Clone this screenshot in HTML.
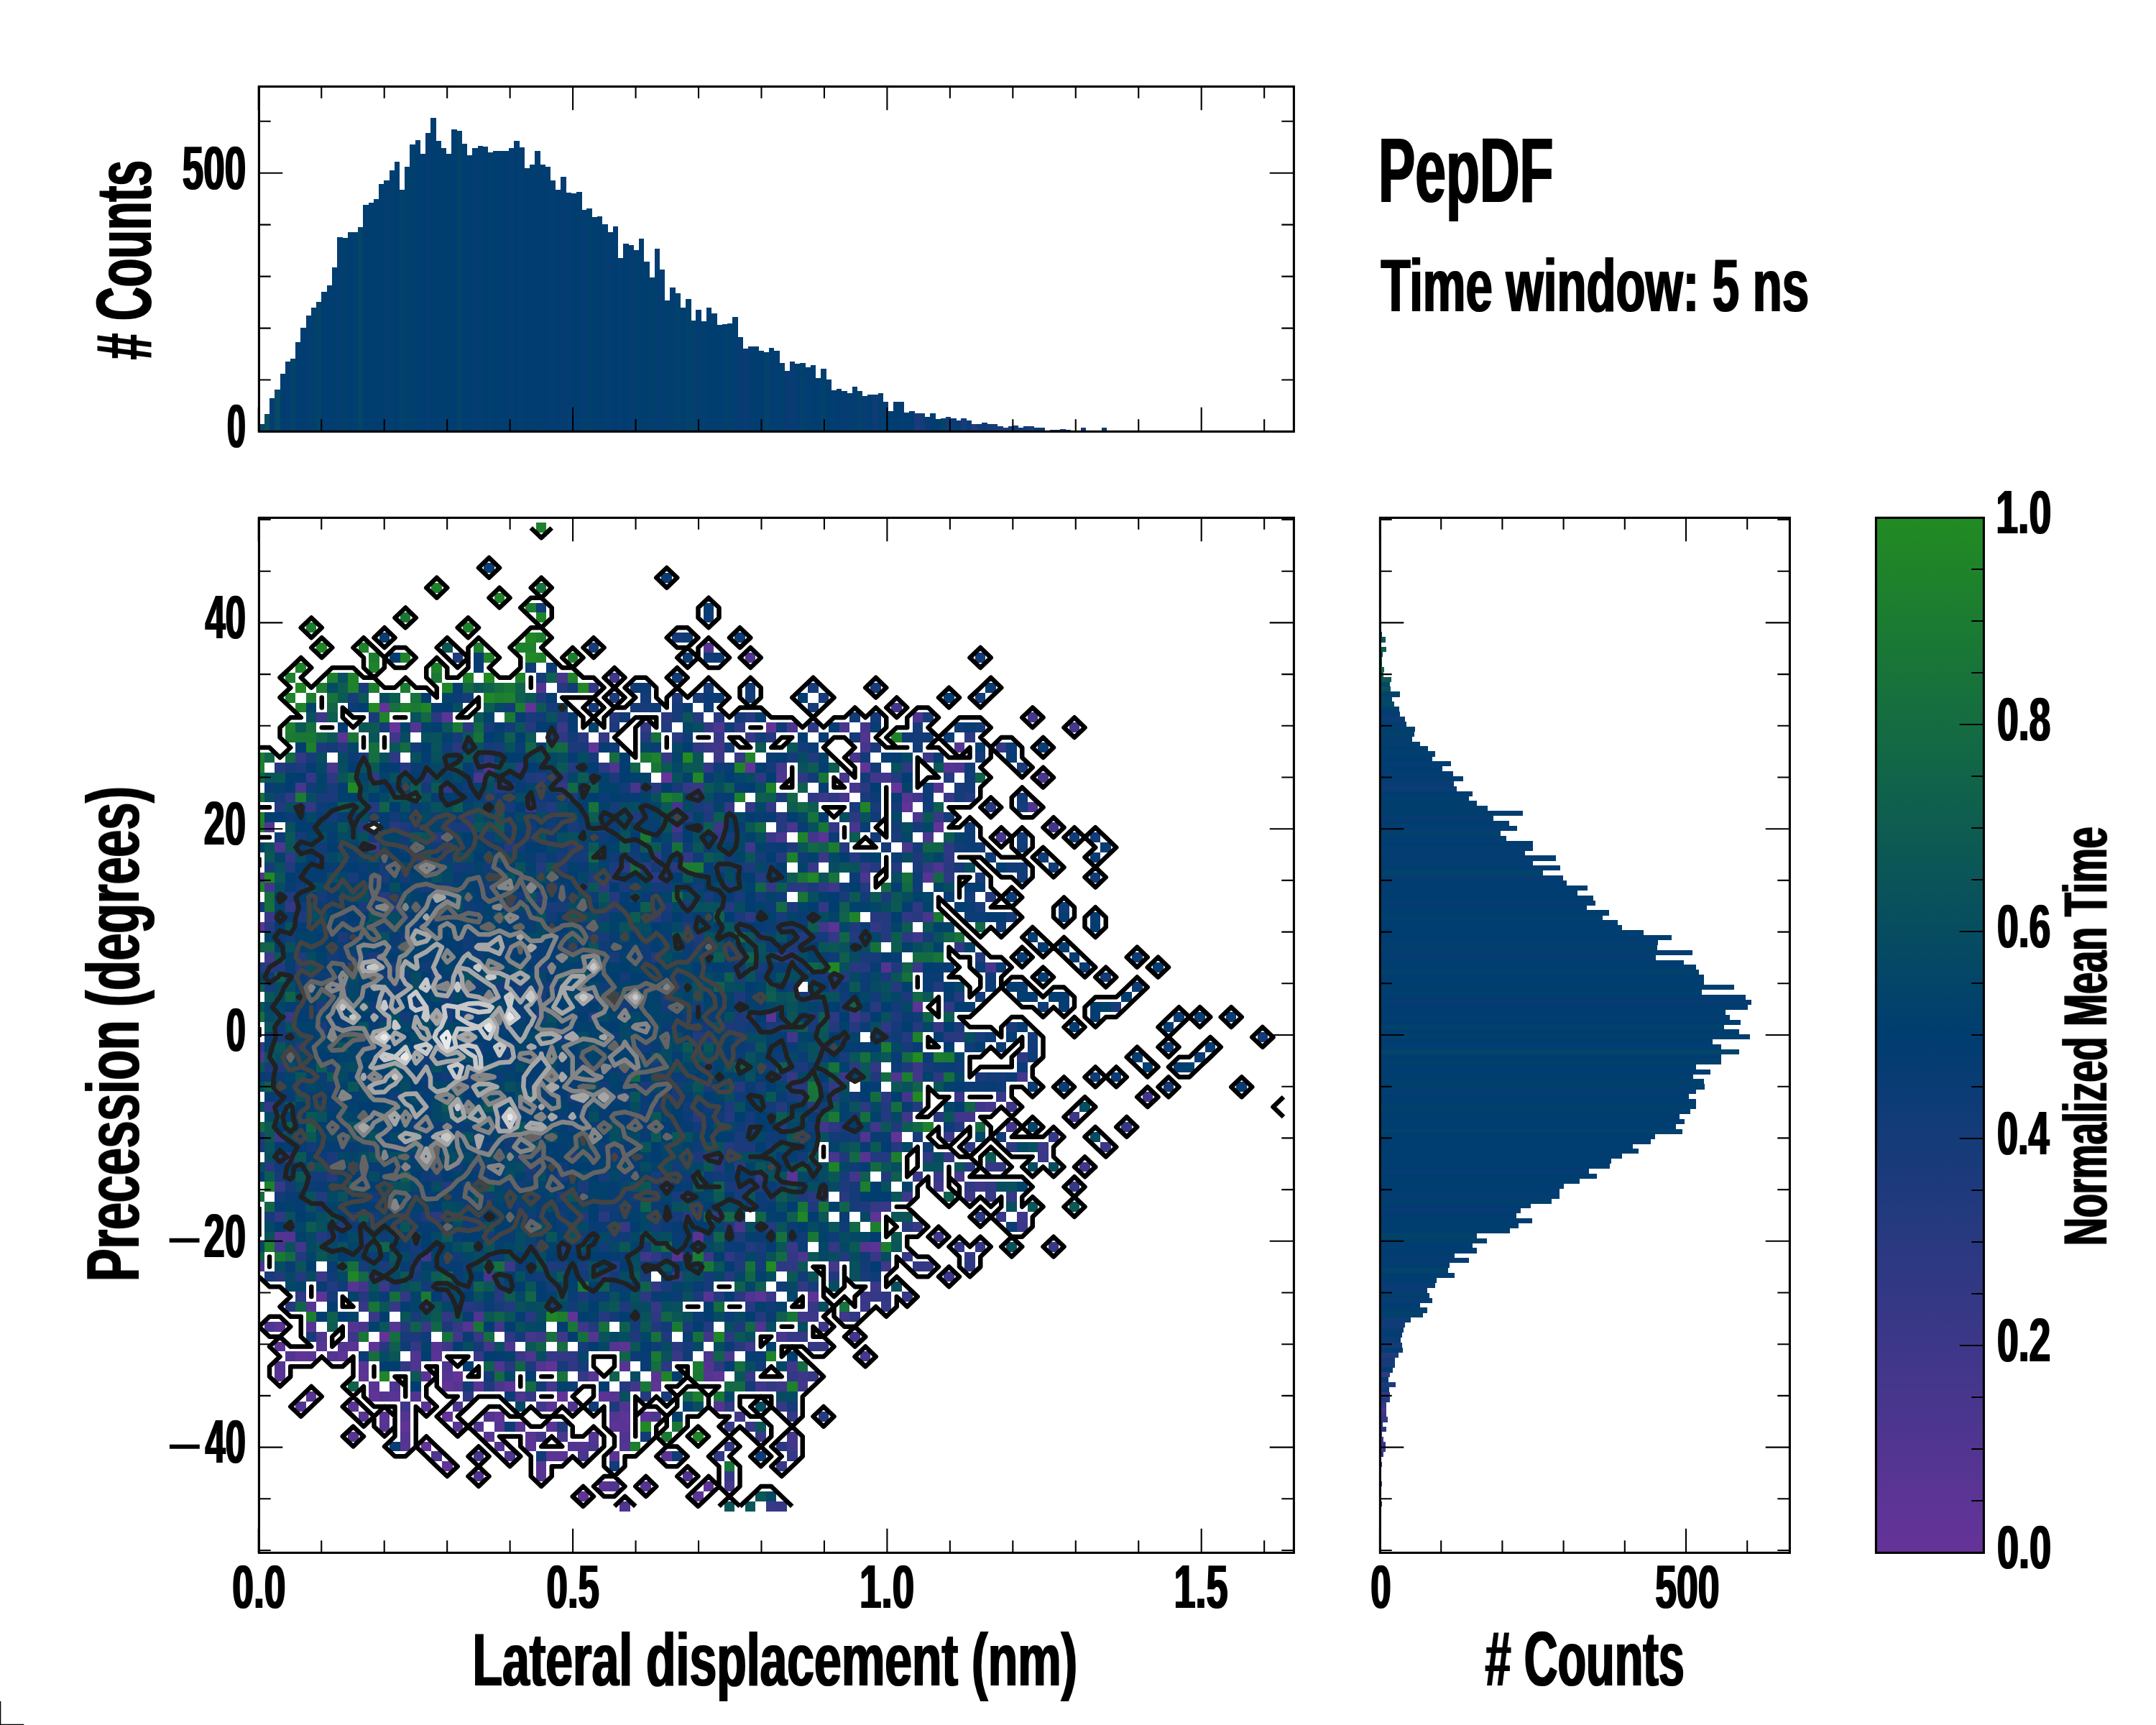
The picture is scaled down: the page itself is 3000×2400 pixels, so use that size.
<!DOCTYPE html>
<html lang="en"><head><meta charset="utf-8"><title>PepDF</title><style>html,body{margin:0;padding:0;background:#fff;overflow:hidden}svg{display:block}</style></head><body>
<svg width="3000" height="2400" viewBox="0 0 3000 2400">
<defs><clipPath id="cm"><rect x="360" y="720" width="1440" height="1440"/></clipPath><linearGradient id="cg" x1="0" y1="1" x2="0" y2="0"><stop offset="0" stop-color="#663399"/><stop offset="0.5" stop-color="#003d70"/><stop offset="1" stop-color="#228b22"/></linearGradient><filter id="fh" x="-5%" y="-5%" width="110%" height="110%"><feMorphology operator="dilate" radius="1 0"/></filter><filter id="fv" x="-5%" y="-5%" width="110%" height="110%"><feMorphology operator="dilate" radius="0 1"/></filter></defs>
<rect width="3000" height="2400" fill="#fff"/>
<g clip-path="url(#cm)"><g shape-rendering="crispEdges" transform="translate(353.227,727.446) scale(14.54545,13.89192)">
<path fill="#663399" d="M61 26h1v1h-1zM39 25h1v1h-1zM13 20h1v1h-1z"/>
<path fill="#633398" d="M18 94h1v1h-1zM16 92h1v1h-1zM18 89h1v1h-1zM29 87h1v1h-1zM19 85h1v1h-1zM12 81h1v1h-1zM12 18h1v1h-1zM26 18h1v1h-1z"/>
<path fill="#603496" d="M31 97h1v1h-1zM14 90h1v1h-1zM23 89h1v1h-1zM11 87h1v1h-1zM18 86h1v1h-1zM38 86h1v1h-1zM28 84h1v1h-1zM4 83h1v1h-1zM61 61h1v1h-1zM65 30h1v1h-1zM62 28h1v1h-1zM47 24h1v1h-1zM58 24h1v1h-1zM32 22h1v1h-1zM49 20h1v1h-1z"/>
<path fill="#5c3495" d="M42 97h1v1h-1zM43 96h1v1h-1zM26 92h1v1h-1zM34 90h1v1h-1zM35 89h1v1h-1zM37 89h1v1h-1zM24 86h1v1h-1zM10 85h1v1h-1zM44 85h1v1h-1zM5 83h1v1h-1zM8 83h1v1h-1zM2 82h1v1h-1zM11 82h1v1h-1zM35 82h1v1h-1zM2 80h1v1h-1zM30 79h1v1h-1zM6 77h1v1h-1zM48 77h1v1h-1zM53 77h1v1h-1zM59 69h1v1h-1zM63 48h1v1h-1zM18 19h1v1h-1z"/>
<path fill="#593494" d="M33 96h1v1h-1zM28 93h2v1h-2zM34 93h1v1h-1zM39 93h1v1h-1zM22 91h1v1h-1zM26 91h1v1h-1zM28 90h1v1h-1zM35 90h1v1h-1zM12 89h1v1h-1zM9 88h1v1h-1zM16 88h1v1h-1zM28 88h1v1h-1zM13 87h1v1h-1zM33 87h1v1h-1zM11 86h1v1h-1zM21 86h1v1h-1zM2 85h1v1h-1zM16 85h1v1h-1zM38 85h1v1h-1zM10 84h1v1h-1zM17 83h1v1h-1zM9 82h1v1h-1zM59 72h1v1h-1zM51 65h1v1h-1zM49 49h1v1h-1zM0 40h1v1h-1zM55 40h1v1h-1zM54 31h1v1h-1zM8 21h1v1h-1z"/>
<path fill="#563592" d="M27 95h1v1h-1zM27 94h1v1h-1zM14 92h1v1h-1zM9 91h1v1h-1zM12 90h1v1h-1zM19 90h1v1h-1zM23 90h1v1h-1zM25 90h1v1h-1zM10 89h1v1h-1zM5 87h1v1h-1zM34 87h1v1h-1zM19 86h1v1h-1zM18 85h1v1h-1zM32 85h1v1h-1zM43 85h1v1h-1zM2 84h1v1h-1zM35 84h1v1h-1zM6 82h1v1h-1zM17 82h1v1h-1zM5 80h1v1h-1zM13 80h1v1h-1zM43 77h1v1h-1zM9 76h1v1h-1zM42 71h1v1h-1zM58 63h1v1h-1zM64 35h1v1h-1zM62 27h1v1h-1zM66 24h1v1h-1zM43 12h1v1h-1z"/>
<path fill="#533591" d="M37 96h1v1h-1zM23 92h1v1h-1zM31 92h1v1h-1zM35 92h1v1h-1zM14 91h1v1h-1zM32 91h1v1h-1zM21 90h1v1h-1zM14 89h1v1h-1zM34 89h1v1h-1zM4 88h1v1h-1zM44 88h1v1h-1zM12 87h1v1h-1zM27 84h1v1h-1zM43 84h1v1h-1zM7 83h1v1h-1zM8 82h1v1h-1zM34 82h1v1h-1zM32 81h1v1h-1zM9 80h1v1h-1zM20 80h1v1h-1zM5 78h1v1h-1zM40 73h1v1h-1zM58 72h1v1h-1zM2 71h2v1h-2zM60 44h1v1h-1zM0 35h1v1h-1zM65 26h1v1h-1zM67 22h1v1h-1zM15 20h1v1h-1zM27 16h1v1h-1z"/>
<path fill="#4f3590" d="M35 98h1v1h-1zM34 96h1v1h-1zM21 95h1v1h-1zM41 95h1v1h-1zM24 93h1v1h-1zM30 92h1v1h-1zM35 91h1v1h-1zM22 89h1v1h-1zM30 88h1v1h-1zM35 88h1v1h-1zM15 87h1v1h-1zM18 84h1v1h-1zM23 84h1v1h-1zM3 83h1v1h-1zM15 83h1v1h-1zM24 82h1v1h-1zM48 80h1v1h-1zM21 79h1v1h-1zM47 77h1v1h-1zM0 74h1v1h-1zM58 61h1v1h-1zM0 53h1v1h-1zM1 30h1v1h-1zM22 24h1v1h-1zM67 24h1v1h-1zM58 21h1v1h-1zM63 19h1v1h-1zM47 13h1v1h-1z"/>
<path fill="#4c368f" d="M17 93h1v1h-1zM38 89h1v1h-1zM19 88h1v1h-1zM25 87h1v1h-1zM13 86h1v1h-1zM15 84h1v1h-1zM26 83h1v1h-1zM6 81h1v1h-1zM1 80h1v1h-1zM52 73h1v1h-1zM61 55h1v1h-1zM65 34h1v1h-1zM2 32h1v1h-1zM50 31h1v1h-1zM74 28h1v1h-1zM50 25h1v1h-1zM34 24h1v1h-1zM44 20h1v1h-1z"/>
<path fill="#49368d" d="M21 93h1v1h-1zM32 92h1v1h-1zM29 91h1v1h-1zM23 86h1v1h-1zM43 83h1v1h-1zM45 83h1v1h-1zM67 65h1v1h-1zM58 35h1v1h-1zM62 32h1v1h-1zM64 31h1v1h-1zM51 30h1v1h-1zM63 29h1v1h-1zM56 27h1v1h-1zM21 25h1v1h-1zM75 25h1v1h-1zM7 24h1v1h-1zM51 20h1v1h-1zM56 20h1v1h-1z"/>
<path fill="#46368c" d="M45 96h1v1h-1zM31 93h1v1h-1zM51 91h1v1h-1zM28 86h1v1h-1zM58 83h1v1h-1zM26 81h1v1h-1zM50 81h1v1h-1zM10 80h1v1h-1zM22 75h1v1h-1zM55 74h1v1h-1zM46 70h1v1h-1zM55 63h1v1h-1zM70 58h1v1h-1zM70 44h1v1h-1zM64 39h1v1h-1zM71 31h1v1h-1zM57 30h1v1h-1zM4 26h1v1h-1zM36 26h1v1h-1zM57 26h1v1h-1zM56 25h1v1h-1zM50 24h1v1h-1zM57 23h1v1h-1zM58 22h1v1h-1zM58 20h1v1h-1zM78 20h1v1h-1zM74 19h1v1h-1zM29 15h1v1h-1z"/>
<path fill="#42368b" d="M51 92h1v1h-1zM27 91h1v1h-1zM46 89h1v1h-1zM36 86h1v1h-1zM52 86h1v1h-1zM22 82h1v1h-1zM43 81h1v1h-1zM57 81h1v1h-1zM23 80h1v1h-1zM10 76h1v1h-1zM16 73h1v1h-1zM57 65h1v1h-1zM79 64h1v1h-1zM54 60h1v1h-1zM72 60h1v1h-1zM62 59h1v1h-1zM68 59h1v1h-1zM62 57h1v1h-1zM85 57h1v1h-1zM63 55h1v1h-1zM73 55h1v1h-1zM51 51h1v1h-1zM1 36h1v1h-1zM53 31h1v1h-1zM76 30h1v1h-1zM40 28h1v1h-1zM63 27h1v1h-1zM59 25h2v1h-2zM44 22h1v1h-1zM61 18h1v1h-1z"/>
<path fill="#3f3789" d="M14 88h1v1h-1zM27 88h1v1h-1zM48 86h1v1h-1zM51 84h1v1h-1zM47 82h1v1h-1zM19 81h1v1h-1zM29 81h1v1h-1zM52 79h1v1h-1zM56 79h1v1h-1zM60 74h1v1h-1zM37 73h1v1h-1zM2 72h1v1h-1zM4 72h1v1h-1zM65 71h1v1h-1zM73 69h1v1h-1zM65 66h1v1h-1zM59 60h1v1h-1zM67 59h1v1h-1zM1 43h1v1h-1zM63 41h1v1h-1zM54 40h1v1h-1zM55 36h1v1h-1zM11 32h1v1h-1zM47 32h1v1h-1zM40 30h1v1h-1zM13 21h1v1h-1zM6 19h1v1h-1zM34 15h1v1h-1z"/>
<path fill="#3c3788" d="M50 86h1v1h-1zM52 85h1v1h-1zM18 82h1v1h-1zM9 81h1v1h-1zM27 81h1v1h-1zM31 80h1v1h-1zM54 80h1v1h-1zM53 79h1v1h-1zM58 77h1v1h-1zM12 76h1v1h-1zM59 76h1v1h-1zM6 75h1v1h-1zM66 75h1v1h-1zM24 74h1v1h-1zM73 70h1v1h-1zM62 67h1v1h-1zM68 67h1v1h-1zM69 66h1v1h-1zM75 62h1v1h-1zM2 61h1v1h-1zM66 61h1v1h-1zM78 59h1v1h-1zM69 58h1v1h-1zM56 55h1v1h-1zM63 54h1v1h-1zM57 49h1v1h-1zM63 44h1v1h-1zM54 33h1v1h-1zM44 30h1v1h-1zM54 27h1v1h-1zM44 23h1v1h-1z"/>
<path fill="#393787" d="M49 98h1v1h-1zM50 94h1v1h-1zM48 91h1v1h-1zM47 90h1v1h-1zM21 83h1v1h-1zM25 83h1v1h-1zM40 83h1v1h-1zM16 80h1v1h-1zM11 79h1v1h-1zM13 78h1v1h-1zM58 78h1v1h-1zM49 77h1v1h-1zM40 75h1v1h-1zM43 73h1v1h-1zM51 72h1v1h-1zM71 69h1v1h-1zM60 68h1v1h-1zM2 66h1v1h-1zM63 65h1v1h-1zM65 65h1v1h-1zM75 63h1v1h-1zM81 62h1v1h-1zM72 58h1v1h-1zM67 57h1v1h-1zM71 57h1v1h-1zM3 49h1v1h-1zM9 44h1v1h-1zM1 39h1v1h-1zM49 31h1v1h-1zM65 29h1v1h-1zM26 28h1v1h-1zM42 26h1v1h-1zM64 23h1v1h-1zM43 22h1v1h-1zM44 21h1v1h-1zM29 20h1v1h-1z"/>
<path fill="#353885" d="M50 98h1v1h-1zM45 95h1v1h-1zM45 90h1v1h-1zM50 88h1v1h-1zM31 85h1v1h-1zM47 85h1v1h-1zM53 85h1v1h-1zM28 83h1v1h-1zM54 82h1v1h-1zM21 81h1v1h-1zM51 81h2v1h-2zM19 80h1v1h-1zM10 78h1v1h-1zM38 78h1v1h-1zM53 78h1v1h-1zM60 78h1v1h-1zM59 77h1v1h-1zM62 77h1v1h-1zM64 74h1v1h-1zM59 73h1v1h-1zM62 73h1v1h-1zM67 72h1v1h-1zM76 72h1v1h-1zM35 70h1v1h-1zM63 70h1v1h-1zM59 68h1v1h-1zM70 67h1v1h-1zM72 67h1v1h-1zM78 66h1v1h-1zM48 65h1v1h-1zM70 64h2v1h-2zM66 63h1v1h-1zM76 61h1v1h-1zM83 60h1v1h-1zM51 55h1v1h-1zM0 52h1v1h-1zM65 50h1v1h-1zM53 34h1v1h-1zM58 34h1v1h-1zM64 34h1v1h-1zM38 33h1v1h-1zM55 30h1v1h-1zM45 28h1v1h-1zM66 27h1v1h-1zM41 26h1v1h-1zM39 23h1v1h-1zM71 22h1v1h-1zM33 21h1v1h-1zM37 20h1v1h-1zM43 20h1v1h-1z"/>
<path fill="#323884" d="M44 93h1v1h-1zM51 93h1v1h-1zM51 89h1v1h-1zM26 87h1v1h-1zM49 86h1v1h-1zM51 85h1v1h-1zM14 84h1v1h-1zM29 83h1v1h-1zM15 82h1v1h-1zM53 82h1v1h-1zM18 79h1v1h-1zM14 77h1v1h-1zM38 76h1v1h-1zM52 76h1v1h-1zM63 74h1v1h-1zM51 73h1v1h-1zM68 73h1v1h-1zM55 72h1v1h-1zM69 72h1v1h-1zM44 69h1v1h-1zM41 67h1v1h-1zM39 66h1v1h-1zM70 66h1v1h-1zM1 58h1v1h-1zM55 56h1v1h-1zM59 54h1v1h-1zM66 48h1v1h-1zM67 42h1v1h-1zM55 41h1v1h-1zM59 40h1v1h-1zM3 38h1v1h-1zM54 38h1v1h-1zM49 36h1v1h-1zM3 33h1v1h-1zM41 33h1v1h-1zM44 31h1v1h-1zM5 28h1v1h-1zM47 28h1v1h-1zM49 28h1v1h-1zM29 26h1v1h-1zM5 25h1v1h-1zM11 25h1v1h-1zM43 24h1v1h-1zM4 23h1v1h-1zM46 23h1v1h-1zM47 21h1v1h-1zM32 16h1v1h-1z"/>
<path fill="#2f3883" d="M45 92h1v1h-1zM45 88h1v1h-1zM30 84h1v1h-1zM30 83h1v1h-1zM38 79h1v1h-1zM57 79h1v1h-1zM4 77h1v1h-1zM60 77h1v1h-1zM50 74h2v1h-2zM38 73h1v1h-1zM45 73h1v1h-1zM2 69h1v1h-1zM68 66h1v1h-1zM46 64h1v1h-1zM43 63h1v1h-1zM64 63h1v1h-1zM60 50h1v1h-1zM50 43h1v1h-1zM62 39h1v1h-1zM63 38h1v1h-1zM33 36h1v1h-1zM54 36h1v1h-1zM18 32h1v1h-1zM3 27h1v1h-1zM53 27h1v1h-1zM18 26h1v1h-1zM62 24h1v1h-1zM13 23h1v1h-1zM46 20h1v1h-1z"/>
<path fill="#2c3982" d="M20 87h1v1h-1zM39 84h1v1h-1zM44 84h1v1h-1zM24 81h1v1h-1zM45 81h1v1h-1zM37 77h1v1h-1zM68 74h1v1h-1zM17 69h1v1h-1zM3 63h1v1h-1zM68 62h1v1h-1zM72 62h1v1h-1zM55 60h1v1h-1zM58 58h1v1h-1zM60 57h1v1h-1zM65 55h1v1h-1zM57 54h1v1h-1zM73 53h1v1h-1zM55 49h1v1h-1zM1 44h1v1h-1zM62 41h1v1h-1zM47 39h1v1h-1zM52 36h1v1h-1zM38 35h1v1h-1zM66 35h1v1h-1zM35 34h1v1h-1zM37 34h1v1h-1zM66 33h1v1h-1zM66 32h1v1h-1zM57 29h1v1h-1zM55 27h1v1h-1zM7 25h1v1h-1zM48 25h1v1h-1zM52 25h1v1h-1zM25 24h1v1h-1zM33 24h1v1h-1zM42 22h1v1h-1zM29 21h1v1h-1zM68 21h1v1h-1zM53 20h1v1h-1z"/>
<path fill="#283980" d="M50 92h1v1h-1zM54 89h1v1h-1zM40 82h1v1h-1zM46 82h1v1h-1zM26 79h1v1h-1zM16 78h1v1h-1zM47 78h1v1h-1zM23 77h1v1h-1zM46 77h1v1h-1zM34 74h1v1h-1zM33 69h1v1h-1zM41 69h1v1h-1zM69 69h1v1h-1zM53 67h1v1h-1zM56 67h1v1h-1zM1 64h1v1h-1zM68 64h1v1h-1zM44 63h1v1h-1zM42 59h1v1h-1zM65 59h1v1h-1zM53 58h1v1h-1zM55 57h1v1h-1zM51 56h1v1h-1zM66 51h2v1h-2zM58 49h1v1h-1zM59 48h1v1h-1zM57 44h1v1h-1zM51 43h1v1h-1zM1 40h1v1h-1zM38 39h1v1h-1zM63 39h1v1h-1zM12 37h1v1h-1zM51 36h1v1h-1zM40 34h1v1h-1zM66 34h1v1h-1zM15 33h1v1h-1zM40 31h1v1h-1zM13 30h1v1h-1zM23 26h1v1h-1zM38 26h1v1h-1zM58 26h1v1h-1zM29 25h1v1h-1zM14 24h1v1h-1zM22 23h1v1h-1zM19 22h1v1h-1zM31 21h1v1h-1zM40 21h1v1h-1zM20 20h1v1h-1zM17 19h1v1h-1zM39 19h1v1h-1z"/>
<path fill="#25397f" d="M37 87h1v1h-1zM35 86h1v1h-1zM24 84h1v1h-1zM12 82h1v1h-1zM14 80h1v1h-1zM32 80h1v1h-1zM33 79h1v1h-1zM3 78h1v1h-1zM20 78h1v1h-1zM10 77h1v1h-1zM2 75h1v1h-1zM4 75h1v1h-1zM33 75h1v1h-1zM45 75h1v1h-1zM62 70h1v1h-1zM7 65h1v1h-1zM44 64h1v1h-1zM50 60h1v1h-1zM45 59h1v1h-1zM50 58h1v1h-1zM46 56h1v1h-1zM52 56h1v1h-1zM4 52h1v1h-1zM57 50h1v1h-1zM67 47h1v1h-1zM61 46h1v1h-1zM56 45h1v1h-1zM58 44h1v1h-1zM38 43h1v1h-1zM60 41h1v1h-1zM59 39h2v1h-2zM24 38h1v1h-1zM34 37h1v1h-1zM70 37h1v1h-1zM59 34h1v1h-1zM50 33h1v1h-1zM24 32h1v1h-1zM56 32h1v1h-1zM17 31h1v1h-1zM10 30h1v1h-1zM41 29h1v1h-1zM50 29h1v1h-1zM70 28h1v1h-1zM27 25h1v1h-1zM2 24h1v1h-1zM49 21h1v1h-1zM26 20h1v1h-1zM34 19h1v1h-1zM42 19h1v1h-1zM44 19h1v1h-1zM47 19h1v1h-1zM29 16h1v1h-1z"/>
<path fill="#223a7e" d="M43 80h1v1h-1zM48 79h1v1h-1zM24 78h1v1h-1zM18 77h1v1h-1zM44 77h1v1h-1zM7 76h1v1h-1zM15 74h1v1h-1zM4 73h1v1h-1zM56 73h1v1h-1zM29 72h1v1h-1zM47 72h1v1h-1zM6 71h1v1h-1zM8 70h1v1h-1zM49 70h1v1h-1zM6 67h1v1h-1zM18 66h1v1h-1zM48 66h1v1h-1zM10 64h1v1h-1zM30 63h1v1h-1zM59 63h2v1h-2zM45 62h1v1h-1zM61 62h1v1h-1zM67 60h1v1h-1zM60 59h1v1h-1zM60 58h1v1h-1zM63 58h1v1h-1zM54 52h1v1h-1zM42 51h1v1h-1zM62 51h1v1h-1zM55 50h1v1h-1zM63 50h1v1h-1zM47 49h1v1h-1zM65 46h1v1h-1zM0 44h1v1h-1zM2 44h1v1h-1zM4 44h1v1h-1zM4 43h1v1h-1zM69 43h1v1h-1zM52 41h1v1h-1zM57 41h1v1h-1zM60 40h1v1h-1zM45 38h1v1h-1zM3 37h1v1h-1zM28 36h1v1h-1zM58 36h1v1h-1zM34 35h1v1h-1zM48 35h1v1h-1zM3 34h1v1h-1zM27 34h1v1h-1zM39 34h1v1h-1zM61 34h1v1h-1zM57 33h1v1h-1zM50 30h1v1h-1zM20 29h1v1h-1zM2 28h1v1h-1zM4 28h1v1h-1zM11 28h1v1h-1zM28 28h1v1h-1zM43 28h1v1h-1zM68 27h1v1h-1zM16 25h1v1h-1zM61 25h1v1h-1zM66 25h1v1h-1zM30 24h1v1h-1zM8 22h1v1h-1zM37 21h1v1h-1zM39 20h1v1h-1z"/>
<path fill="#1f3a7c" d="M29 90h1v1h-1zM34 88h1v1h-1zM22 86h1v1h-1zM36 81h1v1h-1zM39 81h1v1h-1zM38 80h1v1h-1zM21 78h1v1h-1zM35 78h1v1h-1zM23 76h1v1h-1zM11 75h1v1h-1zM55 75h1v1h-1zM28 74h1v1h-1zM46 74h1v1h-1zM41 73h1v1h-1zM46 71h1v1h-1zM45 70h1v1h-1zM14 69h1v1h-1zM16 69h1v1h-1zM31 69h1v1h-1zM53 68h1v1h-1zM58 68h1v1h-1zM29 67h1v1h-1zM56 66h1v1h-1zM60 65h1v1h-1zM7 64h1v1h-1zM56 63h1v1h-1zM0 61h1v1h-1zM61 60h1v1h-1zM45 58h1v1h-1zM52 57h1v1h-1zM59 55h1v1h-1zM2 54h1v1h-1zM62 54h1v1h-1zM43 51h1v1h-1zM46 51h1v1h-1zM32 49h1v1h-1zM61 49h1v1h-1zM8 46h1v1h-1zM55 46h1v1h-1zM46 45h1v1h-1zM55 45h1v1h-1zM61 44h1v1h-1zM51 42h1v1h-1zM42 41h1v1h-1zM41 40h1v1h-1zM57 40h1v1h-1zM4 39h1v1h-1zM13 38h1v1h-1zM27 37h1v1h-1zM32 35h1v1h-1zM34 34h1v1h-1zM47 34h1v1h-1zM30 32h1v1h-1zM51 32h1v1h-1zM36 29h1v1h-1zM43 29h1v1h-1zM30 27h1v1h-1zM24 26h1v1h-1zM26 25h1v1h-1zM4 24h1v1h-1zM21 24h1v1h-1zM53 23h1v1h-1zM29 19h1v1h-1zM27 17h1v1h-1zM34 17h1v1h-1zM40 17h1v1h-1z"/>
<path fill="#1c3a7b" d="M26 84h1v1h-1zM15 81h1v1h-1zM18 80h1v1h-1zM41 80h1v1h-1zM46 80h1v1h-1zM31 77h1v1h-1zM42 77h1v1h-1zM12 74h1v1h-1zM46 73h1v1h-1zM10 72h1v1h-1zM3 70h1v1h-1zM9 69h1v1h-1zM52 67h1v1h-1zM31 66h1v1h-1zM46 66h1v1h-1zM29 65h1v1h-1zM26 64h1v1h-1zM7 63h1v1h-1zM42 63h1v1h-1zM0 62h1v1h-1zM46 62h2v1h-2zM47 60h1v1h-1zM56 60h1v1h-1zM36 59h1v1h-1zM37 56h1v1h-1zM69 55h1v1h-1zM1 54h1v1h-1zM43 54h1v1h-1zM52 54h1v1h-1zM56 51h1v1h-1zM6 50h1v1h-1zM45 50h1v1h-1zM50 50h1v1h-1zM67 50h1v1h-1zM27 49h1v1h-1zM46 49h1v1h-1zM53 49h1v1h-1zM6 48h1v1h-1zM42 48h1v1h-1zM27 47h1v1h-1zM46 47h1v1h-1zM53 47h1v1h-1zM62 47h1v1h-1zM60 45h1v1h-1zM11 43h1v1h-1zM46 43h1v1h-1zM30 42h1v1h-1zM45 42h1v1h-1zM8 41h1v1h-1zM32 41h1v1h-1zM34 38h1v1h-1zM41 38h1v1h-1zM51 38h1v1h-1zM60 37h1v1h-1zM31 36h1v1h-1zM35 36h1v1h-1zM53 36h1v1h-1zM11 35h1v1h-1zM39 35h1v1h-1zM44 34h1v1h-1zM63 33h1v1h-1zM14 30h1v1h-1zM18 30h1v1h-1zM20 30h1v1h-1zM33 30h1v1h-1zM7 27h1v1h-1zM22 27h1v1h-1zM34 25h1v1h-1zM6 22h1v1h-1zM30 22h1v1h-1zM59 22h1v1h-1zM34 20h1v1h-1zM11 19h1v1h-1zM19 13h1v1h-1z"/>
<path fill="#183b7a" d="M39 87h1v1h-1zM31 82h1v1h-1zM14 81h1v1h-1zM15 79h1v1h-1zM23 78h1v1h-1zM17 76h1v1h-1zM39 76h1v1h-1zM53 76h1v1h-1zM1 75h1v1h-1zM37 75h1v1h-1zM58 75h1v1h-1zM10 74h1v1h-1zM29 74h1v1h-1zM31 74h1v1h-1zM48 72h1v1h-1zM7 71h1v1h-1zM10 71h1v1h-1zM38 67h1v1h-1zM40 67h1v1h-1zM46 67h1v1h-1zM54 67h1v1h-1zM20 66h1v1h-1zM47 66h1v1h-1zM33 65h1v1h-1zM38 65h1v1h-1zM56 65h1v1h-1zM2 63h1v1h-1zM45 63h1v1h-1zM46 61h1v1h-1zM30 57h1v1h-1zM40 57h1v1h-1zM51 57h1v1h-1zM43 56h1v1h-1zM48 56h1v1h-1zM50 55h1v1h-1zM38 54h1v1h-1zM51 54h1v1h-1zM56 53h1v1h-1zM29 51h1v1h-1zM60 51h1v1h-1zM69 51h1v1h-1zM46 50h1v1h-1zM49 50h1v1h-1zM53 50h1v1h-1zM72 50h1v1h-1zM18 48h1v1h-1zM82 48h1v1h-1zM22 47h1v1h-1zM32 47h1v1h-1zM39 47h1v1h-1zM1 46h1v1h-1zM13 44h1v1h-1zM48 44h1v1h-1zM34 43h1v1h-1zM58 43h1v1h-1zM48 41h1v1h-1zM46 39h1v1h-1zM50 39h1v1h-1zM10 38h1v1h-1zM28 38h2v1h-2zM39 38h1v1h-1zM69 38h1v1h-1zM43 37h1v1h-1zM46 37h1v1h-1zM56 37h1v1h-1zM16 36h1v1h-1zM45 36h1v1h-1zM9 35h1v1h-1zM12 35h1v1h-1zM1 34h1v1h-1zM29 34h1v1h-1zM46 34h1v1h-1zM27 33h1v1h-1zM29 33h1v1h-1zM10 32h1v1h-1zM61 31h1v1h-1zM19 30h1v1h-1zM30 30h1v1h-1zM27 28h1v1h-1zM42 28h1v1h-1zM57 28h1v1h-1zM59 28h1v1h-1zM6 27h1v1h-1zM42 27h1v1h-1zM50 27h1v1h-1zM58 27h1v1h-1zM7 26h1v1h-1zM18 24h1v1h-1zM73 24h1v1h-1zM5 23h1v1h-1zM10 23h1v1h-1zM23 22h1v1h-1zM26 19h1v1h-1zM64 19h1v1h-1zM37 18h1v1h-1zM53 18h1v1h-1zM9 17h1v1h-1zM42 17h1v1h-1zM54 17h1v1h-1zM10 16h1v1h-1zM53 16h1v1h-1zM59 16h1v1h-1zM32 12h1v1h-1z"/>
<path fill="#153b78" d="M51 88h1v1h-1zM29 84h1v1h-1zM31 84h1v1h-1zM41 82h1v1h-1zM5 81h1v1h-1zM36 80h1v1h-1zM28 78h1v1h-1zM7 77h1v1h-1zM13 76h1v1h-1zM28 76h1v1h-1zM43 76h1v1h-1zM15 75h1v1h-1zM31 75h1v1h-1zM39 73h1v1h-1zM15 72h1v1h-1zM26 72h2v1h-2zM31 71h1v1h-1zM38 70h1v1h-1zM1 69h1v1h-1zM11 69h1v1h-1zM40 69h1v1h-1zM57 68h1v1h-1zM49 67h1v1h-1zM57 67h1v1h-1zM45 66h1v1h-1zM50 66h1v1h-1zM57 66h1v1h-1zM2 65h1v1h-1zM5 65h2v1h-2zM17 65h1v1h-1zM19 64h1v1h-1zM11 62h1v1h-1zM49 62h1v1h-1zM26 61h1v1h-1zM63 61h1v1h-1zM23 60h1v1h-1zM35 57h1v1h-1zM40 56h1v1h-1zM54 56h1v1h-1zM87 56h1v1h-1zM20 55h1v1h-1zM39 55h1v1h-1zM16 54h1v1h-1zM64 54h1v1h-1zM24 52h1v1h-1zM62 52h1v1h-1zM2 51h1v1h-1zM74 51h1v1h-1zM18 49h1v1h-1zM46 48h1v1h-1zM56 48h1v1h-1zM23 46h1v1h-1zM28 46h1v1h-1zM17 45h1v1h-1zM27 44h1v1h-1zM7 43h1v1h-1zM59 43h1v1h-1zM42 42h1v1h-1zM3 41h1v1h-1zM33 41h1v1h-1zM53 41h2v1h-2zM64 41h1v1h-1zM50 40h2v1h-2zM17 39h1v1h-1zM33 39h1v1h-1zM53 39h1v1h-1zM72 39h1v1h-1zM0 38h1v1h-1zM27 38h1v1h-1zM6 37h1v1h-1zM11 37h1v1h-1zM13 37h1v1h-1zM48 37h1v1h-1zM18 36h1v1h-1zM38 36h1v1h-1zM14 35h1v1h-1zM69 35h1v1h-1zM12 34h1v1h-1zM49 34h1v1h-1zM63 34h1v1h-1zM67 34h1v1h-1zM6 33h1v1h-1zM31 33h1v1h-1zM48 33h1v1h-1zM4 31h1v1h-1zM45 31h1v1h-1zM42 30h1v1h-1zM61 30h1v1h-1zM63 30h1v1h-1zM7 29h1v1h-1zM66 29h1v1h-1zM24 28h1v1h-1zM34 28h1v1h-1zM73 28h1v1h-1zM2 27h1v1h-1zM67 27h1v1h-1zM40 26h1v1h-1zM67 26h1v1h-1zM3 24h1v1h-1zM32 23h1v1h-1zM51 23h1v1h-1zM22 22h1v1h-1zM31 22h1v1h-1zM19 21h1v1h-1zM57 21h1v1h-1zM12 20h1v1h-1zM22 20h1v1h-1zM24 20h1v1h-1zM63 20h1v1h-1zM40 19h1v1h-1zM46 19h1v1h-1zM28 18h1v1h-1zM36 18h1v1h-1zM40 18h1v1h-1zM20 17h1v1h-1zM69 17h1v1h-1zM43 16h1v1h-1zM27 15h1v1h-1zM40 11h1v1h-1z"/>
<path fill="#123b77" d="M34 94h1v1h-1zM37 91h1v1h-1zM20 86h1v1h-1zM27 86h1v1h-1zM47 86h1v1h-1zM22 85h1v1h-1zM21 82h1v1h-1zM25 81h1v1h-1zM39 80h1v1h-1zM34 79h1v1h-1zM36 79h1v1h-1zM30 78h1v1h-1zM8 76h1v1h-1zM16 76h1v1h-1zM50 76h1v1h-1zM27 75h1v1h-1zM34 75h1v1h-1zM43 75h1v1h-1zM52 75h1v1h-1zM20 74h1v1h-1zM48 74h1v1h-1zM58 74h1v1h-1zM15 73h1v1h-1zM22 73h1v1h-1zM48 73h1v1h-1zM33 72h1v1h-1zM37 72h1v1h-1zM22 71h1v1h-1zM21 70h1v1h-1zM26 69h1v1h-1zM39 69h1v1h-1zM6 68h1v1h-1zM25 68h1v1h-1zM33 68h1v1h-1zM42 68h1v1h-1zM2 67h1v1h-1zM11 67h1v1h-1zM22 67h1v1h-1zM36 67h1v1h-1zM3 66h1v1h-1zM25 66h1v1h-1zM38 66h1v1h-1zM26 65h1v1h-1zM44 65h1v1h-1zM21 64h2v1h-2zM40 64h1v1h-1zM32 63h1v1h-1zM34 63h1v1h-1zM52 63h1v1h-1zM5 62h1v1h-1zM14 62h1v1h-1zM24 61h1v1h-1zM52 61h1v1h-1zM55 61h1v1h-1zM57 61h1v1h-1zM71 61h1v1h-1zM24 60h1v1h-1zM42 60h1v1h-1zM53 60h1v1h-1zM47 59h1v1h-1zM57 59h1v1h-1zM25 58h1v1h-1zM38 58h1v1h-1zM41 58h1v1h-1zM49 58h1v1h-1zM54 58h1v1h-1zM33 56h1v1h-1zM10 55h1v1h-1zM70 55h2v1h-2zM31 54h1v1h-1zM49 54h1v1h-1zM54 53h1v1h-1zM18 52h1v1h-1zM37 52h1v1h-1zM74 52h1v1h-1zM3 51h1v1h-1zM96 51h1v1h-1zM37 50h1v1h-1zM61 50h1v1h-1zM12 49h1v1h-1zM14 49h1v1h-1zM20 49h1v1h-1zM41 49h1v1h-1zM15 48h1v1h-1zM27 48h1v1h-1zM35 48h1v1h-1zM39 48h1v1h-1zM54 48h1v1h-1zM61 48h1v1h-1zM18 47h1v1h-1zM52 47h1v1h-1zM59 47h1v1h-1zM69 47h1v1h-1zM25 46h1v1h-1zM37 46h1v1h-1zM40 46h1v1h-1zM51 46h1v1h-1zM7 45h1v1h-1zM12 45h1v1h-1zM14 45h1v1h-1zM35 45h1v1h-1zM54 45h1v1h-1zM81 45h1v1h-1zM46 44h1v1h-1zM9 43h1v1h-1zM22 42h1v1h-1zM14 41h1v1h-1zM32 40h1v1h-1zM46 40h1v1h-1zM28 39h1v1h-1zM39 39h1v1h-1zM4 38h1v1h-1zM25 37h1v1h-1zM58 37h1v1h-1zM68 37h1v1h-1zM4 36h1v1h-1zM22 36h1v1h-1zM39 36h1v1h-1zM42 36h1v1h-1zM73 35h1v1h-1zM80 35h1v1h-1zM19 34h1v1h-1zM38 34h1v1h-1zM73 34h1v1h-1zM30 33h1v1h-1zM36 33h1v1h-1zM6 32h1v1h-1zM14 32h1v1h-1zM25 32h1v1h-1zM60 32h1v1h-1zM63 32h1v1h-1zM67 32h1v1h-1zM11 31h1v1h-1zM22 31h1v1h-1zM59 31h1v1h-1zM73 31h1v1h-1zM80 31h1v1h-1zM26 30h1v1h-1zM28 30h1v1h-1zM13 29h1v1h-1zM61 28h1v1h-1zM27 27h1v1h-1zM73 27h1v1h-1zM16 26h1v1h-1zM35 26h1v1h-1zM68 26h1v1h-1zM28 25h1v1h-1zM32 25h1v1h-1zM53 25h1v1h-1zM58 25h1v1h-1zM68 25h1v1h-1zM49 24h1v1h-1zM58 23h1v1h-1zM69 23h1v1h-1zM7 22h1v1h-1zM15 22h1v1h-1zM45 22h1v1h-1zM52 22h1v1h-1zM63 22h1v1h-1zM30 21h1v1h-1zM48 21h1v1h-1zM63 21h1v1h-1zM69 20h1v1h-1zM27 19h1v1h-1zM57 19h1v1h-1zM59 19h1v1h-1zM24 18h1v1h-1zM32 18h1v1h-1zM37 17h1v1h-1zM47 17h1v1h-1zM30 16h1v1h-1zM69 13h1v1h-1zM27 8h1v1h-1z"/>
<path fill="#0f3c76" d="M27 93h1v1h-1zM40 93h1v1h-1zM48 93h1v1h-1zM32 88h1v1h-1zM30 86h1v1h-1zM48 84h1v1h-1zM41 83h1v1h-1zM14 82h1v1h-1zM38 82h1v1h-1zM16 81h1v1h-1zM19 78h1v1h-1zM49 78h1v1h-1zM20 76h1v1h-1zM7 75h1v1h-1zM59 75h1v1h-1zM37 74h1v1h-1zM11 73h1v1h-1zM19 73h1v1h-1zM31 73h1v1h-1zM58 73h1v1h-1zM12 71h1v1h-1zM34 71h2v1h-2zM43 71h1v1h-1zM52 71h1v1h-1zM55 71h1v1h-1zM10 70h1v1h-1zM20 70h1v1h-1zM56 70h1v1h-1zM29 69h1v1h-1zM8 68h1v1h-1zM20 68h1v1h-1zM34 68h1v1h-1zM31 67h1v1h-1zM35 67h1v1h-1zM24 66h1v1h-1zM10 65h1v1h-1zM16 65h1v1h-1zM35 65h1v1h-1zM41 65h1v1h-1zM2 64h1v1h-1zM29 64h1v1h-1zM57 64h1v1h-1zM25 63h1v1h-1zM27 63h1v1h-1zM21 62h2v1h-2zM24 62h1v1h-1zM34 62h1v1h-1zM42 62h1v1h-1zM21 61h1v1h-1zM25 61h1v1h-1zM32 61h1v1h-1zM49 61h1v1h-1zM56 61h1v1h-1zM15 60h1v1h-1zM30 60h1v1h-1zM46 60h1v1h-1zM66 60h1v1h-1zM37 59h1v1h-1zM44 59h1v1h-1zM43 58h1v1h-1zM13 57h1v1h-1zM27 57h1v1h-1zM34 57h1v1h-1zM46 57h1v1h-1zM57 57h1v1h-1zM7 56h1v1h-1zM18 55h1v1h-1zM80 55h1v1h-1zM7 54h1v1h-1zM32 54h1v1h-1zM36 54h1v1h-1zM65 54h1v1h-1zM67 54h1v1h-1zM16 53h1v1h-1zM24 53h1v1h-1zM50 53h1v1h-1zM74 53h1v1h-1zM21 52h1v1h-1zM47 52h1v1h-1zM68 52h1v1h-1zM87 52h1v1h-1zM61 51h1v1h-1zM2 50h1v1h-1zM42 50h2v1h-2zM47 50h1v1h-1zM25 49h1v1h-1zM63 49h1v1h-1zM11 48h1v1h-1zM75 48h1v1h-1zM56 47h1v1h-1zM13 46h1v1h-1zM27 46h1v1h-1zM33 46h1v1h-1zM5 45h1v1h-1zM48 45h1v1h-1zM53 45h1v1h-1zM70 45h1v1h-1zM10 44h1v1h-1zM16 44h1v1h-1zM28 44h1v1h-1zM52 44h1v1h-1zM10 43h1v1h-1zM21 43h1v1h-1zM29 43h1v1h-1zM37 43h1v1h-1zM55 43h1v1h-1zM20 42h1v1h-1zM24 42h1v1h-1zM33 42h1v1h-1zM37 42h1v1h-1zM20 41h1v1h-1zM12 40h1v1h-1zM71 40h1v1h-1zM41 39h1v1h-1zM11 38h1v1h-1zM20 38h1v1h-1zM77 38h1v1h-1zM29 37h1v1h-1zM32 37h1v1h-1zM50 37h1v1h-1zM15 36h1v1h-1zM56 36h1v1h-1zM63 36h1v1h-1zM20 34h1v1h-1zM22 34h1v1h-1zM72 34h1v1h-1zM76 34h1v1h-1zM18 33h1v1h-1zM34 33h2v1h-2zM42 33h1v1h-1zM45 33h1v1h-1zM52 33h1v1h-1zM70 33h1v1h-1zM75 33h1v1h-1zM17 32h1v1h-1zM29 32h1v1h-1zM31 32h1v1h-1zM41 32h1v1h-1zM69 32h1v1h-1zM73 32h1v1h-1zM2 31h1v1h-1zM14 31h1v1h-1zM26 31h1v1h-1zM33 31h1v1h-1zM78 31h1v1h-1zM15 30h1v1h-1zM24 30h1v1h-1zM31 30h1v1h-1zM68 30h1v1h-1zM17 29h1v1h-1zM28 29h1v1h-1zM59 29h1v1h-1zM6 28h1v1h-1zM64 28h1v1h-1zM21 27h1v1h-1zM23 27h1v1h-1zM26 27h1v1h-1zM5 26h1v1h-1zM13 26h1v1h-1zM20 26h1v1h-1zM37 26h1v1h-1zM64 26h1v1h-1zM44 24h1v1h-1zM59 24h1v1h-1zM68 24h1v1h-1zM21 23h1v1h-1zM18 22h1v1h-1zM34 22h1v1h-1zM28 21h1v1h-1zM41 21h1v1h-1zM62 21h1v1h-1zM64 21h1v1h-1zM45 20h1v1h-1zM50 20h1v1h-1zM67 20h1v1h-1zM35 19h1v1h-1zM38 18h1v1h-1zM36 16h1v1h-1zM47 16h1v1h-1zM40 15h1v1h-1zM26 14h1v1h-1zM43 13h1v1h-1zM41 11h1v1h-1z"/>
<path fill="#0b3c75" d="M24 90h1v1h-1zM24 87h1v1h-1zM10 83h1v1h-1zM36 83h1v1h-1zM42 79h1v1h-1zM45 79h1v1h-1zM22 78h1v1h-1zM12 77h1v1h-1zM30 77h1v1h-1zM32 77h2v1h-2zM40 77h1v1h-1zM34 76h2v1h-2zM26 75h1v1h-1zM17 74h1v1h-1zM25 74h1v1h-1zM38 74h1v1h-1zM23 73h1v1h-1zM21 72h1v1h-1zM30 72h1v1h-1zM45 72h1v1h-1zM52 72h1v1h-1zM9 70h1v1h-1zM13 70h1v1h-1zM29 70h1v1h-1zM39 70h1v1h-1zM48 70h1v1h-1zM15 69h1v1h-1zM21 69h1v1h-1zM34 69h1v1h-1zM29 68h1v1h-1zM47 68h2v1h-2zM15 67h2v1h-2zM26 67h1v1h-1zM48 67h1v1h-1zM5 66h1v1h-1zM54 66h1v1h-1zM22 65h1v1h-1zM39 65h1v1h-1zM43 65h1v1h-1zM45 65h1v1h-1zM27 64h1v1h-1zM6 63h1v1h-1zM15 63h1v1h-1zM35 63h1v1h-1zM25 62h1v1h-1zM33 62h1v1h-1zM64 62h1v1h-1zM50 61h1v1h-1zM16 60h4v1h-4zM23 59h1v1h-1zM29 59h1v1h-1zM41 59h1v1h-1zM2 58h1v1h-1zM31 58h1v1h-1zM37 58h1v1h-1zM2 57h1v1h-1zM39 57h1v1h-1zM47 57h1v1h-1zM4 56h1v1h-1zM68 56h2v1h-2zM71 56h1v1h-1zM1 55h1v1h-1zM6 55h1v1h-1zM16 55h1v1h-1zM23 55h1v1h-1zM28 55h1v1h-1zM35 55h1v1h-1zM40 55h2v1h-2zM72 55h1v1h-1zM82 55h1v1h-1zM34 54h2v1h-2zM61 54h1v1h-1zM66 54h1v1h-1zM73 54h1v1h-1zM21 53h1v1h-1zM46 53h1v1h-1zM52 53h1v1h-1zM64 53h1v1h-1zM19 52h1v1h-1zM36 52h1v1h-1zM51 52h1v1h-1zM25 51h1v1h-1zM34 51h1v1h-1zM70 51h1v1h-1zM8 50h1v1h-1zM23 50h2v1h-2zM48 50h1v1h-1zM58 50h1v1h-1zM30 49h1v1h-1zM88 49h1v1h-1zM93 49h1v1h-1zM13 48h1v1h-1zM20 48h2v1h-2zM25 48h1v1h-1zM12 47h1v1h-1zM36 47h1v1h-1zM14 46h1v1h-1zM21 46h1v1h-1zM26 46h1v1h-1zM29 46h1v1h-1zM58 46h1v1h-1zM64 46h1v1h-1zM70 46h1v1h-1zM84 46h1v1h-1zM1 45h1v1h-1zM3 45h1v1h-1zM6 45h1v1h-1zM58 45h1v1h-1zM69 44h1v1h-1zM8 43h1v1h-1zM26 43h1v1h-1zM36 43h1v1h-1zM41 43h1v1h-1zM84 43h1v1h-1zM8 42h1v1h-1zM13 42h1v1h-1zM29 42h1v1h-1zM41 42h1v1h-1zM52 42h1v1h-1zM2 41h1v1h-1zM9 40h1v1h-1zM15 40h1v1h-1zM31 40h1v1h-1zM49 40h1v1h-1zM52 40h1v1h-1zM58 40h1v1h-1zM8 39h1v1h-1zM14 39h1v1h-1zM25 39h2v1h-2zM68 39h2v1h-2zM15 38h1v1h-1zM21 38h1v1h-1zM49 38h1v1h-1zM2 37h1v1h-1zM22 37h1v1h-1zM72 37h1v1h-1zM11 36h1v1h-1zM29 36h1v1h-1zM36 36h1v1h-1zM21 35h1v1h-1zM57 35h1v1h-1zM63 35h1v1h-1zM10 34h1v1h-1zM9 33h1v1h-1zM28 33h1v1h-1zM39 33h1v1h-1zM58 33h1v1h-1zM61 33h1v1h-1zM23 32h1v1h-1zM36 32h1v1h-1zM39 32h1v1h-1zM43 32h1v1h-1zM49 32h1v1h-1zM68 32h1v1h-1zM32 31h1v1h-1zM55 31h1v1h-1zM68 31h1v1h-1zM34 30h1v1h-1zM58 30h1v1h-1zM3 29h1v1h-1zM11 29h1v1h-1zM26 29h1v1h-1zM37 29h1v1h-1zM15 28h1v1h-1zM28 27h2v1h-2zM33 27h1v1h-1zM59 27h1v1h-1zM64 27h1v1h-1zM1 26h1v1h-1zM14 26h1v1h-1zM25 25h1v1h-1zM9 23h1v1h-1zM25 22h1v1h-1zM38 22h1v1h-1zM53 22h1v1h-1zM72 22h1v1h-1zM66 21h1v1h-1zM9 18h1v1h-1zM43 18h1v1h-1zM19 17h1v1h-1zM43 17h2v1h-2zM37 16h1v1h-1zM28 14h1v1h-1zM41 13h1v1h-1zM44 13h1v1h-1zM46 11h1v1h-1zM43 9h1v1h-1zM22 4h1v1h-1z"/>
<path fill="#083c73" d="M13 92h1v1h-1zM37 84h1v1h-1zM37 83h1v1h-1zM48 83h1v1h-1zM45 82h1v1h-1zM20 81h1v1h-1zM41 81h1v1h-1zM20 79h1v1h-1zM49 79h1v1h-1zM38 77h1v1h-1zM6 76h1v1h-1zM42 76h1v1h-1zM19 75h1v1h-1zM3 74h1v1h-1zM7 74h1v1h-1zM14 74h1v1h-1zM18 74h1v1h-1zM26 74h1v1h-1zM18 73h1v1h-1zM25 73h1v1h-1zM35 73h1v1h-1zM14 72h1v1h-1zM46 72h1v1h-1zM14 71h1v1h-1zM19 71h1v1h-1zM24 71h1v1h-1zM40 71h1v1h-1zM48 71h1v1h-1zM26 70h1v1h-1zM32 70h2v1h-2zM51 70h1v1h-1zM72 70h1v1h-1zM25 69h1v1h-1zM56 69h1v1h-1zM13 68h1v1h-1zM22 68h1v1h-1zM24 68h1v1h-1zM27 68h1v1h-1zM36 68h1v1h-1zM38 68h1v1h-1zM3 67h1v1h-1zM19 67h1v1h-1zM27 67h1v1h-1zM34 67h1v1h-1zM6 66h1v1h-1zM28 66h1v1h-1zM41 66h1v1h-1zM49 66h1v1h-1zM52 66h1v1h-1zM21 65h1v1h-1zM28 65h1v1h-1zM11 64h1v1h-1zM14 64h1v1h-1zM16 63h1v1h-1zM23 63h1v1h-1zM36 63h1v1h-1zM4 62h1v1h-1zM6 62h1v1h-1zM9 62h1v1h-1zM13 62h1v1h-1zM35 62h1v1h-1zM58 62h1v1h-1zM22 61h1v1h-1zM37 61h1v1h-1zM59 61h2v1h-2zM7 60h2v1h-2zM20 60h1v1h-1zM27 60h1v1h-1zM32 60h1v1h-1zM37 60h1v1h-1zM4 59h1v1h-1zM11 59h1v1h-1zM24 59h1v1h-1zM31 59h1v1h-1zM43 59h1v1h-1zM53 59h1v1h-1zM7 58h1v1h-1zM20 58h1v1h-1zM27 58h1v1h-1zM33 58h1v1h-1zM62 58h1v1h-1zM1 57h1v1h-1zM3 57h1v1h-1zM5 57h2v1h-2zM9 57h1v1h-1zM28 57h1v1h-1zM37 57h1v1h-1zM41 57h1v1h-1zM50 57h1v1h-1zM16 56h1v1h-1zM20 56h1v1h-1zM26 56h1v1h-1zM30 56h1v1h-1zM47 56h1v1h-1zM70 56h1v1h-1zM74 56h1v1h-1zM77 56h1v1h-1zM94 56h1v1h-1zM0 55h1v1h-1zM2 55h1v1h-1zM17 55h1v1h-1zM32 55h1v1h-1zM14 54h1v1h-1zM24 54h1v1h-1zM29 54h1v1h-1zM53 54h1v1h-1zM17 53h1v1h-1zM23 53h1v1h-1zM25 53h2v1h-2zM31 53h1v1h-1zM49 53h1v1h-1zM61 53h1v1h-1zM90 53h1v1h-1zM5 52h1v1h-1zM10 52h1v1h-1zM16 52h1v1h-1zM27 52h1v1h-1zM35 52h1v1h-1zM38 52h1v1h-1zM46 52h1v1h-1zM58 52h1v1h-1zM63 52h1v1h-1zM71 52h1v1h-1zM1 51h1v1h-1zM22 51h1v1h-1zM7 50h1v1h-1zM11 50h1v1h-1zM15 50h1v1h-1zM39 50h1v1h-1zM21 49h1v1h-1zM43 49h1v1h-1zM62 49h1v1h-1zM90 49h1v1h-1zM4 48h1v1h-1zM16 48h1v1h-1zM31 48h1v1h-1zM48 48h1v1h-1zM7 47h1v1h-1zM15 47h1v1h-1zM25 47h1v1h-1zM47 47h1v1h-1zM4 46h1v1h-1zM7 46h1v1h-1zM10 46h1v1h-1zM16 46h1v1h-1zM20 46h1v1h-1zM24 46h1v1h-1zM56 46h1v1h-1zM73 46h1v1h-1zM4 45h1v1h-1zM19 45h1v1h-1zM40 45h1v1h-1zM64 45h2v1h-2zM3 44h1v1h-1zM31 44h1v1h-1zM45 44h1v1h-1zM49 44h2v1h-2zM71 44h1v1h-1zM79 44h1v1h-1zM16 43h1v1h-1zM24 43h1v1h-1zM27 43h1v1h-1zM54 43h1v1h-1zM61 43h1v1h-1zM73 43h1v1h-1zM12 42h1v1h-1zM21 42h1v1h-1zM27 42h1v1h-1zM49 42h2v1h-2zM13 41h1v1h-1zM16 41h1v1h-1zM21 41h1v1h-1zM23 41h1v1h-1zM25 41h1v1h-1zM29 41h1v1h-1zM34 41h1v1h-1zM39 41h1v1h-1zM26 40h1v1h-1zM3 39h1v1h-1zM21 39h1v1h-1zM52 39h1v1h-1zM6 38h1v1h-1zM31 38h1v1h-1zM68 38h1v1h-1zM7 37h1v1h-1zM37 37h1v1h-1zM44 37h1v1h-1zM66 37h1v1h-1zM3 36h1v1h-1zM17 36h1v1h-1zM68 36h1v1h-1zM4 35h1v1h-1zM19 35h1v1h-1zM49 35h1v1h-1zM7 34h1v1h-1zM23 34h1v1h-1zM31 34h1v1h-1zM12 33h1v1h-1zM26 33h1v1h-1zM33 33h1v1h-1zM80 33h1v1h-1zM4 32h1v1h-1zM8 32h1v1h-1zM50 32h1v1h-1zM81 32h1v1h-1zM24 31h2v1h-2zM28 31h1v1h-1zM38 30h1v1h-1zM46 30h1v1h-1zM52 30h1v1h-1zM6 29h1v1h-1zM8 29h2v1h-2zM19 29h1v1h-1zM29 29h1v1h-1zM31 29h1v1h-1zM48 29h1v1h-1zM20 27h1v1h-1zM44 27h1v1h-1zM61 27h1v1h-1zM27 26h1v1h-1zM54 26h1v1h-1zM24 25h1v1h-1zM43 25h1v1h-1zM15 24h1v1h-1zM45 24h1v1h-1zM19 23h1v1h-1zM49 23h1v1h-1zM60 23h1v1h-1zM65 23h1v1h-1zM72 23h1v1h-1zM69 22h1v1h-1zM75 22h1v1h-1zM54 21h1v1h-1zM59 20h1v1h-1zM68 20h1v1h-1zM25 19h1v1h-1zM41 18h1v1h-1zM70 16h1v1h-1zM21 14h1v1h-1zM21 13h1v1h-1zM12 11h1v1h-1zM43 8h1v1h-1zM39 5h1v1h-1z"/>
<path fill="#053d72" d="M41 88h1v1h-1zM45 84h1v1h-1zM23 83h1v1h-1zM47 83h1v1h-1zM29 80h1v1h-1zM25 79h1v1h-1zM14 78h1v1h-1zM17 77h1v1h-1zM36 76h1v1h-1zM19 74h1v1h-1zM30 73h1v1h-1zM34 73h1v1h-1zM41 72h1v1h-1zM49 72h1v1h-1zM23 71h1v1h-1zM41 71h1v1h-1zM15 70h3v1h-3zM40 70h1v1h-1zM8 69h1v1h-1zM18 69h1v1h-1zM20 69h1v1h-1zM22 69h1v1h-1zM27 69h1v1h-1zM30 69h1v1h-1zM35 69h1v1h-1zM42 69h1v1h-1zM50 69h1v1h-1zM2 68h1v1h-1zM4 68h1v1h-1zM11 68h1v1h-1zM17 68h1v1h-1zM39 68h1v1h-1zM43 68h1v1h-1zM49 68h1v1h-1zM4 67h1v1h-1zM10 66h1v1h-1zM19 66h1v1h-1zM34 66h1v1h-1zM40 66h1v1h-1zM12 65h1v1h-1zM23 65h1v1h-1zM47 65h1v1h-1zM4 64h1v1h-1zM8 64h1v1h-1zM13 64h1v1h-1zM17 64h1v1h-1zM36 64h1v1h-1zM58 64h1v1h-1zM33 63h1v1h-1zM50 63h2v1h-2zM3 62h1v1h-1zM7 62h2v1h-2zM16 62h2v1h-2zM29 62h1v1h-1zM36 62h1v1h-1zM4 61h1v1h-1zM8 61h1v1h-1zM12 61h1v1h-1zM16 61h1v1h-1zM27 61h1v1h-1zM45 61h1v1h-1zM53 61h1v1h-1zM39 60h3v1h-3zM49 60h1v1h-1zM15 59h1v1h-1zM26 59h1v1h-1zM28 59h1v1h-1zM33 59h1v1h-1zM35 59h1v1h-1zM16 58h1v1h-1zM23 58h1v1h-1zM30 58h1v1h-1zM42 58h1v1h-1zM44 58h1v1h-1zM8 57h1v1h-1zM12 57h1v1h-1zM16 57h1v1h-1zM18 57h1v1h-1zM20 57h1v1h-1zM29 57h1v1h-1zM31 57h1v1h-1zM33 57h1v1h-1zM38 57h1v1h-1zM11 56h1v1h-1zM36 56h1v1h-1zM44 56h1v1h-1zM59 56h1v1h-1zM67 56h1v1h-1zM19 55h1v1h-1zM26 55h1v1h-1zM4 54h1v1h-1zM15 54h1v1h-1zM19 54h2v1h-2zM27 54h1v1h-1zM33 54h1v1h-1zM88 54h1v1h-1zM11 53h1v1h-1zM27 53h1v1h-1zM30 53h1v1h-1zM37 53h1v1h-1zM40 53h1v1h-1zM45 53h1v1h-1zM84 53h1v1h-1zM11 52h1v1h-1zM13 52h1v1h-1zM15 52h1v1h-1zM20 52h1v1h-1zM22 52h2v1h-2zM26 52h1v1h-1zM45 52h1v1h-1zM49 52h2v1h-2zM57 52h1v1h-1zM91 52h1v1h-1zM5 51h1v1h-1zM10 51h1v1h-1zM17 51h1v1h-1zM30 51h1v1h-1zM50 51h1v1h-1zM59 51h1v1h-1zM65 51h1v1h-1zM72 51h1v1h-1zM30 50h1v1h-1zM40 50h1v1h-1zM73 50h1v1h-1zM87 50h1v1h-1zM5 49h1v1h-1zM8 49h1v1h-1zM26 49h1v1h-1zM40 49h1v1h-1zM44 49h1v1h-1zM50 49h1v1h-1zM52 49h1v1h-1zM3 48h1v1h-1zM5 48h1v1h-1zM8 48h2v1h-2zM12 48h1v1h-1zM36 48h1v1h-1zM68 48h1v1h-1zM77 48h1v1h-1zM10 47h1v1h-1zM13 47h1v1h-1zM20 47h1v1h-1zM23 47h1v1h-1zM26 47h1v1h-1zM66 47h1v1h-1zM74 47h1v1h-1zM77 47h1v1h-1zM54 46h1v1h-1zM72 46h1v1h-1zM18 45h1v1h-1zM75 45h1v1h-1zM6 44h1v1h-1zM12 44h1v1h-1zM17 44h1v1h-1zM20 44h2v1h-2zM26 44h1v1h-1zM59 44h1v1h-1zM65 44h2v1h-2zM86 44h1v1h-1zM23 43h1v1h-1zM45 43h1v1h-1zM78 43h1v1h-1zM19 42h1v1h-1zM34 42h2v1h-2zM38 42h1v1h-1zM77 42h1v1h-1zM6 41h1v1h-1zM9 41h1v1h-1zM19 41h1v1h-1zM22 41h1v1h-1zM51 41h1v1h-1zM74 41h1v1h-1zM4 40h1v1h-1zM28 40h1v1h-1zM48 40h1v1h-1zM19 39h1v1h-1zM42 39h1v1h-1zM70 39h2v1h-2zM77 39h1v1h-1zM80 39h1v1h-1zM9 38h1v1h-1zM17 38h1v1h-1zM23 38h1v1h-1zM38 38h1v1h-1zM62 38h1v1h-1zM21 37h1v1h-1zM30 37h1v1h-1zM35 37h1v1h-1zM45 37h1v1h-1zM12 36h1v1h-1zM21 36h1v1h-1zM25 36h1v1h-1zM61 36h1v1h-1zM69 36h1v1h-1zM5 35h2v1h-2zM10 35h1v1h-1zM46 35h1v1h-1zM50 35h1v1h-1zM5 34h2v1h-2zM8 34h1v1h-1zM16 34h2v1h-2zM24 34h1v1h-1zM43 34h1v1h-1zM17 33h1v1h-1zM20 32h1v1h-1zM7 31h1v1h-1zM12 30h1v1h-1zM27 30h1v1h-1zM12 29h1v1h-1zM15 29h1v1h-1zM24 29h1v1h-1zM49 29h1v1h-1zM22 28h1v1h-1zM37 28h1v1h-1zM17 27h1v1h-1zM35 27h2v1h-2zM45 27h1v1h-1zM8 26h1v1h-1zM19 26h1v1h-1zM25 26h1v1h-1zM31 26h1v1h-1zM46 26h1v1h-1zM20 25h1v1h-1zM5 24h1v1h-1zM13 24h1v1h-1zM20 24h1v1h-1zM27 24h1v1h-1zM54 24h1v1h-1zM16 23h1v1h-1zM30 23h1v1h-1zM61 23h1v1h-1zM27 22h1v1h-1zM33 22h1v1h-1zM52 21h1v1h-1zM23 20h1v1h-1zM30 20h1v1h-1zM55 20h1v1h-1zM30 19h1v1h-1zM17 18h1v1h-1zM28 17h1v1h-1zM19 16h1v1h-1zM13 13h1v1h-1z"/>
<path fill="#023d71" d="M15 86h1v1h-1zM26 85h1v1h-1zM20 84h1v1h-1zM16 83h1v1h-1zM22 83h1v1h-1zM51 83h1v1h-1zM19 82h1v1h-1zM32 82h1v1h-1zM37 82h1v1h-1zM30 81h1v1h-1zM24 80h1v1h-1zM6 79h1v1h-1zM8 79h1v1h-1zM35 79h1v1h-1zM43 79h1v1h-1zM47 79h1v1h-1zM7 78h1v1h-1zM27 77h1v1h-1zM45 77h1v1h-1zM21 75h1v1h-1zM24 75h1v1h-1zM35 74h1v1h-1zM45 74h1v1h-1zM59 74h1v1h-1zM8 73h1v1h-1zM12 73h1v1h-1zM28 73h1v1h-1zM33 73h1v1h-1zM13 72h1v1h-1zM16 72h2v1h-2zM8 71h1v1h-1zM21 71h1v1h-1zM27 71h1v1h-1zM32 71h1v1h-1zM51 71h1v1h-1zM24 70h1v1h-1zM42 70h2v1h-2zM10 68h1v1h-1zM32 68h1v1h-1zM51 68h1v1h-1zM9 67h1v1h-1zM12 67h1v1h-1zM45 67h1v1h-1zM60 67h1v1h-1zM11 66h1v1h-1zM16 66h1v1h-1zM29 66h1v1h-1zM9 65h1v1h-1zM13 65h1v1h-1zM30 65h1v1h-1zM32 65h1v1h-1zM12 64h1v1h-1zM30 64h1v1h-1zM32 64h1v1h-1zM50 64h1v1h-1zM26 63h1v1h-1zM29 63h1v1h-1zM2 62h1v1h-1zM28 62h1v1h-1zM48 62h1v1h-1zM52 62h1v1h-1zM60 62h1v1h-1zM14 61h1v1h-1zM39 61h1v1h-1zM4 60h1v1h-1zM13 60h1v1h-1zM38 60h1v1h-1zM43 60h1v1h-1zM57 60h1v1h-1zM14 59h1v1h-1zM25 59h1v1h-1zM34 59h1v1h-1zM48 59h1v1h-1zM10 58h2v1h-2zM19 58h1v1h-1zM47 58h1v1h-1zM67 58h1v1h-1zM7 57h1v1h-1zM24 57h1v1h-1zM58 57h1v1h-1zM2 56h1v1h-1zM29 56h1v1h-1zM35 56h1v1h-1zM39 56h1v1h-1zM58 56h1v1h-1zM5 55h1v1h-1zM9 55h1v1h-1zM11 55h1v1h-1zM15 55h1v1h-1zM25 55h1v1h-1zM27 55h1v1h-1zM30 55h1v1h-1zM33 55h1v1h-1zM37 55h1v1h-1zM54 55h1v1h-1zM5 53h2v1h-2zM12 53h1v1h-1zM34 53h1v1h-1zM36 53h1v1h-1zM42 52h1v1h-1zM59 52h1v1h-1zM66 52h1v1h-1zM7 51h1v1h-1zM24 51h1v1h-1zM37 51h1v1h-1zM41 51h1v1h-1zM55 51h1v1h-1zM20 50h1v1h-1zM26 50h1v1h-1zM29 50h1v1h-1zM34 50h1v1h-1zM36 50h1v1h-1zM66 50h1v1h-1zM78 50h1v1h-1zM11 49h1v1h-1zM15 49h1v1h-1zM19 49h1v1h-1zM31 49h1v1h-1zM42 49h1v1h-1zM80 49h1v1h-1zM14 48h1v1h-1zM26 48h1v1h-1zM29 48h1v1h-1zM60 48h1v1h-1zM67 48h1v1h-1zM80 48h1v1h-1zM43 47h2v1h-2zM73 47h1v1h-1zM76 47h1v1h-1zM17 46h1v1h-1zM47 46h1v1h-1zM50 46h1v1h-1zM66 46h1v1h-1zM11 45h1v1h-1zM13 45h1v1h-1zM16 45h1v1h-1zM24 45h1v1h-1zM32 45h1v1h-1zM19 44h1v1h-1zM23 44h1v1h-1zM33 44h1v1h-1zM42 44h1v1h-1zM44 44h1v1h-1zM64 44h1v1h-1zM13 43h1v1h-1zM15 43h1v1h-1zM18 43h1v1h-1zM25 43h1v1h-1zM18 42h1v1h-1zM25 42h1v1h-1zM28 42h1v1h-1zM31 42h1v1h-1zM75 42h1v1h-1zM7 41h1v1h-1zM28 41h1v1h-1zM36 41h1v1h-1zM45 41h1v1h-1zM2 40h1v1h-1zM5 40h1v1h-1zM16 40h1v1h-1zM21 40h1v1h-1zM23 40h1v1h-1zM29 40h1v1h-1zM38 40h1v1h-1zM47 40h1v1h-1zM80 40h1v1h-1zM2 39h1v1h-1zM9 39h2v1h-2zM16 39h1v1h-1zM29 39h1v1h-1zM45 39h1v1h-1zM36 38h1v1h-1zM67 38h1v1h-1zM5 37h1v1h-1zM16 37h1v1h-1zM18 37h1v1h-1zM23 37h1v1h-1zM47 37h1v1h-1zM55 37h1v1h-1zM26 36h2v1h-2zM30 36h1v1h-1zM41 36h1v1h-1zM3 35h1v1h-1zM30 35h1v1h-1zM33 35h1v1h-1zM40 35h1v1h-1zM9 34h1v1h-1zM13 34h1v1h-1zM71 34h1v1h-1zM5 33h1v1h-1zM13 33h1v1h-1zM21 33h1v1h-1zM7 32h1v1h-1zM13 32h1v1h-1zM15 32h1v1h-1zM22 32h1v1h-1zM26 32h2v1h-2zM36 31h1v1h-1zM38 31h1v1h-1zM41 31h1v1h-1zM43 31h1v1h-1zM5 30h1v1h-1zM29 30h1v1h-1zM2 29h1v1h-1zM4 29h1v1h-1zM33 29h1v1h-1zM45 29h1v1h-1zM51 29h1v1h-1zM54 29h1v1h-1zM13 28h1v1h-1zM25 28h1v1h-1zM31 28h1v1h-1zM9 27h1v1h-1zM18 27h2v1h-2zM24 27h1v1h-1zM3 26h1v1h-1zM47 26h1v1h-1zM59 26h1v1h-1zM4 25h1v1h-1zM23 25h1v1h-1zM35 25h1v1h-1zM45 25h1v1h-1zM62 25h1v1h-1zM9 24h1v1h-1zM26 24h1v1h-1zM32 24h1v1h-1zM35 24h1v1h-1zM50 23h1v1h-1zM4 22h1v1h-1zM22 21h1v1h-1zM8 20h1v1h-1zM27 20h2v1h-2zM18 18h1v1h-1zM66 17h1v1h-1z"/>
<path fill="#013e6f" d="M33 86h1v1h-1zM40 85h1v1h-1zM12 84h2v1h-2zM22 80h1v1h-1zM42 80h1v1h-1zM12 79h1v1h-1zM31 79h1v1h-1zM32 78h1v1h-1zM43 78h1v1h-1zM20 77h1v1h-1zM25 76h1v1h-1zM27 76h1v1h-1zM32 76h1v1h-1zM30 75h1v1h-1zM39 75h1v1h-1zM5 74h1v1h-1zM40 74h1v1h-1zM32 73h1v1h-1zM44 73h1v1h-1zM16 71h1v1h-1zM20 71h1v1h-1zM49 71h1v1h-1zM59 71h1v1h-1zM2 70h1v1h-1zM11 70h1v1h-1zM18 70h1v1h-1zM23 70h1v1h-1zM28 70h1v1h-1zM36 70h1v1h-1zM41 70h1v1h-1zM52 70h1v1h-1zM4 69h1v1h-1zM24 69h1v1h-1zM28 69h1v1h-1zM32 69h1v1h-1zM53 69h1v1h-1zM9 68h1v1h-1zM12 68h1v1h-1zM17 67h1v1h-1zM37 67h1v1h-1zM58 67h2v1h-2zM59 66h1v1h-1zM0 65h1v1h-1zM15 65h1v1h-1zM18 65h1v1h-1zM20 65h1v1h-1zM36 65h1v1h-1zM46 65h1v1h-1zM3 64h1v1h-1zM16 64h1v1h-1zM23 64h1v1h-1zM28 64h1v1h-1zM31 64h1v1h-1zM5 63h1v1h-1zM17 63h1v1h-1zM21 63h1v1h-1zM28 63h1v1h-1zM38 63h1v1h-1zM23 62h1v1h-1zM38 62h1v1h-1zM17 61h1v1h-1zM30 61h1v1h-1zM33 61h1v1h-1zM43 61h2v1h-2zM2 60h1v1h-1zM6 60h1v1h-1zM12 60h1v1h-1zM21 60h1v1h-1zM29 60h1v1h-1zM31 60h1v1h-1zM48 60h1v1h-1zM3 59h1v1h-1zM7 59h1v1h-1zM16 59h1v1h-1zM30 59h1v1h-1zM40 59h1v1h-1zM46 59h1v1h-1zM4 58h1v1h-1zM34 58h2v1h-2zM40 58h1v1h-1zM21 57h1v1h-1zM23 57h1v1h-1zM43 57h1v1h-1zM54 57h1v1h-1zM61 57h1v1h-1zM15 56h1v1h-1zM31 56h1v1h-1zM49 56h1v1h-1zM12 55h1v1h-1zM42 55h2v1h-2zM48 55h2v1h-2zM10 54h1v1h-1zM12 54h1v1h-1zM26 54h1v1h-1zM85 54h1v1h-1zM89 54h1v1h-1zM3 53h1v1h-1zM7 53h1v1h-1zM18 53h1v1h-1zM22 53h1v1h-1zM29 53h1v1h-1zM55 53h1v1h-1zM30 52h1v1h-1zM33 52h1v1h-1zM56 52h1v1h-1zM69 52h1v1h-1zM8 51h1v1h-1zM14 51h1v1h-1zM21 51h1v1h-1zM28 51h1v1h-1zM21 50h1v1h-1zM33 50h1v1h-1zM41 50h1v1h-1zM62 50h1v1h-1zM4 49h1v1h-1zM7 49h1v1h-1zM10 49h1v1h-1zM29 49h1v1h-1zM35 49h1v1h-1zM48 49h1v1h-1zM56 49h1v1h-1zM59 49h1v1h-1zM17 48h1v1h-1zM19 48h1v1h-1zM22 48h1v1h-1zM24 48h1v1h-1zM28 48h1v1h-1zM32 48h1v1h-1zM34 48h1v1h-1zM44 48h1v1h-1zM55 48h1v1h-1zM58 48h1v1h-1zM11 47h1v1h-1zM14 47h1v1h-1zM28 47h1v1h-1zM57 47h1v1h-1zM83 47h1v1h-1zM5 46h1v1h-1zM31 46h1v1h-1zM28 45h1v1h-1zM34 45h1v1h-1zM36 45h2v1h-2zM39 45h1v1h-1zM8 44h1v1h-1zM32 44h1v1h-1zM35 44h1v1h-1zM38 44h1v1h-1zM43 44h1v1h-1zM17 43h1v1h-1zM19 43h1v1h-1zM28 43h1v1h-1zM60 43h1v1h-1zM2 42h1v1h-1zM6 42h1v1h-1zM11 42h1v1h-1zM26 42h1v1h-1zM43 42h1v1h-1zM53 42h1v1h-1zM10 41h1v1h-1zM18 41h1v1h-1zM7 40h2v1h-2zM17 40h1v1h-1zM24 40h1v1h-1zM44 40h1v1h-1zM15 39h1v1h-1zM18 39h1v1h-1zM40 39h1v1h-1zM61 39h1v1h-1zM7 38h2v1h-2zM26 38h1v1h-1zM32 38h1v1h-1zM35 38h1v1h-1zM47 38h1v1h-1zM53 38h1v1h-1zM55 38h1v1h-1zM4 37h1v1h-1zM17 37h1v1h-1zM28 37h1v1h-1zM38 37h1v1h-1zM7 36h1v1h-1zM14 36h1v1h-1zM34 36h1v1h-1zM43 36h1v1h-1zM57 36h1v1h-1zM29 35h1v1h-1zM36 35h1v1h-1zM44 35h1v1h-1zM47 35h1v1h-1zM4 34h1v1h-1zM15 34h1v1h-1zM50 34h1v1h-1zM14 33h1v1h-1zM40 33h1v1h-1zM49 33h1v1h-1zM56 33h1v1h-1zM18 31h1v1h-1zM20 31h2v1h-2zM34 31h1v1h-1zM4 30h1v1h-1zM41 30h1v1h-1zM45 30h1v1h-1zM1 29h1v1h-1zM47 29h1v1h-1zM11 27h1v1h-1zM32 27h1v1h-1zM34 27h1v1h-1zM12 26h1v1h-1zM39 26h1v1h-1zM3 25h1v1h-1zM15 25h1v1h-1zM49 25h1v1h-1zM12 24h1v1h-1zM31 24h1v1h-1zM48 24h1v1h-1zM23 23h3v1h-3zM35 23h1v1h-1zM16 22h1v1h-1zM41 22h1v1h-1zM25 21h1v1h-1zM17 20h1v1h-1zM48 19h1v1h-1zM10 18h1v1h-1zM16 17h1v1h-1zM52 17h1v1h-1z"/>
<path fill="#02416c" d="M40 89h1v1h-1zM29 86h1v1h-1zM24 83h1v1h-1zM49 82h1v1h-1zM11 80h1v1h-1zM32 79h1v1h-1zM48 78h1v1h-1zM50 78h1v1h-1zM28 77h1v1h-1zM35 77h1v1h-1zM39 77h1v1h-1zM30 76h1v1h-1zM48 75h1v1h-1zM33 74h1v1h-1zM42 74h1v1h-1zM10 73h1v1h-1zM23 72h1v1h-1zM28 72h1v1h-1zM36 72h1v1h-1zM40 72h1v1h-1zM4 71h1v1h-1zM29 71h1v1h-1zM45 71h1v1h-1zM47 71h1v1h-1zM54 71h1v1h-1zM7 70h1v1h-1zM12 70h1v1h-1zM23 69h1v1h-1zM36 69h1v1h-1zM49 69h1v1h-1zM3 68h1v1h-1zM15 68h1v1h-1zM21 68h1v1h-1zM23 68h1v1h-1zM55 68h1v1h-1zM18 67h1v1h-1zM20 67h1v1h-1zM32 67h2v1h-2zM8 66h1v1h-1zM30 66h1v1h-1zM32 66h2v1h-2zM43 66h1v1h-1zM73 66h1v1h-1zM25 65h1v1h-1zM37 65h1v1h-1zM15 64h1v1h-1zM20 64h1v1h-1zM33 64h1v1h-1zM38 64h1v1h-1zM45 64h1v1h-1zM47 64h1v1h-1zM12 63h1v1h-1zM37 63h1v1h-1zM20 62h1v1h-1zM41 62h1v1h-1zM19 61h1v1h-1zM29 61h1v1h-1zM28 60h1v1h-1zM33 60h1v1h-1zM35 60h2v1h-2zM52 60h1v1h-1zM13 59h1v1h-1zM27 59h1v1h-1zM39 59h1v1h-1zM49 59h1v1h-1zM56 59h1v1h-1zM59 59h1v1h-1zM5 58h1v1h-1zM8 58h2v1h-2zM12 58h1v1h-1zM15 58h1v1h-1zM28 58h1v1h-1zM51 58h2v1h-2zM56 58h1v1h-1zM11 57h1v1h-1zM14 57h1v1h-1zM17 57h1v1h-1zM3 56h1v1h-1zM8 56h1v1h-1zM12 56h2v1h-2zM28 56h1v1h-1zM34 56h1v1h-1zM66 56h1v1h-1zM21 55h2v1h-2zM29 55h1v1h-1zM46 55h1v1h-1zM64 55h1v1h-1zM5 54h1v1h-1zM22 54h1v1h-1zM30 54h1v1h-1zM42 54h1v1h-1zM44 54h1v1h-1zM56 54h1v1h-1zM8 53h1v1h-1zM10 53h1v1h-1zM15 53h1v1h-1zM33 53h1v1h-1zM35 53h1v1h-1zM1 52h1v1h-1zM6 52h1v1h-1zM9 52h1v1h-1zM12 52h1v1h-1zM17 52h1v1h-1zM28 52h2v1h-2zM34 52h1v1h-1zM13 51h1v1h-1zM20 51h1v1h-1zM23 51h1v1h-1zM32 51h1v1h-1zM36 51h1v1h-1zM49 51h1v1h-1zM53 51h1v1h-1zM4 50h2v1h-2zM9 50h1v1h-1zM17 50h1v1h-1zM22 50h1v1h-1zM31 50h2v1h-2zM56 50h1v1h-1zM24 49h1v1h-1zM34 49h1v1h-1zM37 49h1v1h-1zM7 48h1v1h-1zM37 48h1v1h-1zM45 48h1v1h-1zM47 48h1v1h-1zM5 47h1v1h-1zM16 47h1v1h-1zM29 47h1v1h-1zM38 47h1v1h-1zM11 46h1v1h-1zM22 46h1v1h-1zM34 46h1v1h-1zM36 46h1v1h-1zM62 46h1v1h-1zM8 45h1v1h-1zM25 45h1v1h-1zM30 45h1v1h-1zM33 45h1v1h-1zM38 45h1v1h-1zM42 45h1v1h-1zM49 45h1v1h-1zM7 44h1v1h-1zM11 44h1v1h-1zM15 44h1v1h-1zM29 44h2v1h-2zM34 44h1v1h-1zM37 44h1v1h-1zM3 43h1v1h-1zM6 43h1v1h-1zM12 43h1v1h-1zM14 43h1v1h-1zM22 43h1v1h-1zM32 43h1v1h-1zM35 43h1v1h-1zM53 43h1v1h-1zM4 42h1v1h-1zM16 42h2v1h-2zM36 42h1v1h-1zM57 42h1v1h-1zM62 42h1v1h-1zM65 42h1v1h-1zM4 41h1v1h-1zM24 41h1v1h-1zM38 41h1v1h-1zM58 41h1v1h-1zM14 40h1v1h-1zM18 40h2v1h-2zM34 40h1v1h-1zM39 40h1v1h-1zM65 40h1v1h-1zM7 39h1v1h-1zM20 39h1v1h-1zM22 39h1v1h-1zM34 39h2v1h-2zM43 39h1v1h-1zM48 39h2v1h-2zM12 38h1v1h-1zM16 38h1v1h-1zM22 38h1v1h-1zM48 38h1v1h-1zM57 38h2v1h-2zM15 37h1v1h-1zM54 37h1v1h-1zM63 37h1v1h-1zM19 36h2v1h-2zM23 36h2v1h-2zM47 36h1v1h-1zM13 35h1v1h-1zM15 35h1v1h-1zM20 35h1v1h-1zM25 35h1v1h-1zM35 35h1v1h-1zM43 35h1v1h-1zM11 34h1v1h-1zM26 34h1v1h-1zM30 34h1v1h-1zM37 33h1v1h-1zM53 33h1v1h-1zM59 33h1v1h-1zM19 32h1v1h-1zM21 32h1v1h-1zM33 32h2v1h-2zM45 32h1v1h-1zM5 31h1v1h-1zM47 31h1v1h-1zM16 30h1v1h-1zM37 30h1v1h-1zM14 29h1v1h-1zM34 29h1v1h-1zM40 29h1v1h-1zM7 28h1v1h-1zM33 28h1v1h-1zM8 27h1v1h-1zM31 27h1v1h-1zM21 26h1v1h-1zM33 26h2v1h-2zM33 25h1v1h-1zM36 25h1v1h-1zM41 25h1v1h-1zM20 22h1v1h-1zM18 21h1v1h-1z"/>
<path fill="#03436a" d="M16 82h1v1h-1zM9 79h1v1h-1zM15 78h1v1h-1zM9 77h1v1h-1zM15 77h1v1h-1zM22 77h1v1h-1zM4 76h1v1h-1zM24 76h1v1h-1zM29 76h1v1h-1zM40 76h1v1h-1zM16 74h1v1h-1zM30 74h1v1h-1zM5 73h1v1h-1zM9 73h1v1h-1zM17 73h1v1h-1zM26 73h1v1h-1zM29 73h1v1h-1zM9 72h1v1h-1zM18 72h1v1h-1zM32 72h1v1h-1zM42 72h1v1h-1zM54 70h1v1h-1zM5 69h1v1h-1zM12 69h2v1h-2zM38 69h1v1h-1zM7 68h1v1h-1zM16 68h1v1h-1zM30 68h1v1h-1zM35 68h1v1h-1zM14 67h1v1h-1zM24 67h2v1h-2zM28 67h1v1h-1zM39 67h1v1h-1zM42 67h1v1h-1zM7 66h1v1h-1zM23 66h1v1h-1zM26 66h2v1h-2zM62 66h1v1h-1zM3 65h1v1h-1zM8 65h1v1h-1zM19 65h1v1h-1zM40 65h1v1h-1zM53 65h1v1h-1zM18 64h1v1h-1zM34 64h1v1h-1zM9 63h1v1h-1zM31 63h1v1h-1zM39 63h1v1h-1zM10 62h1v1h-1zM12 62h1v1h-1zM19 62h1v1h-1zM30 62h1v1h-1zM53 62h1v1h-1zM55 62h1v1h-1zM6 61h2v1h-2zM18 61h1v1h-1zM23 61h1v1h-1zM42 61h1v1h-1zM47 61h1v1h-1zM11 60h1v1h-1zM14 60h1v1h-1zM22 60h1v1h-1zM26 60h1v1h-1zM74 60h1v1h-1zM9 59h2v1h-2zM14 58h1v1h-1zM29 58h1v1h-1zM39 58h1v1h-1zM10 57h1v1h-1zM44 57h1v1h-1zM6 56h1v1h-1zM10 56h1v1h-1zM22 56h2v1h-2zM3 55h1v1h-1zM24 55h1v1h-1zM34 55h1v1h-1zM45 55h1v1h-1zM57 55h1v1h-1zM18 54h1v1h-1zM23 54h1v1h-1zM37 54h1v1h-1zM41 54h1v1h-1zM9 53h1v1h-1zM32 53h1v1h-1zM44 53h1v1h-1zM67 53h1v1h-1zM25 52h1v1h-1zM44 52h1v1h-1zM55 52h1v1h-1zM6 51h1v1h-1zM19 51h1v1h-1zM38 51h2v1h-2zM44 51h2v1h-2zM52 51h1v1h-1zM57 51h1v1h-1zM13 50h1v1h-1zM19 50h1v1h-1zM25 50h1v1h-1zM6 49h1v1h-1zM23 49h1v1h-1zM38 49h2v1h-2zM30 48h1v1h-1zM38 48h1v1h-1zM40 48h1v1h-1zM43 48h1v1h-1zM53 48h1v1h-1zM81 48h1v1h-1zM8 47h1v1h-1zM21 47h1v1h-1zM31 47h1v1h-1zM35 47h1v1h-1zM37 47h1v1h-1zM41 47h1v1h-1zM45 47h1v1h-1zM48 47h1v1h-1zM6 46h1v1h-1zM19 46h1v1h-1zM30 46h1v1h-1zM35 46h1v1h-1zM38 46h1v1h-1zM48 46h1v1h-1zM0 45h1v1h-1zM10 45h1v1h-1zM21 45h1v1h-1zM26 45h1v1h-1zM41 45h1v1h-1zM44 45h1v1h-1zM18 44h1v1h-1zM24 44h1v1h-1zM36 44h1v1h-1zM39 44h2v1h-2zM31 43h1v1h-1zM33 43h1v1h-1zM40 43h1v1h-1zM5 42h1v1h-1zM7 42h1v1h-1zM9 42h2v1h-2zM15 42h1v1h-1zM23 42h1v1h-1zM46 42h1v1h-1zM68 42h1v1h-1zM1 41h1v1h-1zM5 41h1v1h-1zM11 41h1v1h-1zM17 41h1v1h-1zM41 41h1v1h-1zM6 40h1v1h-1zM20 40h1v1h-1zM61 40h1v1h-1zM66 40h1v1h-1zM51 39h1v1h-1zM55 39h1v1h-1zM2 38h1v1h-1zM52 38h1v1h-1zM64 38h1v1h-1zM8 37h1v1h-1zM39 37h1v1h-1zM49 37h1v1h-1zM9 36h1v1h-1zM65 36h1v1h-1zM16 35h1v1h-1zM22 35h2v1h-2zM26 35h1v1h-1zM28 35h1v1h-1zM42 35h1v1h-1zM21 34h1v1h-1zM33 34h1v1h-1zM52 34h1v1h-1zM2 33h1v1h-1zM25 33h1v1h-1zM46 33h1v1h-1zM65 33h1v1h-1zM0 32h1v1h-1zM5 32h1v1h-1zM9 32h1v1h-1zM16 32h1v1h-1zM48 32h1v1h-1zM12 31h2v1h-2zM67 31h1v1h-1zM6 30h2v1h-2zM17 30h1v1h-1zM25 30h1v1h-1zM36 30h1v1h-1zM38 29h1v1h-1zM42 29h1v1h-1zM20 28h1v1h-1zM30 28h1v1h-1zM38 28h1v1h-1zM44 28h1v1h-1zM37 27h1v1h-1zM2 26h1v1h-1zM6 26h1v1h-1zM26 26h1v1h-1zM62 26h1v1h-1zM6 25h1v1h-1zM10 25h1v1h-1zM12 25h1v1h-1zM18 25h1v1h-1zM37 25h1v1h-1zM16 24h1v1h-1zM40 23h1v1h-1zM54 23h1v1h-1zM23 21h1v1h-1zM14 20h1v1h-1zM16 20h1v1h-1zM32 20h1v1h-1zM22 19h1v1h-1zM5 18h1v1h-1zM29 18h1v1h-1zM18 17h1v1h-1z"/>
<path fill="#044667" d="M45 87h1v1h-1zM24 85h1v1h-1zM31 83h1v1h-1zM37 81h1v1h-1zM27 80h1v1h-1zM18 78h1v1h-1zM19 77h1v1h-1zM51 77h1v1h-1zM3 76h1v1h-1zM47 76h1v1h-1zM16 75h1v1h-1zM20 75h1v1h-1zM44 75h1v1h-1zM46 75h1v1h-1zM41 74h1v1h-1zM20 73h1v1h-1zM47 73h1v1h-1zM0 72h1v1h-1zM24 72h1v1h-1zM54 72h1v1h-1zM13 71h1v1h-1zM26 71h1v1h-1zM58 71h1v1h-1zM4 70h1v1h-1zM25 70h1v1h-1zM37 70h1v1h-1zM44 70h1v1h-1zM37 69h1v1h-1zM46 69h1v1h-1zM14 68h1v1h-1zM26 68h1v1h-1zM31 68h1v1h-1zM13 67h1v1h-1zM23 67h1v1h-1zM43 67h1v1h-1zM35 66h1v1h-1zM34 65h1v1h-1zM35 64h1v1h-1zM42 64h1v1h-1zM53 64h1v1h-1zM56 64h1v1h-1zM8 63h1v1h-1zM24 63h1v1h-1zM40 63h2v1h-2zM48 63h1v1h-1zM31 62h2v1h-2zM39 62h1v1h-1zM51 62h1v1h-1zM13 61h1v1h-1zM48 61h1v1h-1zM69 61h1v1h-1zM51 60h1v1h-1zM8 59h1v1h-1zM17 59h1v1h-1zM21 59h2v1h-2zM17 58h1v1h-1zM21 58h1v1h-1zM24 58h1v1h-1zM26 58h1v1h-1zM32 58h1v1h-1zM48 58h1v1h-1zM66 58h1v1h-1zM32 57h1v1h-1zM48 57h1v1h-1zM17 56h2v1h-2zM27 56h1v1h-1zM41 56h1v1h-1zM50 56h1v1h-1zM14 55h1v1h-1zM31 55h1v1h-1zM44 55h1v1h-1zM52 55h1v1h-1zM67 55h1v1h-1zM11 54h1v1h-1zM19 53h1v1h-1zM48 53h1v1h-1zM3 52h1v1h-1zM7 52h1v1h-1zM31 52h1v1h-1zM40 52h1v1h-1zM11 51h1v1h-1zM16 51h1v1h-1zM26 51h1v1h-1zM14 50h1v1h-1zM18 50h1v1h-1zM35 50h1v1h-1zM38 50h1v1h-1zM64 50h1v1h-1zM16 49h1v1h-1zM22 49h1v1h-1zM1 48h2v1h-2zM23 48h1v1h-1zM33 48h1v1h-1zM49 48h1v1h-1zM9 47h1v1h-1zM19 47h1v1h-1zM30 47h1v1h-1zM58 47h1v1h-1zM61 47h1v1h-1zM9 46h1v1h-1zM12 46h1v1h-1zM39 46h1v1h-1zM41 46h1v1h-1zM67 46h1v1h-1zM22 45h1v1h-1zM27 45h1v1h-1zM41 44h1v1h-1zM20 43h1v1h-1zM39 42h1v1h-1zM26 41h1v1h-1zM49 41h1v1h-1zM59 41h1v1h-1zM11 40h1v1h-1zM25 40h1v1h-1zM30 40h1v1h-1zM42 40h2v1h-2zM56 40h1v1h-1zM37 39h1v1h-1zM14 38h1v1h-1zM18 38h1v1h-1zM25 38h1v1h-1zM40 38h1v1h-1zM59 38h1v1h-1zM20 37h1v1h-1zM42 37h1v1h-1zM64 37h1v1h-1zM37 36h1v1h-1zM40 36h1v1h-1zM46 36h1v1h-1zM8 35h1v1h-1zM31 35h1v1h-1zM18 34h1v1h-1zM10 33h1v1h-1zM22 33h1v1h-1zM28 32h1v1h-1zM44 32h1v1h-1zM46 32h1v1h-1zM19 31h1v1h-1zM39 31h1v1h-1zM46 31h1v1h-1zM62 31h1v1h-1zM64 30h1v1h-1zM18 29h1v1h-1zM22 29h1v1h-1zM61 29h1v1h-1zM16 28h1v1h-1zM48 28h1v1h-1zM41 27h1v1h-1zM28 26h1v1h-1zM30 25h1v1h-1zM46 25h1v1h-1zM28 24h1v1h-1zM18 23h1v1h-1zM9 22h1v1h-1zM37 22h1v1h-1zM41 20h1v1h-1z"/>
<path fill="#054865" d="M49 97h1v1h-1zM25 88h1v1h-1zM50 84h1v1h-1zM33 82h1v1h-1zM42 82h1v1h-1zM34 81h1v1h-1zM26 80h1v1h-1zM46 79h1v1h-1zM29 78h1v1h-1zM11 77h1v1h-1zM25 77h1v1h-1zM18 76h1v1h-1zM41 76h1v1h-1zM51 76h1v1h-1zM3 75h1v1h-1zM8 75h1v1h-1zM13 75h1v1h-1zM11 74h1v1h-1zM14 73h1v1h-1zM54 73h1v1h-1zM5 72h1v1h-1zM7 72h1v1h-1zM34 72h1v1h-1zM43 72h1v1h-1zM56 72h1v1h-1zM5 71h1v1h-1zM9 71h1v1h-1zM17 71h1v1h-1zM33 71h1v1h-1zM36 71h1v1h-1zM57 71h1v1h-1zM1 70h1v1h-1zM31 70h1v1h-1zM58 69h1v1h-1zM19 68h1v1h-1zM44 68h1v1h-1zM46 68h1v1h-1zM7 67h1v1h-1zM12 66h1v1h-1zM15 66h1v1h-1zM31 65h1v1h-1zM52 65h1v1h-1zM24 64h1v1h-1zM41 64h1v1h-1zM49 64h1v1h-1zM20 63h1v1h-1zM22 63h1v1h-1zM15 62h1v1h-1zM18 62h1v1h-1zM26 62h1v1h-1zM40 62h1v1h-1zM62 62h1v1h-1zM73 62h1v1h-1zM10 61h1v1h-1zM31 61h1v1h-1zM35 61h2v1h-2zM45 60h1v1h-1zM58 60h1v1h-1zM1 59h1v1h-1zM61 59h1v1h-1zM6 58h1v1h-1zM13 58h1v1h-1zM59 58h1v1h-1zM56 57h1v1h-1zM5 56h1v1h-1zM21 56h1v1h-1zM25 56h1v1h-1zM38 56h1v1h-1zM8 55h1v1h-1zM13 55h1v1h-1zM8 54h1v1h-1zM25 54h1v1h-1zM28 54h1v1h-1zM39 54h1v1h-1zM48 54h1v1h-1zM4 53h1v1h-1zM14 53h1v1h-1zM51 53h1v1h-1zM14 52h1v1h-1zM52 52h1v1h-1zM61 52h1v1h-1zM4 51h1v1h-1zM12 51h1v1h-1zM15 51h1v1h-1zM27 51h1v1h-1zM33 51h1v1h-1zM35 51h1v1h-1zM27 50h2v1h-2zM1 49h1v1h-1zM33 49h1v1h-1zM36 49h1v1h-1zM41 48h1v1h-1zM52 48h1v1h-1zM62 48h1v1h-1zM4 47h1v1h-1zM6 47h1v1h-1zM17 47h1v1h-1zM33 47h1v1h-1zM40 47h1v1h-1zM18 46h1v1h-1zM32 46h1v1h-1zM43 46h1v1h-1zM53 46h1v1h-1zM23 45h1v1h-1zM43 45h1v1h-1zM57 45h1v1h-1zM59 45h1v1h-1zM14 44h1v1h-1zM22 44h1v1h-1zM51 44h1v1h-1zM30 43h1v1h-1zM42 43h2v1h-2zM27 41h1v1h-1zM31 41h1v1h-1zM37 41h1v1h-1zM27 40h1v1h-1zM40 40h1v1h-1zM24 39h1v1h-1zM14 37h1v1h-1zM24 37h1v1h-1zM6 36h1v1h-1zM8 36h1v1h-1zM44 36h1v1h-1zM18 35h1v1h-1zM37 35h1v1h-1zM14 34h1v1h-1zM45 34h1v1h-1zM48 34h1v1h-1zM7 33h1v1h-1zM24 33h1v1h-1zM55 33h1v1h-1zM12 32h1v1h-1zM9 31h1v1h-1zM31 31h1v1h-1zM9 30h1v1h-1zM5 29h1v1h-1zM16 29h1v1h-1zM25 29h1v1h-1zM35 29h1v1h-1zM46 29h1v1h-1zM52 29h1v1h-1zM41 28h1v1h-1zM12 27h1v1h-1zM10 26h1v1h-1zM19 25h1v1h-1zM44 25h1v1h-1zM6 24h1v1h-1zM17 24h1v1h-1zM40 24h1v1h-1zM28 23h1v1h-1zM62 23h1v1h-1zM40 22h1v1h-1zM23 18h1v1h-1z"/>
<path fill="#064b62" d="M48 88h1v1h-1zM50 87h2v1h-2zM36 85h1v1h-1zM12 83h1v1h-1zM39 82h1v1h-1zM52 80h1v1h-1zM27 79h1v1h-1zM44 79h1v1h-1zM26 78h1v1h-1zM31 78h1v1h-1zM36 78h2v1h-2zM19 76h1v1h-1zM5 75h1v1h-1zM23 75h1v1h-1zM28 75h1v1h-1zM35 75h1v1h-1zM2 74h1v1h-1zM21 74h1v1h-1zM7 73h1v1h-1zM21 73h1v1h-1zM36 73h1v1h-1zM57 73h1v1h-1zM60 73h1v1h-1zM25 72h1v1h-1zM11 71h1v1h-1zM25 71h1v1h-1zM38 71h1v1h-1zM56 71h1v1h-1zM19 70h1v1h-1zM34 70h1v1h-1zM53 70h1v1h-1zM18 68h1v1h-1zM28 68h1v1h-1zM45 68h1v1h-1zM10 67h1v1h-1zM4 66h1v1h-1zM17 66h1v1h-1zM55 66h1v1h-1zM11 65h1v1h-1zM27 65h1v1h-1zM54 65h1v1h-1zM25 64h1v1h-1zM37 64h1v1h-1zM39 64h1v1h-1zM54 64h1v1h-1zM74 64h1v1h-1zM10 63h1v1h-1zM14 63h1v1h-1zM18 63h2v1h-2zM47 63h1v1h-1zM49 63h1v1h-1zM65 63h1v1h-1zM3 61h1v1h-1zM9 61h1v1h-1zM80 61h1v1h-1zM10 60h1v1h-1zM18 59h1v1h-1zM20 59h1v1h-1zM51 59h2v1h-2zM36 58h1v1h-1zM15 57h1v1h-1zM19 57h1v1h-1zM22 57h1v1h-1zM26 57h1v1h-1zM42 57h1v1h-1zM14 56h1v1h-1zM19 56h1v1h-1zM32 56h1v1h-1zM3 54h1v1h-1zM9 54h1v1h-1zM47 54h1v1h-1zM20 53h1v1h-1zM28 53h1v1h-1zM39 53h1v1h-1zM39 52h1v1h-1zM40 51h1v1h-1zM47 51h2v1h-2zM12 50h1v1h-1zM16 50h1v1h-1zM9 49h1v1h-1zM10 48h1v1h-1zM50 48h1v1h-1zM2 47h1v1h-1zM24 47h1v1h-1zM2 46h1v1h-1zM15 46h1v1h-1zM46 46h1v1h-1zM59 46h1v1h-1zM9 45h1v1h-1zM15 45h1v1h-1zM51 45h2v1h-2zM5 43h1v1h-1zM52 43h1v1h-1zM57 43h1v1h-1zM58 42h1v1h-1zM15 41h1v1h-1zM35 41h1v1h-1zM44 41h1v1h-1zM13 40h1v1h-1zM33 40h1v1h-1zM36 40h2v1h-2zM12 39h2v1h-2zM31 39h2v1h-2zM54 39h1v1h-1zM30 38h1v1h-1zM46 38h1v1h-1zM19 37h1v1h-1zM36 37h1v1h-1zM41 37h1v1h-1zM10 36h1v1h-1zM45 35h1v1h-1zM20 33h1v1h-1zM62 33h1v1h-1zM6 31h1v1h-1zM8 31h1v1h-1zM23 31h1v1h-1zM32 30h1v1h-1zM35 30h1v1h-1zM10 29h1v1h-1zM27 29h1v1h-1zM30 29h1v1h-1zM21 28h1v1h-1zM23 28h1v1h-1zM29 28h1v1h-1zM35 28h1v1h-1zM1 27h1v1h-1zM25 27h1v1h-1zM22 26h1v1h-1zM17 25h1v1h-1zM47 25h1v1h-1zM8 23h1v1h-1zM26 23h1v1h-1zM31 23h1v1h-1zM52 23h1v1h-1zM14 21h1v1h-1zM7 16h1v1h-1z"/>
<path fill="#074d60" d="M42 88h1v1h-1zM47 84h1v1h-1zM27 83h1v1h-1zM20 82h1v1h-1zM44 82h1v1h-1zM35 81h1v1h-1zM47 81h1v1h-1zM45 80h1v1h-1zM49 80h1v1h-1zM27 78h1v1h-1zM39 78h1v1h-1zM54 78h1v1h-1zM55 76h1v1h-1zM32 75h1v1h-1zM42 75h1v1h-1zM49 75h1v1h-1zM36 74h1v1h-1zM27 73h1v1h-1zM55 73h1v1h-1zM11 72h1v1h-1zM19 72h1v1h-1zM15 71h1v1h-1zM39 71h1v1h-1zM27 70h1v1h-1zM30 70h1v1h-1zM47 70h1v1h-1zM6 69h1v1h-1zM50 68h1v1h-1zM51 67h1v1h-1zM21 66h1v1h-1zM53 66h1v1h-1zM71 66h1v1h-1zM24 65h1v1h-1zM0 64h1v1h-1zM51 64h1v1h-1zM61 64h1v1h-1zM76 64h1v1h-1zM1 63h1v1h-1zM13 63h1v1h-1zM46 63h1v1h-1zM43 62h1v1h-1zM50 62h1v1h-1zM34 61h1v1h-1zM34 60h1v1h-1zM44 60h1v1h-1zM12 59h1v1h-1zM32 59h1v1h-1zM79 58h1v1h-1zM25 57h1v1h-1zM45 57h1v1h-1zM45 56h1v1h-1zM56 56h1v1h-1zM38 55h1v1h-1zM17 54h1v1h-1zM21 54h1v1h-1zM40 54h1v1h-1zM2 53h1v1h-1zM13 53h1v1h-1zM41 53h1v1h-1zM43 53h1v1h-1zM59 53h1v1h-1zM32 52h1v1h-1zM18 51h1v1h-1zM31 51h1v1h-1zM68 51h1v1h-1zM59 50h1v1h-1zM2 49h1v1h-1zM13 49h1v1h-1zM17 49h1v1h-1zM45 49h1v1h-1zM60 47h1v1h-1zM3 46h1v1h-1zM45 46h1v1h-1zM20 45h1v1h-1zM29 45h1v1h-1zM25 44h1v1h-1zM39 43h1v1h-1zM49 43h1v1h-1zM40 42h1v1h-1zM47 42h1v1h-1zM63 42h1v1h-1zM30 41h1v1h-1zM22 40h1v1h-1zM5 39h2v1h-2zM5 38h1v1h-1zM19 38h1v1h-1zM33 38h1v1h-1zM60 38h1v1h-1zM9 37h2v1h-2zM31 37h1v1h-1zM62 37h1v1h-1zM2 36h1v1h-1zM13 36h1v1h-1zM66 36h1v1h-1zM7 35h1v1h-1zM27 35h1v1h-1zM61 35h1v1h-1zM32 34h1v1h-1zM55 34h1v1h-1zM68 34h1v1h-1zM4 33h1v1h-1zM64 33h1v1h-1zM29 31h1v1h-1zM42 31h1v1h-1zM48 31h1v1h-1zM62 30h1v1h-1zM21 29h1v1h-1zM56 29h1v1h-1zM3 28h1v1h-1zM18 28h1v1h-1zM36 28h1v1h-1zM5 27h1v1h-1zM10 27h1v1h-1zM43 27h1v1h-1zM44 26h1v1h-1zM48 26h1v1h-1zM14 25h1v1h-1zM8 24h1v1h-1zM6 23h1v1h-1zM29 23h1v1h-1zM42 20h1v1h-1zM19 18h1v1h-1zM12 17h1v1h-1z"/>
<path fill="#08505d" d="M35 87h1v1h-1zM23 82h1v1h-1zM25 80h1v1h-1zM16 79h1v1h-1zM41 79h1v1h-1zM33 78h1v1h-1zM40 78h1v1h-1zM21 77h1v1h-1zM29 77h1v1h-1zM34 77h1v1h-1zM36 77h1v1h-1zM41 77h1v1h-1zM14 76h1v1h-1zM61 76h1v1h-1zM12 75h1v1h-1zM25 75h1v1h-1zM41 75h1v1h-1zM57 75h1v1h-1zM13 74h1v1h-1zM32 74h1v1h-1zM39 74h1v1h-1zM57 74h1v1h-1zM24 73h1v1h-1zM6 72h1v1h-1zM31 72h1v1h-1zM44 72h1v1h-1zM6 70h1v1h-1zM3 69h1v1h-1zM5 68h1v1h-1zM40 68h1v1h-1zM72 68h1v1h-1zM21 67h1v1h-1zM13 66h1v1h-1zM60 66h1v1h-1zM72 66h1v1h-1zM49 65h1v1h-1zM64 64h2v1h-2zM44 62h1v1h-1zM56 62h1v1h-1zM74 62h1v1h-1zM11 61h1v1h-1zM20 61h1v1h-1zM41 61h1v1h-1zM54 61h1v1h-1zM2 59h1v1h-1zM19 59h1v1h-1zM46 58h1v1h-1zM0 56h1v1h-1zM24 56h1v1h-1zM47 55h1v1h-1zM45 54h1v1h-1zM54 54h1v1h-1zM38 53h1v1h-1zM53 53h1v1h-1zM53 52h1v1h-1zM3 50h1v1h-1zM44 50h1v1h-1zM28 49h1v1h-1zM60 49h1v1h-1zM50 47h1v1h-1zM54 47h1v1h-1zM60 46h1v1h-1zM50 45h1v1h-1zM5 44h1v1h-1zM56 44h1v1h-1zM48 43h1v1h-1zM3 42h1v1h-1zM44 42h1v1h-1zM12 41h1v1h-1zM43 41h1v1h-1zM50 41h1v1h-1zM10 40h1v1h-1zM27 39h1v1h-1zM42 38h1v1h-1zM44 38h1v1h-1zM53 37h1v1h-1zM5 36h1v1h-1zM17 35h1v1h-1zM24 35h1v1h-1zM2 34h1v1h-1zM8 33h1v1h-1zM11 33h1v1h-1zM23 33h1v1h-1zM44 33h1v1h-1zM10 31h1v1h-1zM27 31h1v1h-1zM30 31h1v1h-1zM3 30h1v1h-1zM22 30h1v1h-1zM53 30h1v1h-1zM39 29h1v1h-1zM10 28h1v1h-1zM14 28h1v1h-1zM16 27h1v1h-1zM38 27h1v1h-1zM11 26h1v1h-1zM13 25h1v1h-1zM40 25h1v1h-1zM10 24h1v1h-1zM23 24h2v1h-2zM61 24h1v1h-1zM12 23h1v1h-1zM15 23h1v1h-1zM17 23h1v1h-1zM27 23h1v1h-1zM24 22h1v1h-1zM16 21h1v1h-1zM5 19h1v1h-1zM8 15h1v1h-1z"/>
<path fill="#09525b" d="M39 83h1v1h-1zM33 81h1v1h-1zM37 79h1v1h-1zM25 78h1v1h-1zM11 76h1v1h-1zM49 73h1v1h-1zM3 72h1v1h-1zM8 72h1v1h-1zM22 72h1v1h-1zM72 72h1v1h-1zM1 71h1v1h-1zM30 71h1v1h-1zM22 70h1v1h-1zM50 70h1v1h-1zM7 69h1v1h-1zM41 68h1v1h-1zM5 67h1v1h-1zM8 67h1v1h-1zM14 66h1v1h-1zM36 66h1v1h-1zM50 65h1v1h-1zM5 64h2v1h-2zM11 63h1v1h-1zM1 62h1v1h-1zM27 62h1v1h-1zM28 61h1v1h-1zM9 60h1v1h-1zM6 59h1v1h-1zM0 58h1v1h-1zM57 58h1v1h-1zM4 57h1v1h-1zM62 56h1v1h-1zM13 54h1v1h-1zM42 53h1v1h-1zM47 53h1v1h-1zM9 51h1v1h-1zM1 50h1v1h-1zM10 50h1v1h-1zM51 50h1v1h-1zM51 48h1v1h-1zM34 47h1v1h-1zM42 47h1v1h-1zM55 47h1v1h-1zM42 46h1v1h-1zM47 45h1v1h-1zM47 44h1v1h-1zM48 42h1v1h-1zM56 42h1v1h-1zM65 41h1v1h-1zM3 40h1v1h-1zM35 40h1v1h-1zM11 39h1v1h-1zM23 39h1v1h-1zM43 38h1v1h-1zM26 37h1v1h-1zM25 34h1v1h-1zM57 34h1v1h-1zM19 33h1v1h-1zM1 32h1v1h-1zM16 31h1v1h-1zM35 31h1v1h-1zM39 30h1v1h-1zM58 29h1v1h-1zM17 28h1v1h-1zM14 27h1v1h-1zM22 25h1v1h-1zM52 24h1v1h-1zM17 22h1v1h-1zM21 22h1v1h-1zM17 21h1v1h-1zM15 19h1v1h-1zM28 19h1v1h-1z"/>
<path fill="#0a5558" d="M45 98h1v1h-1zM47 98h1v1h-1zM48 90h1v1h-1zM46 85h1v1h-1zM13 83h1v1h-1zM12 80h1v1h-1zM14 79h1v1h-1zM19 79h1v1h-1zM24 79h1v1h-1zM12 78h1v1h-1zM17 78h1v1h-1zM15 76h1v1h-1zM26 76h1v1h-1zM53 75h1v1h-1zM4 74h1v1h-1zM27 74h1v1h-1zM44 74h1v1h-1zM53 73h1v1h-1zM50 72h1v1h-1zM61 72h1v1h-1zM28 71h1v1h-1zM37 71h1v1h-1zM14 70h1v1h-1zM55 70h1v1h-1zM61 69h2v1h-2zM74 68h1v1h-1zM30 67h1v1h-1zM47 67h1v1h-1zM61 67h1v1h-1zM9 66h1v1h-1zM51 66h1v1h-1zM9 64h1v1h-1zM48 64h1v1h-1zM60 64h1v1h-1zM67 64h1v1h-1zM37 62h1v1h-1zM51 61h1v1h-1zM25 60h1v1h-1zM66 59h1v1h-1zM18 58h1v1h-1zM36 57h1v1h-1zM42 56h1v1h-1zM65 56h1v1h-1zM4 55h1v1h-1zM0 54h1v1h-1zM1 53h1v1h-1zM57 53h1v1h-1zM2 52h1v1h-1zM8 52h1v1h-1zM43 52h1v1h-1zM48 52h1v1h-1zM54 51h1v1h-1zM51 49h1v1h-1zM0 48h1v1h-1zM1 47h1v1h-1zM51 47h1v1h-1zM31 45h1v1h-1zM61 45h1v1h-1zM32 42h1v1h-1zM54 42h1v1h-1zM47 41h1v1h-1zM45 40h1v1h-1zM64 40h1v1h-1zM54 35h1v1h-1zM28 34h1v1h-1zM56 34h1v1h-1zM47 33h1v1h-1zM3 32h1v1h-1zM42 32h1v1h-1zM52 32h1v1h-1zM8 30h1v1h-1zM21 30h1v1h-1zM9 28h1v1h-1zM1 25h1v1h-1zM8 25h1v1h-1zM20 23h1v1h-1zM42 23h1v1h-1zM13 22h1v1h-1zM51 22h1v1h-1zM11 21h1v1h-1zM18 20h1v1h-1zM25 20h1v1h-1zM41 19h1v1h-1z"/>
<path fill="#0b5756" d="M48 97h1v1h-1zM26 82h1v1h-1zM36 82h1v1h-1zM46 81h1v1h-1zM22 79h1v1h-1zM40 79h1v1h-1zM34 78h1v1h-1zM22 76h1v1h-1zM36 75h1v1h-1zM52 74h1v1h-1zM6 73h1v1h-1zM13 73h1v1h-1zM20 72h1v1h-1zM35 72h1v1h-1zM19 69h1v1h-1zM54 69h1v1h-1zM37 66h1v1h-1zM4 65h1v1h-1zM55 65h1v1h-1zM43 64h1v1h-1zM4 63h1v1h-1zM53 63h1v1h-1zM57 62h1v1h-1zM1 61h1v1h-1zM5 61h1v1h-1zM15 61h1v1h-1zM40 61h1v1h-1zM60 60h1v1h-1zM5 59h1v1h-1zM38 59h1v1h-1zM3 58h1v1h-1zM22 58h1v1h-1zM49 57h1v1h-1zM9 56h1v1h-1zM61 56h1v1h-1zM58 55h1v1h-1zM58 54h1v1h-1zM60 53h1v1h-1zM64 47h1v1h-1zM2 43h1v1h-1zM55 42h1v1h-1zM64 42h1v1h-1zM40 41h1v1h-1zM33 37h1v1h-1zM61 37h1v1h-1zM32 36h1v1h-1zM2 35h1v1h-1zM41 35h1v1h-1zM1 33h1v1h-1zM16 33h1v1h-1zM3 31h1v1h-1zM15 31h1v1h-1zM47 30h1v1h-1zM23 29h1v1h-1zM64 29h1v1h-1zM13 27h1v1h-1zM43 26h1v1h-1zM2 25h1v1h-1zM11 24h1v1h-1zM19 24h1v1h-1zM29 24h1v1h-1zM42 24h1v1h-1zM65 24h1v1h-1zM7 21h1v1h-1zM20 21h1v1h-1zM26 21h1v1h-1zM10 20h1v1h-1zM21 19h1v1h-1zM10 17h1v1h-1zM26 17h1v1h-1zM21 16h1v1h-1zM18 12h1v1h-1z"/>
<path fill="#0c5954" d="M15 85h1v1h-1zM37 80h1v1h-1zM17 79h1v1h-1zM14 75h1v1h-1zM29 75h1v1h-1zM51 75h1v1h-1zM38 72h1v1h-1zM57 72h1v1h-1zM18 71h1v1h-1zM61 71h1v1h-1zM78 68h1v1h-1zM44 67h1v1h-1zM42 66h1v1h-1zM42 65h1v1h-1zM70 63h1v1h-1zM59 62h1v1h-1zM38 61h1v1h-1zM1 60h1v1h-1zM55 58h1v1h-1zM7 55h1v1h-1zM53 55h1v1h-1zM55 55h1v1h-1zM41 52h1v1h-1zM54 50h1v1h-1zM49 46h1v1h-1zM57 46h1v1h-1zM14 42h1v1h-1zM30 39h1v1h-1zM61 38h1v1h-1zM57 37h1v1h-1zM59 37h1v1h-1zM43 33h1v1h-1zM32 32h1v1h-1zM37 32h2v1h-2zM66 31h1v1h-1zM39 28h1v1h-1zM17 26h1v1h-1zM39 24h1v1h-1zM41 24h1v1h-1zM48 22h1v1h-1zM4 20h1v1h-1zM11 20h1v1h-1zM27 18h1v1h-1zM8 17h1v1h-1z"/>
<path fill="#0d5c51" d="M7 80h1v1h-1zM24 77h1v1h-1zM17 75h1v1h-1zM8 74h1v1h-1zM5 70h1v1h-1zM10 69h1v1h-1zM50 67h1v1h-1zM1 65h1v1h-1zM62 60h1v1h-1zM50 59h1v1h-1zM6 54h1v1h-1zM52 50h1v1h-1zM66 49h1v1h-1zM54 44h1v1h-1zM44 43h1v1h-1zM61 42h1v1h-1zM61 41h1v1h-1zM53 40h1v1h-1zM62 40h1v1h-1zM36 39h1v1h-1zM50 36h1v1h-1zM51 35h1v1h-1zM57 31h1v1h-1zM23 30h1v1h-1zM43 30h1v1h-1zM32 29h1v1h-1zM44 29h1v1h-1zM8 28h1v1h-1zM19 28h1v1h-1zM51 28h1v1h-1zM53 28h1v1h-1zM65 28h1v1h-1zM49 27h1v1h-1zM15 26h1v1h-1zM31 25h1v1h-1zM53 24h1v1h-1zM55 24h1v1h-1zM7 19h1v1h-1zM22 18h1v1h-1zM13 17h1v1h-1zM8 16h1v1h-1z"/>
<path fill="#0f5e4f" d="M13 82h1v1h-1zM35 80h1v1h-1zM7 79h1v1h-1zM50 79h1v1h-1zM33 76h1v1h-1zM48 76h1v1h-1zM51 69h1v1h-1zM66 67h1v1h-1zM22 66h1v1h-1zM14 65h1v1h-1zM58 65h1v1h-1zM61 65h1v1h-1zM3 60h1v1h-1zM1 56h1v1h-1zM46 54h1v1h-1zM54 49h1v1h-1zM49 47h1v1h-1zM0 46h1v1h-1zM45 45h1v1h-1zM56 43h1v1h-1zM37 38h1v1h-1zM56 38h1v1h-1zM35 32h1v1h-1zM48 27h1v1h-1zM32 26h1v1h-1zM45 26h1v1h-1zM52 26h1v1h-1zM24 21h1v1h-1zM25 17h1v1h-1zM28 15h1v1h-1z"/>
<path fill="#10614c" d="M9 86h1v1h-1zM34 85h1v1h-1zM22 84h1v1h-1zM15 80h1v1h-1zM37 76h1v1h-1zM46 76h1v1h-1zM0 73h1v1h-1zM37 68h1v1h-1zM44 66h1v1h-1zM52 64h1v1h-1zM54 59h1v1h-1zM50 54h1v1h-1zM44 46h1v1h-1zM2 45h1v1h-1zM62 44h1v1h-1zM44 39h1v1h-1zM54 32h1v1h-1zM69 25h1v1h-1zM22 16h1v1h-1zM25 16h1v1h-1z"/>
<path fill="#11634a" d="M35 83h1v1h-1zM44 83h1v1h-1zM27 82h1v1h-1zM23 79h1v1h-1zM4 78h1v1h-1zM21 76h1v1h-1zM22 74h1v1h-1zM44 71h1v1h-1zM43 69h1v1h-1zM56 68h1v1h-1zM68 58h1v1h-1zM63 56h1v1h-1zM57 48h1v1h-1zM3 47h1v1h-1zM47 43h1v1h-1zM0 42h2v1h-2zM66 41h1v1h-1zM56 39h1v1h-1zM64 32h2v1h-2zM12 28h1v1h-1zM0 25h1v1h-1zM36 24h1v1h-1z"/>
<path fill="#126647" d="M41 87h1v1h-1zM25 84h1v1h-1zM17 80h1v1h-1zM39 79h1v1h-1zM26 77h1v1h-1zM18 75h1v1h-1zM47 75h1v1h-1zM12 72h1v1h-1zM48 69h1v1h-1zM1 68h1v1h-1zM5 60h1v1h-1zM36 55h1v1h-1zM64 49h1v1h-1zM53 44h1v1h-1zM56 41h1v1h-1zM48 36h1v1h-1zM32 33h1v1h-1zM51 27h1v1h-1zM9 25h1v1h-1zM1 23h1v1h-1zM26 22h1v1h-1zM28 22h1v1h-1zM6 21h1v1h-1zM7 18h1v1h-1z"/>
<path fill="#136845" d="M45 86h1v1h-1zM47 80h1v1h-1zM10 75h1v1h-1zM57 70h1v1h-1zM45 69h1v1h-1zM57 63h1v1h-1zM63 60h1v1h-1zM63 47h1v1h-1zM69 40h1v1h-1zM62 36h1v1h-1zM65 35h1v1h-1zM53 32h1v1h-1zM52 28h1v1h-1zM15 27h1v1h-1zM30 26h1v1h-1zM21 20h1v1h-1zM16 19h1v1h-1zM20 16h1v1h-1z"/>
<path fill="#146b42" d="M26 86h1v1h-1zM46 86h1v1h-1zM23 85h1v1h-1zM52 84h1v1h-1zM3 73h1v1h-1zM50 73h1v1h-1zM0 67h1v1h-1zM59 64h1v1h-1zM69 60h1v1h-1zM59 57h1v1h-1zM60 55h1v1h-1zM62 53h1v1h-1zM63 43h2v1h-2zM50 38h1v1h-1zM60 36h1v1h-1zM36 34h1v1h-1zM48 30h1v1h-1zM3 23h1v1h-1zM14 22h1v1h-1zM29 22h1v1h-1z"/>
<path fill="#156d40" d="M38 84h1v1h-1zM46 84h1v1h-1zM11 83h1v1h-1zM29 82h1v1h-1zM13 81h1v1h-1zM22 81h1v1h-1zM44 78h1v1h-1zM13 77h1v1h-1zM39 72h1v1h-1zM0 60h1v1h-1zM61 58h1v1h-1zM46 41h1v1h-1zM1 37h1v1h-1zM40 37h1v1h-1zM11 23h1v1h-1zM34 23h1v1h-1zM23 16h1v1h-1z"/>
<path fill="#16703d" d="M28 81h1v1h-1zM31 81h1v1h-1zM42 81h1v1h-1zM33 80h1v1h-1zM9 74h1v1h-1zM23 74h1v1h-1zM50 71h1v1h-1zM58 59h1v1h-1zM66 55h1v1h-1zM58 53h1v1h-1zM0 49h1v1h-1zM62 45h1v1h-1zM59 42h1v1h-1zM1 38h1v1h-1zM62 35h1v1h-1zM40 32h1v1h-1zM11 22h1v1h-1zM38 21h1v1h-1zM5 20h1v1h-1zM13 18h1v1h-1z"/>
<path fill="#17723b" d="M29 85h1v1h-1zM18 81h1v1h-1zM38 81h1v1h-1zM56 78h1v1h-1zM47 74h1v1h-1zM53 57h1v1h-1zM55 54h1v1h-1zM67 41h1v1h-1zM55 35h1v1h-1zM53 29h1v1h-1zM32 28h1v1h-1zM0 27h1v1h-1zM21 21h1v1h-1zM7 17h1v1h-1zM15 17h1v1h-1zM27 6h1v1h-1z"/>
<path fill="#187538" d="M45 94h1v1h-1zM51 79h1v1h-1zM11 78h1v1h-1zM52 68h1v1h-1zM54 68h1v1h-1zM53 56h1v1h-1zM65 43h1v1h-1zM52 35h1v1h-1zM54 30h1v1h-1zM40 27h1v1h-1zM54 25h1v1h-1zM38 24h1v1h-1z"/>
<path fill="#197736" d="M40 90h1v1h-1zM44 87h1v1h-1zM37 86h1v1h-1zM10 81h1v1h-1zM21 80h1v1h-1zM30 80h1v1h-1zM43 74h1v1h-1zM53 71h1v1h-1zM52 37h1v1h-1zM37 23h1v1h-1zM4 21h2v1h-2zM9 21h1v1h-1zM24 16h1v1h-1zM17 15h1v1h-1zM14 9h1v1h-1z"/>
<path fill="#1a7a33" d="M39 91h1v1h-1zM42 85h1v1h-1zM38 83h1v1h-1zM40 80h1v1h-1zM16 77h1v1h-1zM31 76h1v1h-1zM2 73h1v1h-1zM55 59h1v1h-1zM66 53h1v1h-1zM65 39h1v1h-1zM37 31h1v1h-1zM3 21h1v1h-1zM19 20h1v1h-1zM24 19h1v1h-1zM15 18h1v1h-1z"/>
<path fill="#1c7c31" d="M42 84h1v1h-1zM42 73h1v1h-1zM62 55h1v1h-1zM65 53h1v1h-1zM60 52h1v1h-1zM41 34h2v1h-2zM55 32h1v1h-1zM4 27h1v1h-1zM0 23h1v1h-1zM25 18h1v1h-1zM6 16h1v1h-1zM14 16h1v1h-1zM11 13h1v1h-1zM5 10h1v1h-1zM26 8h1v1h-1z"/>
<path fill="#1d7f2e" d="M36 92h1v1h-1zM42 87h1v1h-1zM5 79h1v1h-1zM29 79h1v1h-1zM60 72h1v1h-1zM59 70h1v1h-1zM58 66h1v1h-1zM61 63h1v1h-1zM0 30h1v1h-1zM39 27h1v1h-1zM5 22h1v1h-1zM3 20h1v1h-1zM5 17h1v1h-1zM23 17h1v1h-1zM11 16h1v1h-1zM3 15h1v1h-1zM7 15h1v1h-1zM30 13h1v1h-1zM21 12h1v1h-1zM27 11h1v1h-1z"/>
<path fill="#1e812c" d="M51 86h1v1h-1zM1 72h1v1h-1zM1 66h1v1h-1zM64 60h1v1h-1zM63 51h1v1h-1zM0 36h1v1h-1zM51 33h1v1h-1zM46 27h1v1h-1zM0 24h1v1h-1zM38 23h1v1h-1zM14 18h1v1h-1zM3 17h1v1h-1zM24 17h1v1h-1zM9 16h1v1h-1zM9 15h1v1h-1zM25 15h1v1h-1zM11 14h1v1h-1zM17 14h1v1h-1zM10 12h1v1h-1zM25 12h2v1h-2zM20 10h1v1h-1zM17 6h1v1h-1zM27 0h1v1h-1z"/>
<path fill="#1f8429" d="M39 85h1v1h-1zM49 83h1v1h-1zM55 64h1v1h-1zM57 39h1v1h-1zM52 31h1v1h-1zM0 29h1v1h-1zM58 28h1v1h-1zM49 26h1v1h-1zM46 24h1v1h-1zM47 23h1v1h-1zM61 21h1v1h-1zM12 19h1v1h-1zM4 18h1v1h-1zM20 15h1v1h-1zM30 15h1v1h-1zM4 14h1v1h-1zM14 13h1v1h-1zM22 13h1v1h-1zM27 13h1v1h-1zM27 9h1v1h-1zM23 7h1v1h-1z"/>
<path fill="#208627" d="M42 91h1v1h-1zM12 85h1v1h-1zM44 81h1v1h-1zM28 79h1v1h-1zM9 75h1v1h-1zM52 69h1v1h-1zM53 35h1v1h-1zM42 25h1v1h-1zM16 18h1v1h-1zM22 17h1v1h-1zM18 16h1v1h-1zM31 16h1v1h-1zM6 12h1v1h-1z"/>
<path fill="#218924" d="M37 90h1v1h-1zM63 57h1v1h-1zM55 44h1v1h-1zM1 35h1v1h-1zM9 26h1v1h-1zM11 18h1v1h-1zM4 16h1v1h-1zM22 15h1v1h-1zM26 13h1v1h-1zM26 11h1v1h-1z"/>
<path fill="#228b22" d="M49 74h1v1h-1zM63 53h1v1h-1zM41 23h1v1h-1z"/>
</g>
<g fill="none" stroke-width="26.00" stroke-linejoin="round" stroke-linecap="butt" transform="scale(0.2500)">
<path stroke="#000000" d="M3537 8383l-59-55l-58 55M4118 8383l-58-55l-58 55M4235 8383zM4409 8383l-58-55l-58-56l-58 0l-58 56l-59 55M1442 7105l58 56l58 0l59 55l-59 56l59 55l58 0l0 56l0 56l58 55l-58 0l-58 0l-59-55l-58 55l58 56l-58 55l0 56l58 55l59-55l0-56l58 0l58 0l58-55l58 55l58 0l59-55l0 55l0 56l-59 55l59 56l58-56l0 56l58 56l58 0l58 0l0 55l0 56l0 55l-58 56l58 55l59 0l58-55l0-56l0-55l0-56l0-55l58 55l58-55l-58-56l0-56l58-55l-58-56l58 0l0 56l0 55l58 56l58 0l-58 56l-58 55l58 56l58 55l59-55l-59-56l59-55l58-56l58 0l58 0l58 56l59 55l58-55l58 55l58 0l58-55l58 55l59-55l-59-56l59-56l58 0l0 56l-58 56l58 55l58-55l0 55l0 56l58 55l0 56l-58 55l0 56l58 55l58-55l0-56l59 0l58-55l58-56l0-55l58-56l-58-55l-58 0l-58 55l0 56l0 55l0-55l0-56l0-55l0-56l58 56l58-56l58 56l58-56l-58-56l58 0l58-55l-58-56l58 0l0 56l59 55l58 0l58 0l-58 56l0 56l58 55l58 0l-58 56l58 55l58-55l59 55l58 56l58-56l0-55l-58-56l-58 0l-59-55l0-56l59 0l58 0l58 0l0 56l58 55l58 56l58-56l0-55l0-56l59-56l58-55l-58-56l-59-55l-58-56l-58 56l0-56l58 0l58 0l59 56l58 0l58-56l-58-55l-58 0l0-56l58 56l58-56l-58-56l58-55l-58-56l0-55l0-56l-58-55l58 0l0 55l0 56l58 55l58-55l0-56l0-55l0 55l58 56l59 0l-59 55l0 56l-58-56l-58 56l0 55l58 56l58 0l59-56l58-55l58 55l58-55l0-56l58 56l58-56l-58-55l-58-56l-58 56l0-56l58-55l0-56l58 56l58 55l59 0l58-55l-58-56l-59 0l-58-56l0-55l58 0l59-56l-59-55l-58-56l-58 0l58 0l58-55l0-56l59-56l0 56l58 56l58 55l58-55l-58-56l0-56l0-55l0 55l58 56l0 56l58 55l59-55l58 55l58-55l0 55l-58 56l58 55l58 56l58 0l58-56l0-55l59-56l-59-55l-58 55l0-55l58-56l-58-56l-58 0l-58 0l-58 0l-58 0l-59 0l59-55l-59-56l-58 0l-58-55l-58 0l-58-56l58-55l0 55l58 56l58-56l58-55l0 55l-58 56l58 55l59-55l58-56l0-55l-58-56l58 0l58-56l58 56l58-56l-58-55l0-56l58 0l58 56l59-56l-59-55l0-56l59-55l0-56l0-55l-59-56l-58-56l-58 0l-58 56l0 56l-58-56l-58 0l-59 0l-58-56l58 0l59-55l58-56l58-55l0-56l58-55l-58-56l-58 0l-58-56l-59-55l-58-56l-58-55l-58-56l0-55l58 55l58 56l58 55l59 56l58-56l58 56l58-56l58-55l-58-56l-58 0l-58 0l58-55l-58-56l0-56l-58-55l-59-56l-58 0l58 0l59 0l58 56l58 55l58 0l58 56l58-56l0-55l-58-56l-58 0l-58 0l-58-55l-58-56l0-55l-59-56l-58 56l-58 0l58-56l-58-56l58 0l58 0l59-55l0-56l58-55l-58-56l58-55l0-56l-58-56l58-55l-58-56l-59 0l-58 0l-58 56l-58 55l58 56l58 56l58-56l0 56l-58 0l-58 0l-58-56l-58 0l58-56l-58-55l58-56l-58-55l-59 0l-58 55l0 56l-58 0l-58 55l58 56l58 0l-58 0l-58 0l-58-56l58-55l0-56l-58-55l-58 55l-59-55l-58 55l-58 0l-58 56l-58-56l-59 56l-58-56l-58 0l-58 0l-58-55l-58 0l-59 0l-58 55l-58-55l58-56l-58-55l-58-56l-58 56l-59 55l-58-55l-58 55l0 56l-58-56l0-55l-58-56l-58 0l-59 56l59 55l-59 56l-58 0l-58 55l0 56l-58-56l-58 56l0-56l-59-55l-58-56l58 0l59 0l58 0l58-55l-58-56l-58 0l-59-55l-58 0l-58-56l-58-56l58-55l-58-56l-58 0l-58 56l-59 55l59 56l0 56l-59 55l-58 0l-58-55l58-56l-58-56l-58-55l-58 55l0 56l0 56l-59 55l-58 0l0-55l-58-56l-58 56l0 55l58 56l0 55l-58-55l-58 0l-58-56l-59 56l-58 0l-58-56l-58 0l-58-55l-59 0l-58 0l-58 55l-58 56l-58-56l58-55l-58-56l-58 56l-59 55l59 56l-59 55l59 56l58 55l-58 0l-59 56l0 55l59 56l-59 56l-58-56l-58 0M1442 6716l0 56l0 55l0 56M1442 6605zM1442 6438zM1442 6216zM7144 6105l-58 55l58 56M1442 6105zM1442 5716l0 56M1442 5549zM1442 5327zM1442 5216zM1442 5105zM1442 4994zM1442 4771l0 56M1442 4660l58 0zM1442 4493l58 0zM1442 4382zM2955 2938l58 55l58-55M3246 8383l58-55l-58-56l-59 56zM3886 8383l58-55l58-56l-58-56l-58 56l-59 56zM3362 8328l58 0l58-56l-58-56l-58 0l-58 56zM3595 8328l58-56l-58-56l-58 56zM4060 8328l58-56l0-56l0-55l-58-56l58-55l-58-56l-58 56l-58 55l58 56l0 55l0 56zM2664 8272l58-56l-58-55l-58 55zM3013 8272l58-56l0-55l58 0l58-56l59 56l58-56l58-55l0-56l-58-55l-58 55l-59 0l0-55l-58-56l-58 0l-58 56l-58 0l-58-56l-59 0l-58-55l-58 0l-58 55l-58 56l58 55l58 56l58 55l58 56l59-56l-59-55l-58-56l58 0l59 0l0 56l58 55l0 56l0 55zM3827 8272l59-56l-59-55l-58 55zM2489 8216l58-55l-58-56l-58-55l-58-56l-58 56l58 55l58 56zM4351 8216l58-55l58-56l0-55l0-56l-58-55l-58 55l-58 56l58 55l-58 56zM2664 8161l58-56l-58-55l-58 55zM3711 8161l58 0l58-56l-58-55l-58 0l-58 55zM4235 8161l58-56l-58-55l-58 55zM3013 8050l58-56l58 56l-58 0zM1966 8050l58-56l-58-55l-59 55zM3711 8050l58-56l58-55l0-56l59 0l58-55l0-56l-58-56l-59 0l-58 56l0 56l-58 55l0 56l-58 55zM3886 8050l58-56l-58-55l-59 55zM2140 7994l58-55l0-56l-58-55l-58 55l0 56zM2722 7939zM2024 7939l58-56l-58-55l-58-56l-59 56l59 55zM4584 7939l58-56l-58-55l-58 55zM1675 7883l58-55l58-56l-58-56l-58 56l-58 56zM4235 7883l58-55l-58-56l-58 56zM2257 7772l0-56l-59-55l59 0l0 55l0 56zM3013 7772l58 0zM2140 7716zM2897 7716l0-55l0 55zM3420 7716zM2082 7661l0-56l0 56zM2606 7661l58-56l0 56zM3013 7661l58 0zM3187 7661zM3362 7661l-58-56l0-55l58 0l58 0l0 55l-58 56zM3478 7661zM3595 7661zM4060 7661zM4235 7661l58-56l58 56l-58 0zM2547 7605l-58-55l58 0l59 0l-59 55zM3537 7605zM2257 7550zM3886 7550zM4118 7550zM4817 7605l58-55l-58-56l-59 56zM1849 7494l0-55l58-56l0 56l-58 55zM2024 7494zM2897 7494zM3071 7494zM3187 7494zM3944 7494zM4235 7494l0-55l58 0l-58 55zM2082 7439zM2431 7439zM2780 7439zM3769 7439zM4758 7494l59-55l-59-56l-58 56zM1500 7439l58 0l59-56l-59-56l-58 0l-58 56zM1791 7383zM3071 7383zM3420 7383zM4002 7383zM4351 7383l58 0zM2024 7327zM2198 7327zM1791 7272zM1907 7272l0-56l59 56zM3827 7272l59 0zM4060 7272l58 0zM4409 7272l58-56l0 56zM1733 7216l0-55l0 55zM4351 7216zM4002 7161l58 0zM4293 7161zM3653 7105zM4351 7105zM5282 7161l58-56l-58-55l-58 55zM1500 7050l0-56l0 56zM1791 7050zM5398 7105l59-55l0-56l58-56l-58-55l-59 55l-58-55l-58 55l58 56l0 56zM4526 6938zM5631 6994l58-56l-58-55l-58 55zM5864 6994l58-56l-58-55l-58 55zM4933 6883l0-56l0-55l58 55l-58 56zM5224 6938l58-55l-58-56l-58 56zM4817 6827zM4177 6772zM4642 6772zM4758 6772zM5457 6827l58-55l-58-56l-59 56zM5631 6772zM5980 6772l58-56l-58-55l-58 55zM1500 6661zM4642 6661zM4991 6605zM5980 6661l58-56l-58-56l-58 56zM4875 6549zM5049 6549l0-55l0-56l58-55l0 55l0 56l-58 55zM5515 6549l58 0l58-55l-58-56l-58-55l-58 55l0 56zM5747 6549l59-55l58 55l58-55l-58-56l0-55l58-56l-58-55l-58 55l-59 0l-58 0l-58 0l58-55l-58-56l-58 56l-58 55l58 56l58 55l58 0l58 0l-58 56zM6038 6549l59-55l-59-56l-58 56zM4584 6438l0-55l0 55zM6155 6438l58-55l-58-56l-58-55l-59 55l59 56zM5049 6327zM5747 6327l59-55l-59-56l-58 56zM6271 6327l58-55l-58-56l-58 56zM5107 6216l59-56l0-55l0-56l58 56l58 0l-58 55l-58 56zM5980 6272l58-56l59-56l-59-55l-58 55l-58 56zM5398 6105l59 0l58 0l-58 0zM6387 6160l59-55l-59-56l-58 56zM4758 6049zM4933 6049zM5922 6105l58-56l-58-55l-58 55zM6504 6105l58-56l-58-55l-58 55zM6911 6105l58-56l-58-55l-58 55zM5398 5994l0-56l0-55l59 0l58-56l58 56l58-56l58-55l0 55l-58 56l0 55l-58 0l-58 0l-58 0l-59 56zM6097 6049l58-55l-58-56l-59 56zM6213 6049l58-55l-58-56l-58 56zM4933 5938zM6387 5994l59-56l-59-55l-58-56l-58 56l58 55zM6562 5994l58 0l58-56l59-55l58-56l-58-55l-59 55l-58 56l-58 0l-58 55zM5166 5827l0-55l58 55zM5340 5827zM6504 5883l58-56l-58-55l-58 55zM4817 5772zM7027 5827l59-55l-59-56l-58 56zM5980 5772l58-56l-58-56l-58 56zM6504 5772l58-56l58-56l-58-55l-58 55l-58 56zM5224 5660l-58-55l58-56l0 56l0 55zM6097 5716l58-56l58 0l58-55l58-56l58-55l-58-56l-58 56l-58 55l-58 0l-58 0l-59 56l0 55zM6678 5716l59-56l-59-55l-58 55zM6853 5716l58-56l-58-55l-58 55zM5806 5660l58-55l58 55l58-55l0-56l-58-55l-58 0l-58 55l-59-55l-58-56l-58 0l-58 56l58 55l58 56l58 0zM5398 5549l0-55l-58-56l-58 0l58-55l-58-56l0-56l58 56l58 0l0 56l59 55l0 56l-59 55zM4467 5494zM5107 5494l0-56l0 56zM5806 5494l58-56l-58-55l-59 55zM6155 5494l58-56l-58-55l-58 55zM6038 5438l59-55l-59-56l-58-56l-58-55l-58 55l58 56l58 56zM6446 5438l58-55l-58-56l-59 56zM5049 5327zM5689 5383l58-56l-58-56l-58 56zM6329 5383l58-56l-58-56l-58 56zM4933 5271zM5806 5327l58-56l-58-55l-59-56l-58 56l58 55zM5107 5160zM6097 5216l58-56l0-55l-58-56l-59 56l0 55zM4817 5105zM5922 5160l58-55l0-56l-58-55l-58 55l0 56zM4409 4994zM5340 4994l0-56l0-56l58 0l-58 56l0 56zM5457 4994zM5631 5049l58-55l-58-56l-58 56zM4875 4938l0-56l58-55l0-56l0 56l0 55l-58 56zM5166 4938zM4700 4882zM6097 4938l58-56l-58-55l-59 55zM4409 4827zM4584 4827zM5049 4827zM5864 4882l58-55l-58-56l-58-55l-59 55l59 56zM6097 4827l58-56l58-55l-58-56l-58-55l-59 55l59 56l-59 55zM4758 4716l59-56l58 56l-58 0zM4991 4716zM5689 4771l58-55l0-56l-58-55l-58 55l0 56zM4409 4660zM4700 4660l0-55l0 55zM4933 4660l-58-55l58-56l0-56l0-55l0-56l0 56l0 55l0 56l0 56l0 55zM5107 4660zM5224 4660zM5573 4716l58-56l-58-55l-58 55zM5980 4716l58-56l-58-55l-58 55zM1558 4605zM2082 4605zM4293 4605zM5864 4660l58-55l-58-56l-58 56zM4642 4549l-58-56l58 0l58 0l-58 56zM5049 4549zM4118 4493zM4351 4493zM5107 4493zM5515 4549l58-56l-58-55l-58 55zM5689 4549l58 0l59-56l-59-55l-58-56l-58 56l0 55zM4177 4438zM4467 4438zM4758 4438zM5224 4438zM4351 4382l58-55l0-56l0 56l0 55zM4526 4382zM4642 4382l0-55l58 55zM5107 4382l0-55l0-56l0-55l59 55l58 56l-58 0l-59 55zM5282 4382zM3653 4327zM4758 4327l-58-56l-58-55l-58-56l58-56l58 0l58 56l-58 56l58 55l0 56zM5340 4327zM5806 4382l58-55l-58-56l-59 56zM1500 4271zM3595 4271zM4933 4271zM5689 4327l58-56l-58-55l0-56l-58-56l-58 0l-58 56l58 56l58 55zM1849 4216zM2257 4216zM3362 4216zM3537 4216l-59-56l-58-56l58-55l59-56l58 0l58 0l0 56l-58-56l-58 56l0 55l0 56l0 56zM3944 4216zM4060 4216zM4235 4216zM4875 4216zM2024 4160l0-56l0 56zM2140 4160l0-56l0 56zM3711 4160l0-56l0 56zM4118 4160l-58-56l58 0l59 56zM4293 4160l58-56l58 0l-58 56zM5806 4216l58-56l-58-56l-59 56zM2315 4104zM3013 4104zM3304 4104zM3886 4104l58 0zM4526 4104zM5340 4104zM1791 4049l58 0zM1966 4049l-59-56l0-55l59 55l58 0l-58 56zM3769 4049zM4177 4049l58 0zM4758 4049zM5980 4104l58-55l-58-56l-58 56zM2198 3993l59 0zM2547 3993l59-55l58-56l0 56l-58 55zM2780 3993zM3944 3993zM5747 4049l59-56l-59-55l-58 55zM1791 3938l0-56l0 56zM3304 3993l58-55l-58-56l-58 56zM3886 3938zM4526 3993l58-55l58-56l-58-55l-58-56l-59 56l-58 55l58 56zM4991 3993l58-55l-58-56l-58 56zM1675 3882zM2082 3882zM2257 3882zM3420 3938l58-56l-58-55l-58 55zM4177 3938l58-56l0-55l-58-56l-59 56l0 55zM4526 3882zM5282 3938l58-56l-58-55l-58 55zM5457 3938l58-56l58-55l-58-56l-58 56l-59 55zM2955 3827l0-56l0 56zM3071 3827zM4875 3882l58-55l-58-56l-58 56zM2664 3771zM3420 3827l58-56l-58-55l-58 55zM3769 3827l58-56l-58-55l-58 55zM2082 3771l58-55l0-56l-58-56l-58-55l-58 55l58 56l0 56zM3013 3716zM2198 3716l59 0l58-56l-58-56l-59 0l-58 56zM2547 3716l59-56l-59-56l-58-55l-58 55l58 56zM3187 3716l59-56l-59-56l-58 56zM3827 3716l59-56l-59-56l-58 56zM3944 3716l58 0l58-56l-58-56l-58-55l-58 55l0 56zM4177 3716l58-56l-58-56l-59 56zM5457 3716l58-56l-58-56l-59 56zM1791 3660l58-56l-58-55l-58 55zM3304 3660l58-56l-58-55l-58 55zM2140 3604l58-55l-58-56l-58 56zM3769 3604l58 0l59-55l-59-56l-58 0l-58 56zM4118 3604l59-55l-59-56l-58 56zM1733 3549l58-56l-58-55l-58 55zM2606 3549l58-56l-58-55l-59 55zM2257 3493l58-55l-58-56l-59 56zM3013 3493l58-55l0-56l-58-55l-58 0l-58 55l58 56zM3944 3493l58-55l0-56l-58-55l-58 55l0 56zM2780 3382l58-55l-58-56l-58 56zM2431 3327l58-56l-58-56l-58 56zM3013 3327l58-56l-58-56l-58 56zM3711 3271l58-56l-58-55l-58 55zM2722 3215l58-55l-58-56l-58 56z"/>
<path stroke="#212121" d="M3537 7341l14-14l-14-27l-20 27zM2373 7305l35-33l-35-28l-29 28zM2547 7327l15-55l15-56l-30-41l-29-14l-29-19l-58 0l-19 19l19 14l58 4l24 37l25 56zM3071 7297l47-25l-47-45l-29 45zM2838 7188l15-27l-15-56l-58-14l-29 14l29 56zM3129 7216l20-55l0-56l24-55l14-19l12 19l18 55l29 37l11 19l47 27l26-27l32-40l58 3l58 18l29 19l30 18l14-18l-14-28l-20-28l-5-55l-22-56l47-28l33-28l5-55l20-19l19 19l39 37l58 0l8 18l50 34l39-34l19-41l10-14l-10-28l-14-28l14-55l30 55l29 10l58 27l23-37l-23-37l-7-18l7-28l19 28l39 22l19-22l-19-37l-29-19l29-9l58-33l58 24l15 18l44 19l34-19l-34-28l-35-27l35-34l38-22l-38-37l-59 37l-16-56l16-55l59 37l58-9l29 27l-10 56l39 56l58-45l58 17l58 0l15-28l-15-14l-58-4l-58-10l-29-28l16-55l-45-43l-58-13l-58 0l58 0l58-37l19-18l39-28l58 17l58 11l-58 11l-46 44l27 56l19 18l20-18l38-19l30 19l29 55l38-55l-38-37l-12-19l12-14l19-41l10-56l-8-55l11-56l26-32l43-24l-14-55l29-28l58-28l-58-55l-58-37l-44-19l24-55l20-56l-44-55l15-56l29-28l23-28l-9-55l-14-56l-58 0l-59 16l-29-16l-9-55l38-48l20-8l-20-14l-43-41l-15-28l-14 28l-15 55l-29 56l-58-19l-29-37l29-55l-19-56l19-11l29 11l29 14l29-14l29-14l20 14l38 22l35 34l24 27l58-3l26-24l-26-32l-20-24l-38-56l-59 19l-14-19l14-13l59-42l-59-56l-58-22l-58 8l-19 14l19 28l58-5l29 33l-29 28l-43 27l-15 28l-12-28l-46-44l-58-11l-58-56l-59-18l-19 18l19 37l29 19l30 28l29 27l5 56l-5 56l-29 11l-59 44l-23-55l23-14l39-42l-39-56l-19-55l-39-19l-39 19l-19 14l-10-14l10-19l19-37l-19-28l-13-27l13-37l19-19l10-55l-29-37l-58-19l0-56l-58-9l-59-18l-43-28l7-56l-22-24l-35 24l-23 56l25 55l-25 21l-35-21l35-55l-58-40l-19-16l-20-55l-19-11l-58-34l-59 11l-29-22l-29-22l-58-33l-58 7l-29-7l-10-56l-19-28l-15-28l-44-41l-7-14l-51-43l-58-2l-6-11l6-7l51-48l-51-56l-58 0l39-55l-39-56l-58 33l-29 23l0 55l-29 56l-59-37l-58 37l58 37l12 18l-12 7l-58-7l0-55l-58-28l-19 28l-10 55l-29 56l-39-56l-19-55l-59-37l-58-19l-58 56l-58-56l-23 56l-35 33l-29-33l-29-28l-35 28l-6 55l41 56l58-28l19 28l-19 22l-58-22l-59 0l-29-56l-29-33l-58 11l-22-33l-7-56l-29-55l-29 55l-13 56l25 55l-6 56l23 28l29 27l-29 28l-29 28l-29 56l0 55l0-55l-20-56l20-37l19-19l-19-13l-59 13l-58 19l-39 37l-19 11l-39 45l39 55l-58 42l-58-18l-29 32l29 37l58-19l58 37l0 56l-58-19l-19 19l-39 55l58 42l12 14l-12 6l-58 22l-29 28l17 55l-17 56l-6 55l-23 37l-59-18l-29 37l29 37l15 18l5 56l-20 19l-58 37l-26 55l26 32l47-32l11-18l59 10l4 8l-4 8l-35 48l-24 55l-43 56l43 47l20 8l-20 14l-29 42l6 56l-20 55l-15 56l35 55l-12 56l-3 55l38 45l24 11l-24 28l-29 27l15 56l-19 56l33 37l20 18l39 28l38 28l-29 55l-9 28l-20 28l-10 55l30 14l14-14l5-55l39-16l13 16l30 55l-14 56l-29 56l58 37l58 0l15 18l43 42l29 14l29 11l39 44l-39 25l-46-25l-12-27l-14 27l14 28l10 28l-10 18l-58 37l58 28l58-14l59 31l46-45l-3-55l-5-56l20-18l7 18l51 49l51-49l7-5l7 5l51 41l15 15l-15 42l-19 13l19 19l29 37l-19 56l-10 11l-58 44l58 32l59-13l29-19l12-55l17-28l19-28l39-25l32-31l26-24l33 24l-33 56l0 56l58 39l29 16l29 37l59 19l19-56l-19-55l58-28l43-28l15-11l58-17l58 0l24 28l35 28l24-28l34-56l39 56l19 28l19 28l20 55l19 19l39 37zM2082 7133l58-28l-58-28l-15 28zM3304 7105l0-55l58-28l58 28l-58 27l-58 28zM3711 7116l58-11l0-55l-58-35l-58 35l50 55zM1907 7059l12-9l-12-14l-19 14zM2722 7077l15-27l-15-28l-15 28zM2955 7077l19-27l-19-12l-15 12zM3595 7077l58-27l-58-10l-15 10zM3886 7087l23-37l-23-19l-59 19zM2082 7031l39-37l-10-56l-29-37l-39 37l-19 56zM3129 7008l-14-14l-5-56l19-22l39 22l-19 56zM3246 7005l-20-11l-9-56l29-13l29-42l29-19l22 19l-22 42l-29 13l0 56zM3827 7050l12-56l-12-14l-11 14zM2547 6938zM2664 6952l-15-14l15-18l11 18zM3886 6966l33-28l-33-24l-34 24zM2315 6920l-11-37l11-14l14 14zM2606 6883zM4060 6897l15-14l-15-56l-14 56zM4293 6901l10-18l-10-28l-19 28zM4409 6894l12-11l-12-28l-9 28zM1617 6841l11-14l-11-27l-30 27zM4235 6846l29-19l-29-18l-20 18zM2722 6788l-17-16l17-16l23 16zM3420 6772zM3711 6790l-10-18l10-56l19 56zM4118 6788l15-16l-15-37l-19 37zM2955 6661zM3827 6685l-29-24l29-23l47 23zM4584 6672l8-11l3-56l-11-11l-15 11l-14 56zM2664 6605zM3711 6642l-29-37l29-20l29 20zM3886 6605l-29-56l29-27l9 27l49 56l58 0l-58 0zM1849 6549zM1558 6466l39-28l-39-37l-29 37zM3944 6457l-20-19l20-6l58-15l15 21l-15 34zM4177 6341l-12-14l12-55l58 0l-39 55zM1617 6299l-30-27l-14-56l24-56l20-13l11 13l4 56l14 56zM4351 6299l-39-27l39-23l58-33l0-56l58-13l25-42l-25-28l-58-5l-23-23l23-22l58-11l30-22l29-37l14 37l24 55l8 56l-32 55l-14 10l-59 46l0 56l-58 23zM4758 6299l35-27l-35-56l-58 56zM3827 6216zM4293 6244l-12-28l12-9l14 9zM4235 6179l-29-19l-29-37l-12-18l12-11l58 11l16 55zM3944 6105zM4118 6049zM4002 6006l-11-12l11-14l17 14zM4293 6015l-22-21l22-24l44 24zM4758 6019l49-25l-49-40l-41 40zM3944 5944l-8-6l8-4l8 4zM4118 5975l-14-37l14-37l59 37zM4351 5966l-12-28l-46-44l-19-11l19-56l58-37l15 37l14 56l29 55zM4467 5883zM4177 5827zM4642 5870l45-43l13-37l20-18l-20-28l-29 28l-29 6l-58 49zM1617 5779l-20-7l20-12l9 12zM4875 5799l58-27l-58-42l-20 42zM4235 5744l-17-28l-41-46l-12-10l12-27l58 5l58-11l58-22l0 55l58 56l44-56l14-9l59 9l-59 56l-58 0l-58 0l-58 28zM3886 5660l0-55l0 55zM4118 5623l-19-18l19-19l39 19zM4758 5623l29-18l-29-56l-58 56zM1675 5556l-15-7l15-8l3 8zM3944 5549zM3827 5508l-8-14l8-10l10 10zM4235 5494zM4526 5549l58-55l-58-28l-15 28zM4642 5494l44-56l-44-21l-22 21zM1733 5383zM3711 5327zM3944 5346l-6-19l6-4l14 4zM3769 5281l-7-10l-7-55l14-11l6 11l23 55zM4758 5283l29-12l-29-11l-14 11zM4817 5258l24-42l-24-33l-25 33zM3886 5188l-15-28l15-55l58 55zM1558 5132l29-27l-29-28l-19 28zM3711 5105zM4235 5119l29-14l-29-28l-15 28zM4526 5127l29-22l-29-19l-24 19zM3595 5049zM3827 5071l-23-22l-35-55l0-56l58 0l59 56l-35 55zM1558 5021l29-27l-29-19l-11 19zM3537 5007l-15-13l15-7l11 7zM3246 4943l-5-5l5-8l8 8zM4060 4957l58-19l-8-56l8-55l-58-19l-58 0l-15 19l15 55l29 56zM3420 4882l39-55l0-56l19-14l10 14l49 35l43 21l15 18l29 37l-29 19l-24-19l-34-27l-44 27l-15 12zM4293 4901l58-19l-58-55l-15 55zM3304 4771l58-55l0 55zM2024 4728l-15-12l15-22l58 22zM4060 4757l35-41l9-56l-5-55l-10-56l-29-22l-16 22l-3 56l-16 55l-23 56zM2722 4660zM3246 4669l-15-9l15-28l7 28zM3944 4716l39-56l-39-32l-39 32zM2082 4635l-50-30l50-26l39 26zM2257 4605zM2897 4605zM3595 4632l58 17l39-44l19-56l-58-42l-29-14l-29-11l-29 11l29 56l-58 56zM3886 4623l14-18l-14-12l-59 12zM2373 4549zM3362 4605l58-56l-58-28l-19 28zM3478 4605l35-56l-35-42l-58 42zM3769 4592l51-43l-51-43l-58 43zM1675 4549l9-56l-9-11l-29 11zM2140 4493zM2722 4509l-22-16l22-16l15 16zM2838 4493zM2955 4500l-15-7l-5-55l20-28l8 28l11 55zM2489 4482l-33-44l-2-56l35-27l35 27l23 28l39 28l-39 22zM3886 4456l23-18l-23-37l-59 37zM3246 4438l29-56l-29-11l-12 11zM3595 4393l19-11l-19-14l-15 14zM3304 4355l29-28l-29-11l-12 11zM3246 4282l11-11l-11-14l-29 14zM2489 4271l58-28l20-27l-20-14l-58 3l-14 11zM2664 4271l58-14l58 14l29-55l-29-19l-58-9l-58 0l-20 28zM2606 4188l38-28l-38-56l-24 56zM3071 4149l29-45l-29-55l-23 55zM3129 3949l9-11l-9-8l-11 8z"/>
<path stroke="#434343" d="M2489 7022l20-28l-20-14l-8 14zM3013 6957l29-19l-29-27l-15 27zM2257 6904l15-21l43-56l-58-55l-59 37l-13 18l13 10l44 46zM2722 6920l47-37l11-11l58-26l24-19l23-55l12-37l29 37l-17 55l46 47l58-7l48-40l-48-55l19-56l39-28l19 28l20 56l19 14l58 41l50-55l-50-48l-11-8l-47-55l58-42l18 42l41 43l58-20l58 8l58-4l33-27l25-42l59-14l58-56l58 28l58-22l58 22l17-28l-17-18l-58 7l-39-44l39-37l39-19l-39-55l58-24l34-32l-34-55l-29-56l-29-18l-23-38l10-55l13-10l17 10l41 55l33-55l-33-46l-6-10l-52-55l-58 11l-17-11l17-10l58 10l39-56l19-33l22 33l36 47l30 9l29 18l58 23l16-41l-16-17l-58-39l-29-55l29-56l-59-55l-58 27l-7-27l-12-56l19-37l58 37l9-56l0-55l-9-14l-58-26l-58-16l58-55l-29-56l29-42l58 24l30 18l29 28l14 28l44 18l32 37l7 56l-39 25l-27 30l27 31l33 25l25 24l22-24l-22-42l-10-14l10-18l29-37l3-56l-32-55l-58-34l-39-22l13-55l-15-56l41-28l41-28l-41-48l-51 48l-7 14l-35 42l-24 28l-58 0l-58 28l-58-56l58-48l7-8l-7-13l-29-42l-29-24l-22 24l-36 25l-29-25l-29-46l-20-10l-17-55l-22-28l-29-28l-29-21l-29 21l-29 21l-58 3l-16-24l-10-55l-32-24l-32-32l-27-48l-19-8l-39-15l-48-40l48-25l32-31l26-31l47-24l-47-32l-58 22l-58-9l-58-13l-44-24l44-42l58 20l35-33l23-28l58-14l10-14l-10-14l-58-2l-58 2l-29 14l-29 28l-29-28l-29-7l-29 7l20 56l-11 55l-38 37l-30 19l-3 55l-26 25l-16-25l-42-46l-23-9l-35-19l-50-37l35-55l15-19l29 19l29 27l29 28l29 28l20-28l7-55l-27-47l-58 19l-19-28l-39-10l-58-32l-58 18l-44 24l44 33l23 23l20 55l-14 56l-29 28l-20 27l-39 16l-14-16l14-37l30-18l-30-56l-58-45l-23-10l23-28l39-28l-39-16l-58 16l-58 48l-29 8l29 9l48 46l-48 31l-58-31l-58-18l-59-24l-58 14l-43 28l43 34l58 8l59 14l58 55l58-27l58-7l25-21l33-17l47 17l-47 22l-31 33l-27 20l-58-10l-58-10l-39 56l-19 42l-13-42l-46-47l-13-9l-45-43l-51 43l-7 14l-29-14l-29-6l-58-49l-59-28l-14 28l14 18l24 37l-24 37l-11 19l-47 55l-35 56l35 21l29-21l29-42l35 42l24 28l23-28l35-28l13 28l-13 28l-35 28l-23 13l-39-13l-20-14l-9 14l9 55l-58-21l-35 21l-23 37l-39-37l4-55l-23-13l-17 13l7 55l0 56l-5 55l15 11l10-11l48-46l18 46l7 56l-25 28l-58 27l-58-27l-15 27l-14 56l29 37l58-9l58 28l-58 47l-58-32l-25 40l25 56l24 55l-24 49l-12 7l-21 55l-6 56l39 44l58 12l-58 55l58 56l-58 55l58 24l33 32l-33 24l-58-8l-37 39l37 40l39 16l0 55l-39 28l-11 28l11 28l58-9l39 37l19 27l12 28l-12 56l-35 55l35 21l27 35l31 28l58 4l42 23l-42 56l59 43l58 2l39 11l-39 22l-58 5l-59 19l-14 9l14 9l49 47l10 11l11-11l47-32l46 32l5 55l7 7l7-7l51-39l25-16l33-12l59 12l29-56l29-55l58 55l8 56l50 33l19 22l39 45l58-31l59 9l58-12l29-11l-29-27l-58-17l-59-11l-58 21l-26-21l26-26l58 26l59-56l58 49l51-49l7-28l8 28l50 37l16 19l-16 24l-46 31l-12 11l-29 45zM3187 6913l39-30l-39-56l-38 56zM3420 6869l29-42l-29-18l-29 18zM3653 6800l16-28l-16-28l-44 28zM3886 6781l7-9l9-56l-16-16l-39 16l30 56zM2140 6748l-39-32l39-55l-39-56l39-22l39 22l-39 56l12 55zM2838 6716l-19-55l19-28l29 28l-29 55zM3478 6772l24-56l-24-22l-19 22zM2489 6669l-7-8l7-5l12 5zM2955 6702l-39-41l39-23l43 23zM3595 6679l58-5l12-13l-12-19l-58-9l-58 28zM1849 6616l58-11l-58-8l-9 8zM2257 6605zM2664 6629l-27-24l27-30l50 30zM3246 6605zM3420 6605zM3187 6577l-9-28l9-4l8 4zM1733 6503l10-9l-10-19l-7 19zM1966 6527l-18-33l18-19l16 19zM3071 6508l-10-14l10-9l10 9zM4293 6503l6-9l-6-6l-10 6zM3420 6452l-5-14l5-11l8 11zM3537 6449l-9-11l9-5l29 5zM3827 6494l20-56l-20-37l-38 37zM4060 6459l58-21l-58-33l-14 33zM3944 6395l39-12l-20-56l39-44l58-11l-58-14l-29-42l29-56l-58-7l-58-48l-33 55l33 35l29 21l4 56l-14 55l22 56zM1675 6355l26-28l-26-37l-39 37zM3246 6364l-11-37l11-6l6 6zM4467 6352l33-25l-33-25l-41 25zM1791 6174l-29-14l-10-55l39-19l17 19l-9 55zM1558 6060l24-11l-24-22l-9 22zM4002 6077l58 0l15-28l-15-37l-58 31l-29 6zM3537 5994zM1617 5957l58-19l-16-55l-42-56l-43 56l23 55zM1849 5938zM4235 5966l19-28l-19-11l-9 11zM3944 5908l43-25l15-56l-33-55l-25-24l-22 24l-36 55l19 56zM4060 5938l22-55l-2-56l38-37l29-18l-29-14l-58-14l-32 28l-26 55l23 56zM4642 5833l6-6l-6-7l-8 7zM3886 5725l11-9l-11-8l-59 8zM1733 5660l0-55l0 55zM3653 5605zM3420 5577l-29-28l29-25l20 25zM3886 5557l8-8l-8-28l-15 28zM4235 5577l22-28l-22-18l-35 18zM3537 5438zM3653 5452l-23-14l-35-33l-17-22l17-19l39 19l19 18l23 37zM1966 5401l-16-18l16-14l7 14zM3420 5327zM4060 5341l58-14l-38-56l-20-23l-29 23l15 56zM1849 5299l-23-28l23-18l20 18zM3187 5278l-11-7l11-13l12 13zM3362 5271zM1966 5220l-10-4l10-6l5 6zM3304 5244l-6-28l6-6l14 6zM3478 5225l-14-9l14-19l10 19zM3827 5237l25-21l-25-56l-17 56zM3071 5164l-5-4l5-11l7 11zM3362 5160zM3187 5123l-48-18l48-35l59 29l11 6l-11 11zM3595 5127l39-22l-39-14l-17 14zM3944 5113l6-8l-6-10l-8 10zM3071 5049zM3653 5094l39-45l-29-55l-10-10l-19 10l-4 55zM2198 5007l-19-13l19-8l7 8zM2838 5031l-14-37l14-7l24 7zM3187 5016l-12-22l12-14l17 14zM3071 4980l-19-42l19-14l19 14zM3537 4945l19-7l-19-14l-20 14zM2315 4882zM2722 4894l-8-12l8-13l58 8l5 5l-5 5zM3013 4890l-12-8l12-13l6 13zM3362 4922l26-40l-26-39l-48 39zM1966 4827zM2722 4794l-19-23l19-22l10 22zM3071 4771zM3304 4669l14-9l-14-7l-7 7zM2082 4553l15-4l-15-11l-12 11zM2315 4593l23-44l-23-32l-26 32zM3769 4555l8-6l-8-6l-8 6zM2780 4535l20-42l-20-33l-14 33zM2722 4443l19-5l-19-11l-8 11zM2838 4452l20-14l-20-12l-29 12zM3129 4447l8-9l-8-6l-19 6zM2257 4390l11-8l-11-14l-6 14zM3013 4438l17-56l-17-23l-22 23zM3071 4334l7-7l-7-8l-12 8z"/>
<path stroke="#646464" d="M2489 6838l17-11l-17-8l-9 8zM2955 6849l48-22l-48-31l-21 31zM2838 6790l12-18l-12-14l-10 14zM2198 6742l38-26l21-35l19-20l-19-19l-59-9l-23 28l-4 55zM2664 6723l7-7l9-55l-16-8l-54-48l-4-18l-10 18l-10 56l20 8l50 47zM2373 6674l58-4l7-9l51-36l26-20l32-35l35-21l24-27l16-28l42-56l26 56l-16 55l48 28l58 7l58-35l35 56l24 22l58-11l29-11l-3-56l32-34l16-21l-16-42l-58 42l-58-56l58 0l51-55l7-28l14 28l-2 55l46 19l39 37l19 44l58-18l51 29l8 8l19-8l39-22l58-11l23-22l1-56l-5-55l39-19l39 19l19 55l59-39l29-16l-29-21l-59-35l-14-55l-44-34l-16-22l16-18l58-10l59 17l29 11l29 19l11-19l22-56l25-41l6-14l52-40l18-16l-18-18l-58 7l-19 11l-39 37l-47-37l-11-8l-59 8l27-55l32-24l58-4l58-13l58-15l-39-55l-19-10l-12 10l-46 44l-21-44l-37-49l-6-7l-9-55l15-7l11 7l47 31l46-31l12-56l-39-56l-19-18l-26-37l18-56l8-33l58-22l-58-23l-39 23l-19 2l-59 9l-15 44l-33 56l-10 11l-6-11l-52-50l-5-6l5-8l58-47l-43-56l-15-18l-5-37l5-23l19-33l-19-19l-58-15l-58-8l-59 30l-58-32l-14-12l14-27l24-28l34-24l30 24l29 33l17-33l-17-33l-20-23l-39-15l-58 6l-7 9l-51 25l-34-25l-24-39l-58-16l-24-56l-34-28l-22 28l-37 19l-24-19l-34-55l-58 24l-29-24l-10-56l-19-56l-58 14l-29 42l-30 17l-58-12l-58-5l-58-19l-58 11l-15 8l-43 33l-13 23l-28 55l41 56l-49 55l-10 14l-14-14l-44-41l-58 30l-29 11l29 14l29 42l-29 17l-29-17l-29-42l-18 42l-40 32l-42 23l20 56l22 14l21 42l-21 55l-48-55l-11-16l-58-8l-19 24l19 27l15 28l-15 12l-58 25l-58-14l-31 33l17 55l14 22l29-22l29-44l58 40l8 4l-8 14l-35 42l-23 22l-19 33l-4 56l23 28l11 28l-11 13l-44 42l15 56l29 47l58-25l35 33l-18 56l16 55l-26 56l51 44l15 11l-15 23l-24 33l24 28l35 28l24 37l11 18l47 28l58 9l17 19l4 55l37 44l58-33l20 45l-20 44l-58 11l58 12l20-12l39-11l23 11l35 21l29 35l14 56zM3246 6667l14-6l-14-8l-6 8zM1966 6611l58 9l25-15l-25-56l-58 45l-9 11zM3071 6624l58-19l-58-56l-23 56zM3537 6557l8-8l-8-18l-12 18zM1907 6499l6-5l-6-28l-58 28zM2024 6549l16-55l-16-56l-11 56zM2431 6525l-24-31l24-56l-5-55l5-4l6 4l-6 55l24 56zM3478 6522l39-28l-39-56l-33 56zM2257 6445l-30-7l30-5l9 5zM2780 6453l-22-15l22-33l18 33zM3187 6464l-36-26l36-34l22-21l-6-56l43-26l24 26l24 56l10 11l26 44l-26 32l-23-32l-35-30l-32 30zM1907 6383l30-56l-30-14l-19 14zM2955 6346l-26-19l26-12l46 12zM3071 6341l-29-14l29-9l19 9zM3711 6335l19-8l-19-11l-10 11zM1849 6305l29-33l-29-24l-22 24zM2722 6272zM3362 6303l-29-31l29-25l33 25zM3537 6288l29-16l-29-37l-39 37zM3653 6296l29-24l-29-28l-39 28zM2024 6227l-23-11l23-25l16 25zM3304 6216zM2140 6160zM2722 6105zM1966 6049zM2547 6059l-6-10l6-5l13 5zM3246 6053l-20-4l20-6l58 6zM2082 5994zM3071 6004l-14-10l14-16l13 16zM1966 5938zM3304 5952l-20-14l-38-47l-9-8l9-28l58-28l58 45l5 11l-5 7l-41 48zM3478 5959l-21-21l21-14l16 14zM1617 5901l10-18l-10-14l-11 14zM2955 5883zM1849 5846l-14-19l14-10l44-45l14-12l59-5l58 10l3 7l-3 11l-58 7l-44 37l-15 16zM3187 5827zM3420 5839l-25-12l25-24l15 24zM3711 5827l7-55l-7-19l-29 19zM3769 5630l26-25l-26-16l-39 16zM3013 5549zM3246 5496l-5-2l5-4l8 4zM3711 5524l31-30l-31-39l-58 39zM2082 5449l-19-11l19-7l13 7zM3304 5438zM3537 5364l29-37l-29-56l-39 56zM2257 5282l-30-11l30-18l9 18zM2897 5299l-8-28l8-4l3 4zM3420 5279l29-8l-29-13l-8 13zM3944 5275l6-4l-6-7l-7 7zM1849 5200l37-40l21-21l30 21l29 17l43-17l15-55l-58-56l-59 30l-58 26l-18 55zM2722 5170l-39-10l39-18l23 18zM2897 5164l-30-4l30-11l11 11zM3304 5173l14-13l-14-28l-29 28zM2431 5116l-4-11l4-6l52-50l6-4l9 4l49 56l59-24l58 10l11 14l-11 27l-58-11l-59-16l-58 0zM2780 5127l-19-22l19-13l10 13zM2082 5080l58 19l42-50l-42-37l-58-18l-29 55zM2315 5065l-13-16l13-18l14 18zM3013 5077l14-28l8-55l-22-56l-58-45l-39-11l-19-18l-59-28l-11-9l-30-56l-17-18l-19 18l-14 56l33 20l34 35l-34 30l-43 26l43 56l58-28l36-28l23-46l20 46l23 56l15 18l29 37zM3246 5061l10-12l-10-37l-24 37zM2606 5005l-8-11l8-14l11 14zM3129 5005l7-11l-7-56l-9 56zM2082 4994l26-56l3-56l-29-13l-15 13l-3 56zM3071 4896l25-14l-25-20l-17 20zM2198 4873l21-46l-21-22l-41 22zM2373 4874l58-14l44-33l-44-12l-58-18l-58 30zM2140 4790l7-19l-7-6l-7 6zM2315 4734l35-18l-35-19l-20 19zM2489 4673l20-13l-20-15l-22 15z"/>
<path stroke="#858585" d="M2198 6725l13-9l-13-33l-9 33zM2257 6505l16-11l-16-12l-10 12zM2373 6503l5-9l33-56l-14-55l34-28l41 28l17 55l-5 56l5 9l20-9l38-22l22-34l-22-55l-6-56l6-22l30 22l29 56l58 28l58 16l29-44l29-37l23-19l35-11l59-3l58-17l58 11l52-35l6-7l58-21l58 7l34 21l25 9l35-9l-35-42l-8-14l8-28l11-28l47-44l58 44l52-55l-52-42l-58 34l-58-23l-59-2l-46-23l46-55l0-56l0-55l-49-56l49-22l59-24l58 9l58 25l45-43l-45-33l-32-23l-26-56l58-27l13-28l-13-13l-37-43l-21-55l-58 18l-29-18l29-28l31-28l27-17l37-38l-14-56l-23-9l-58 9l13 56l-13 20l-59 3l-58 21l-29 11l-29 56l6 55l-6 10l-58 46l58 28l36 27l22 24l44-24l14-8l15 8l-15 28l-11 28l-47 28l-58-12l-58 0l-26-16l26-56l0-55l-15-56l15-55l-25-56l-1-55l26-28l33-28l25-56l25-55l-25-11l-44 11l-14 18l-58 3l-25-21l-33-28l-59 19l-58-28l-58 22l-58-1l-49-40l-9-5l-15 5l-24 56l-20 9l-11-9l-13-56l-34-22l-39 22l0 56l-19 9l-10-9l-48-42l-25-14l25-16l29-39l29-44l13-12l45-32l58 32l8-55l-8-6l-58-18l-58-8l-39 32l-19 55l-51 56l-7 11l-47 44l-2 56l29 55l-38 41l-30 15l-12 56l-1 55l-16 37l-29-37l0-55l-29-45l-29-11l29-14l25-42l-25-27l-58 22l-58-8l-29 13l14 56l-8 56l23 55l58-22l40 22l-40 31l-58 25l-10 55l-48 56l-49-56l-10-55l-7 55l-40 56l-11 33l-23 22l23 37l10 19l48 20l59-14l58 1l25 49l33 55l-58 14l-32 42l17 55l-22 56l37 55l41 56l17 16l58 2l58 19l17 18l-17 9l-58 47l33 56l-33 30l-39 25l39 45l58 11l59 16l21-16l37-23l29 23l-24 55l43 56zM2780 6531l17-37l-17-10l-58 10zM2140 6445l10-7l-10-27l-5 27zM2838 6448l9-10l-9-11l-5 11zM2897 6411l58-14l13-14l-13-9l-58-39l-35 48zM3304 6355l36-28l-36-39l-15 39zM2024 6318l45-46l13-24l58-32l-58-25l-17 25l-41 28l-42 28zM2315 6272l58-56l29 56l-29 23zM2489 6275l-14-3l14-11l15 11zM2664 6284l-23-12l23-8l58-40l23 48l-23 33zM2257 6262l-19-46l19-28l26 28zM3013 6230l-29-14l29-17l16 17zM2606 6188l-17-28l17-27l26 27zM2897 6160l0-55l58 41l21 14l-21 32zM3071 6172l-13-12l-45-38l-13-17l-5-56l18-25l18 25l40 39l36 17l3 55zM1907 6116l39-11l-39-28l-12 28zM2431 6105l58-17l29 17l-29 32zM2722 6147l-32-42l32-22l58-3l26 25l-26 17zM3478 6119l10-14l-10-8l-29 8zM2547 6086l-27-37l27-21l52 21zM2082 6013l-27-19l27-24l35 24zM2257 5994zM2664 6011l-33-17l33-15l58 7l29 8l-29 5zM3071 6020l-36-26l36-40l32 40zM3246 6006l58 6l43-18l-43-14l-58-42l-59 56zM3362 5966l29-28l-29-7l-6 7zM3537 5946l16-8l-11-55l-5-7l-41-49l-18-28l-14 28l-44 36l-24 20l24 46l58-32l48 41zM2897 5891l-6-8l6-19l58-7l27 26l-27 27zM3071 5910l-21-27l21-56l19 56zM1849 5787l15-15l-15-42l-16 42zM2198 5772zM2606 5778l-13-6l13-7l9 7zM2955 5772zM3537 5723l58 21l14-28l-14-19l-58 8l-12 11zM2024 5660zM2431 5670l-7-10l7-9l7 9zM2780 5694l-14-34l14-16l8 16zM3478 5679l20-19l-20-37l-29 37zM2082 5549zM2722 5559l-19-10l19-28l17 28zM2897 5549zM3537 5601l34-52l-34-36l-51 36zM1733 5512l10-18l-10-5l-5 5zM1849 5517l58-23l-58-20l-29 20zM2431 5494l58-23l8 23l-8 12zM2606 5509l-11-15l11-28l29 28zM3711 5498l5-4l-5-6l-8 6zM1907 5494l20-56l-20-24l-14 24zM2722 5396l-13-13l13-37l58 27l15 10l-15 4zM2897 5383l-59-34l-16-22l16-37l8-19l51-27l27 27l21 56l-48 56zM3071 5410l12-27l-12-14l-12 14zM2489 5355l-21-28l21-37l34 37zM2664 5327zM3129 5346l20-19l-20-11l-23 11zM2838 5129l39-24l-39-15l-19 15zM2140 5061l11-12l-11-9l-39 9zM2257 5057l6-8l-6-11l-6 11zM2780 5055l5-6l-5-8l-29 8zM2838 4945l9-7l-9-37l-58 37zM2955 4959l19-21l-19-15l-13 15zM2373 4851l39-24l-39-15l-29 15z"/>
<path stroke="#a6a6a6" d="M2373 6466l17-28l-17-46l-24 46zM2257 6355l58-23l19-5l-19-8l-58-13l-30 21zM2431 6331l58 38l31-42l-31-31l-58 17l-19 14zM2664 6383l19-56l-19-6l-12 6zM2024 6290l18-18l-18-11l-17 11zM2780 6295l58-1l39-22l12-56l-27-56l-24-44l-58 32l-25 12l15 56l-1 56zM2955 6278l58 6l17-12l-17-14l-58-9l-24 23zM2198 6256l19-40l-19-21l-26 21zM2547 6238l39-22l-16-56l-23-43l-40 43l11 56zM2664 6240l32-24l-32-56l-50 56zM3071 6228l19-12l-19-11l-10 11zM3187 6221l8-5l-8-14l-11 14zM2315 6216l58-56l-44-55l-14-19l-58 3l-30 16l30 37l29 18zM3013 6166l6-6l-6-5l-5 5zM2955 6123l21-18l-3-56l40-55l44-56l-39-55l-5-19l-5 19l-53 55l-39 56l-3 55l15 56zM3246 6126l21-21l-21-10l-59 10zM3362 6123l17-18l-17-14l-22 14zM2082 6080l58-3l29-28l29-16l32-39l-32-36l-45 36l-13 22l-58 17l-26 16zM2431 6077l58-15l11-13l47-37l46-18l13-56l58 24l58-24l58-24l58-4l22-27l-10-56l-12-9l-58-31l-21-15l8-56l-30-56l43-50l23 50l24 56l11 9l37 47l22 23l19-23l27-56l12-14l19-42l-19-20l-27-35l27-18l28-38l-28-51l-38 51l-20 28l-24-28l-35-45l-19-10l10-56l-49-23l-58 0l-32-32l-26-32l-44-24l-14-19l-24 19l-35 56l59 13l58 42l58 39l25 17l27 55l-52 30l-58-30l-58-10l-31-45l-4-56l-24-55l-23 55l-6 56l-29 49l-58-8l-23-41l23-48l15-8l-15-14l-19-41l19-42l5-14l24-56l-29-18l-26 18l-32 26l-58 30l8 56l-8 7l-12-7l-46-32l-17 32l-3 55l20 35l29 21l-29 23l-47 32l30 56l-42 28l-22-28l11-56l-47-55l-23 55l-13 56l36 37l26 18l-2 56l-24 15l-58 13l-11 28l11 18l58 30l23 7l-23 10l-47 46l-11 27l-19 28l19 8l39-8l19-5l58-17l47 22l12 8l43 48l15 28l19-28l39-56l23 56l0 55zM2664 6096l58-36l44-11l-44-16l-58-1l-29 17zM3071 6067l29-18l-29-13l-18 13zM2024 6002l4-8l-4-11l-5 11zM3129 6010l15-16l-15-16l-6 16zM2315 5917l-16-34l16-26l32 26zM2431 5920l-29-37l29-56l58 42l58-14l33 28l-33 18l-58 6zM3129 5899l15-16l-15-16l-9 16zM2722 5827zM2955 5831l19-4l-19-8l-12 8zM2198 5809l-17-37l17-26l50 26zM2373 5787l-29-15l-29-45l-12-11l12-56l29 56l29 11l18 45zM2606 5798l-52-26l52-25l38 25zM3013 5809l58-10l44-27l-44-20l-58 4l-23 16zM3187 5783l22-11l-22-21l-34 21zM3362 5778l6-6l-6-5l-15 5zM1966 5693l31-33l-31-30l-27-25l-32-33l-25 33l25 55zM2082 5674l12-14l-12-9l-8 9zM2431 5697l-29-37l29-37l27 37zM2606 5665l-9-5l9-6l19 6zM2024 5613l10-8l-10-9l-8 9zM3129 5640l58-35l-36-56l-22-55l-17 55l-31 56zM2373 5549zM3246 5586l46-37l-46-21l-36 21zM3537 5577l18-28l-18-19l-28 19zM2082 5502l58-8l-58-4l-8 4zM3187 5503l5-9l54-52l4-4l-4-5l-59 0l-9 5l-49 56zM2897 5473l41-35l-41-25l-49 25zM2024 5405l58-3l47-19l-47-35l-58 10l-9 25zM3304 5405l21-22l-21-37l-26 37zM2664 5279l58 4l58 25l17-37l-17-55l-58 42l-58 2l-12 11zM2955 5287l19-16l-19-8l-8 8zM2315 5253l58-16l16-21l-16-14l-58-23l-20 37zM2897 5220l4-4l-4-4l-10 4zM2373 5110l4-5l-4-8l-7 8zM2431 5012l39-18l-39-8l-10 8z"/>
<path stroke="#c8c8c8" d="M2489 6341l11-14l-11-10l-22 10zM2838 6272l28-56l-28-43l-34 43zM2547 6172l4-12l-4-6l-5 6zM2198 5999l5-5l-5-5l-6 5zM2547 5996l7-2l17-56l-24-15l-46 15l32 56zM2664 5944l14-6l-3-55l-11-28l-15-28l-43-10l-44 10l44 33l38 23l5 55zM2140 5899l58-16l-58-16l-16 16zM2257 5917l24-34l-24-56l-59 56zM2373 5864l23-37l-23-16l-58 16zM2489 5848l50-21l-12-55l20-47l59 3l58-12l-58-20l-59-36l0-55l-58-9l-19 9l9 55l-25 56l-23 22l-13 34l13 18l29 37zM2780 5872l26-45l-26-16l-23 16zM2140 5799l23-27l-23-24l-42 24zM2722 5779l5-7l21-56l-26-40l-58 40l39 56zM2198 5720l20-4l-20-28l-4 28zM1966 5665l4-5l-4-4l-9 4zM2373 5676l7-16l-7-55l-15 55zM2838 5695l47-35l-47-55l-20 55zM1907 5613l5-8l-5-5l-3 5zM2140 5614l9-9l-9-28l-9 28zM2315 5623l58-18l-39-56l-19-28l-35 28l10 56zM2606 5617l58 16l58-6l17-22l-17-7l-58-15l-58 3l-59 19zM2838 5605l12-56l-12-15l-21 15zM2955 5567l12-18l-12-23l-17 23zM3246 5559l11-10l-11-5l-9 5zM3537 5553l2-4l-2-3l-4 3zM2373 5512l12-18l-12-42l-29 42zM2547 5510l7-16l-7-19l-7 19zM2722 5444l29-6l-29-3l-8 3zM2082 5387l12-4l-12-9l-29 9zM2664 5396l6-13l-6-8l-17 8zM3304 5388l5-5l-5-10l-7 10z"/>
<path stroke="#e9e9e9" d="M2838 6224l4-8l-4-6l-4 6zM2257 5891l6-8l-6-14l-15 14zM2140 5778l6-6l-6-6l-10 6zM2489 5827l13-55l-13-28l-29 28zM2722 5732l6-16l-6-10l-15 10zM2838 5669l12-9l-12-14l-5 14z"/>
</g></g>
<g shape-rendering="crispEdges">
<rect x="360.60" y="590.43" width="7.54" height="10.07" fill="#044766"/>
<rect x="367.84" y="576.03" width="7.54" height="24.47" fill="#084f5e"/>
<rect x="375.07" y="554.45" width="7.54" height="46.05" fill="#053d72"/>
<rect x="382.31" y="542.21" width="7.54" height="58.29" fill="#054964"/>
<rect x="389.54" y="519.90" width="7.54" height="80.60" fill="#023d71"/>
<rect x="396.78" y="502.63" width="7.54" height="97.87" fill="#053d72"/>
<rect x="404.02" y="499.04" width="7.54" height="101.46" fill="#02436a"/>
<rect x="411.25" y="476.01" width="7.54" height="124.49" fill="#013d70"/>
<rect x="418.49" y="455.86" width="7.54" height="144.64" fill="#023d71"/>
<rect x="425.73" y="439.31" width="7.54" height="161.19" fill="#043d72"/>
<rect x="432.96" y="427.80" width="7.54" height="172.70" fill="#01406d"/>
<rect x="440.20" y="419.88" width="7.54" height="180.62" fill="#03436a"/>
<rect x="447.43" y="406.21" width="7.54" height="194.29" fill="#013d71"/>
<rect x="454.67" y="396.85" width="7.54" height="203.65" fill="#003d70"/>
<rect x="461.91" y="371.67" width="7.54" height="228.83" fill="#003e6f"/>
<rect x="469.14" y="329.93" width="7.54" height="270.57" fill="#053d72"/>
<rect x="476.38" y="331.37" width="7.54" height="269.13" fill="#01406d"/>
<rect x="483.62" y="322.73" width="7.54" height="277.77" fill="#013d70"/>
<rect x="490.85" y="322.73" width="7.54" height="277.77" fill="#013f6e"/>
<rect x="498.09" y="316.26" width="7.54" height="284.24" fill="#034469"/>
<rect x="505.32" y="285.32" width="7.54" height="315.18" fill="#003d70"/>
<rect x="512.56" y="281.72" width="7.54" height="318.78" fill="#013e6f"/>
<rect x="519.80" y="276.68" width="7.54" height="323.82" fill="#023d71"/>
<rect x="527.03" y="255.81" width="7.54" height="344.69" fill="#003e6f"/>
<rect x="534.27" y="250.77" width="7.54" height="349.73" fill="#043d72"/>
<rect x="541.50" y="237.10" width="7.54" height="363.40" fill="#013f6e"/>
<rect x="548.74" y="224.87" width="7.54" height="375.63" fill="#003d70"/>
<rect x="555.98" y="263.73" width="7.54" height="336.77" fill="#02416c"/>
<rect x="563.21" y="232.06" width="7.54" height="368.44" fill="#013f6e"/>
<rect x="570.45" y="201.12" width="7.54" height="399.38" fill="#01406d"/>
<rect x="577.69" y="194.65" width="7.54" height="405.85" fill="#003d70"/>
<rect x="584.92" y="214.07" width="7.54" height="386.43" fill="#003d70"/>
<rect x="592.16" y="184.57" width="7.54" height="415.93" fill="#053c72"/>
<rect x="599.39" y="163.70" width="7.54" height="436.80" fill="#013d70"/>
<rect x="606.63" y="196.08" width="7.54" height="404.42" fill="#003e6f"/>
<rect x="613.87" y="206.16" width="7.54" height="394.34" fill="#003e6f"/>
<rect x="621.10" y="214.07" width="7.54" height="386.43" fill="#003e6f"/>
<rect x="628.34" y="180.25" width="7.54" height="420.25" fill="#013d70"/>
<rect x="635.57" y="182.41" width="7.54" height="418.09" fill="#03436a"/>
<rect x="642.81" y="199.68" width="7.54" height="400.82" fill="#003d70"/>
<rect x="650.05" y="215.51" width="7.54" height="384.99" fill="#003d70"/>
<rect x="657.28" y="206.16" width="7.54" height="394.34" fill="#043d71"/>
<rect x="664.52" y="202.56" width="7.54" height="397.94" fill="#043d71"/>
<rect x="671.76" y="204.00" width="7.54" height="396.50" fill="#003d70"/>
<rect x="678.99" y="211.92" width="7.54" height="388.58" fill="#013f6e"/>
<rect x="686.23" y="209.76" width="7.54" height="390.74" fill="#003d70"/>
<rect x="693.46" y="209.76" width="7.54" height="390.74" fill="#003d70"/>
<rect x="700.70" y="209.76" width="7.54" height="390.74" fill="#013e6f"/>
<rect x="707.94" y="206.16" width="7.54" height="394.34" fill="#033d71"/>
<rect x="715.17" y="196.08" width="7.54" height="404.42" fill="#003d70"/>
<rect x="722.41" y="205.44" width="7.54" height="395.06" fill="#033d71"/>
<rect x="729.65" y="233.50" width="7.54" height="367.00" fill="#013e6f"/>
<rect x="736.88" y="229.19" width="7.54" height="371.31" fill="#003d70"/>
<rect x="744.12" y="209.76" width="7.54" height="390.74" fill="#013d70"/>
<rect x="751.35" y="229.19" width="7.54" height="371.31" fill="#023d71"/>
<rect x="758.59" y="232.06" width="7.54" height="368.44" fill="#023d71"/>
<rect x="765.83" y="251.49" width="7.54" height="349.01" fill="#033d71"/>
<rect x="773.06" y="264.45" width="7.54" height="336.05" fill="#013d70"/>
<rect x="780.30" y="246.46" width="7.54" height="354.04" fill="#053d72"/>
<rect x="787.53" y="268.04" width="7.54" height="332.46" fill="#033d71"/>
<rect x="794.77" y="269.48" width="7.54" height="331.02" fill="#023d71"/>
<rect x="802.01" y="267.33" width="7.54" height="333.17" fill="#013e6f"/>
<rect x="809.24" y="291.79" width="7.54" height="308.71" fill="#043d72"/>
<rect x="816.48" y="290.35" width="7.54" height="310.15" fill="#01406d"/>
<rect x="823.72" y="301.87" width="7.54" height="298.63" fill="#013e6f"/>
<rect x="830.95" y="301.15" width="7.54" height="299.35" fill="#003e6f"/>
<rect x="838.19" y="311.94" width="7.54" height="288.56" fill="#033d71"/>
<rect x="845.42" y="323.45" width="7.54" height="277.05" fill="#033d71"/>
<rect x="852.66" y="314.82" width="7.54" height="285.68" fill="#003d70"/>
<rect x="859.90" y="358.71" width="7.54" height="241.79" fill="#043d72"/>
<rect x="867.13" y="338.57" width="7.54" height="261.93" fill="#003d70"/>
<rect x="874.37" y="340.72" width="7.54" height="259.78" fill="#053d72"/>
<rect x="881.61" y="347.92" width="7.54" height="252.58" fill="#013f6e"/>
<rect x="888.84" y="332.09" width="7.54" height="268.41" fill="#003e6f"/>
<rect x="896.08" y="363.75" width="7.54" height="236.75" fill="#013e6f"/>
<rect x="903.31" y="386.06" width="7.54" height="214.44" fill="#01406d"/>
<rect x="910.55" y="345.76" width="7.54" height="254.74" fill="#043d72"/>
<rect x="917.79" y="374.55" width="7.54" height="225.95" fill="#033d71"/>
<rect x="925.02" y="418.44" width="7.54" height="182.06" fill="#013f6e"/>
<rect x="932.26" y="400.45" width="7.54" height="200.05" fill="#043d71"/>
<rect x="939.49" y="407.65" width="7.54" height="192.85" fill="#02416c"/>
<rect x="946.73" y="427.80" width="7.54" height="172.70" fill="#003e6f"/>
<rect x="953.97" y="415.56" width="7.54" height="184.94" fill="#02416c"/>
<rect x="961.20" y="445.79" width="7.54" height="154.71" fill="#02416c"/>
<rect x="968.44" y="430.67" width="7.54" height="169.83" fill="#053d72"/>
<rect x="975.68" y="446.51" width="7.54" height="153.99" fill="#013f6e"/>
<rect x="982.91" y="427.80" width="7.54" height="172.70" fill="#003d70"/>
<rect x="990.15" y="435.71" width="7.54" height="164.79" fill="#003e6f"/>
<rect x="997.38" y="451.54" width="7.54" height="148.96" fill="#013d70"/>
<rect x="1004.62" y="450.82" width="7.54" height="149.68" fill="#01406d"/>
<rect x="1011.86" y="450.10" width="7.54" height="150.40" fill="#013f6e"/>
<rect x="1019.09" y="441.47" width="7.54" height="159.03" fill="#043d71"/>
<rect x="1026.33" y="468.81" width="7.54" height="131.69" fill="#063c72"/>
<rect x="1033.56" y="484.64" width="7.54" height="115.86" fill="#093c73"/>
<rect x="1040.80" y="481.77" width="7.54" height="118.73" fill="#063c72"/>
<rect x="1048.04" y="481.77" width="7.54" height="118.73" fill="#003e6f"/>
<rect x="1055.27" y="487.52" width="7.54" height="112.98" fill="#023d71"/>
<rect x="1062.51" y="489.68" width="7.54" height="110.82" fill="#02426b"/>
<rect x="1069.75" y="483.92" width="7.54" height="116.58" fill="#033d71"/>
<rect x="1076.98" y="487.52" width="7.54" height="112.98" fill="#033d71"/>
<rect x="1084.22" y="504.79" width="7.54" height="95.71" fill="#013f6e"/>
<rect x="1091.45" y="516.31" width="7.54" height="84.19" fill="#063c72"/>
<rect x="1098.69" y="502.63" width="7.54" height="97.87" fill="#083c73"/>
<rect x="1105.93" y="505.51" width="7.54" height="94.99" fill="#043d72"/>
<rect x="1113.16" y="504.79" width="7.54" height="95.71" fill="#02416c"/>
<rect x="1120.40" y="511.27" width="7.54" height="89.23" fill="#033d71"/>
<rect x="1127.64" y="507.67" width="7.54" height="92.83" fill="#023d71"/>
<rect x="1134.87" y="525.66" width="7.54" height="74.84" fill="#023d71"/>
<rect x="1142.11" y="512.71" width="7.54" height="87.79" fill="#02416c"/>
<rect x="1149.34" y="527.82" width="7.54" height="72.68" fill="#003e6f"/>
<rect x="1156.58" y="542.93" width="7.54" height="57.57" fill="#033d71"/>
<rect x="1163.82" y="540.77" width="7.54" height="59.73" fill="#023d71"/>
<rect x="1171.05" y="543.65" width="7.54" height="56.85" fill="#053c72"/>
<rect x="1178.29" y="546.53" width="7.54" height="53.97" fill="#043d72"/>
<rect x="1185.52" y="537.89" width="7.54" height="62.61" fill="#053c72"/>
<rect x="1192.76" y="544.37" width="7.54" height="56.13" fill="#02426b"/>
<rect x="1200.00" y="550.85" width="7.54" height="49.65" fill="#093c74"/>
<rect x="1207.23" y="548.69" width="7.54" height="51.81" fill="#043d72"/>
<rect x="1214.47" y="548.69" width="7.54" height="51.81" fill="#0d3c75"/>
<rect x="1221.71" y="547.25" width="7.54" height="53.25" fill="#043d72"/>
<rect x="1228.94" y="559.48" width="7.54" height="41.02" fill="#033d71"/>
<rect x="1236.18" y="571.72" width="7.54" height="28.78" fill="#023d71"/>
<rect x="1243.41" y="558.76" width="7.54" height="41.74" fill="#003d70"/>
<rect x="1250.65" y="559.48" width="7.54" height="41.02" fill="#043d72"/>
<rect x="1257.89" y="573.87" width="7.54" height="26.63" fill="#013d71"/>
<rect x="1265.12" y="571.72" width="7.54" height="28.78" fill="#003d70"/>
<rect x="1272.36" y="574.59" width="7.54" height="25.91" fill="#1a3a7b"/>
<rect x="1279.59" y="575.31" width="7.54" height="25.19" fill="#153b79"/>
<rect x="1286.83" y="580.35" width="7.54" height="20.15" fill="#093c74"/>
<rect x="1294.07" y="575.31" width="7.54" height="25.19" fill="#023d71"/>
<rect x="1301.30" y="582.51" width="7.54" height="17.99" fill="#013d70"/>
<rect x="1308.54" y="581.79" width="7.54" height="18.71" fill="#03436a"/>
<rect x="1315.78" y="579.63" width="7.54" height="20.87" fill="#143b78"/>
<rect x="1323.01" y="581.79" width="7.54" height="18.71" fill="#0c3c75"/>
<rect x="1330.25" y="585.39" width="7.54" height="15.11" fill="#073c73"/>
<rect x="1337.48" y="581.79" width="7.54" height="18.71" fill="#173b79"/>
<rect x="1344.72" y="584.67" width="7.54" height="15.83" fill="#0b3c75"/>
<rect x="1351.96" y="589.71" width="7.54" height="10.79" fill="#233a7e"/>
<rect x="1359.19" y="589.71" width="7.54" height="10.79" fill="#0e3c76"/>
<rect x="1366.43" y="587.55" width="7.54" height="12.95" fill="#103b77"/>
<rect x="1373.67" y="589.71" width="7.54" height="10.79" fill="#163b79"/>
<rect x="1380.90" y="589.71" width="7.54" height="10.79" fill="#193b7a"/>
<rect x="1388.14" y="593.30" width="7.54" height="7.20" fill="#1c3a7b"/>
<rect x="1395.37" y="595.46" width="7.54" height="5.04" fill="#1e3a7c"/>
<rect x="1402.61" y="592.58" width="7.54" height="7.92" fill="#193b7a"/>
<rect x="1409.85" y="591.86" width="7.54" height="8.64" fill="#113b77"/>
<rect x="1417.08" y="595.46" width="7.54" height="5.04" fill="#0f3b76"/>
<rect x="1424.32" y="592.58" width="7.54" height="7.92" fill="#123b77"/>
<rect x="1431.55" y="592.58" width="7.54" height="7.92" fill="#1e3a7c"/>
<rect x="1438.79" y="595.46" width="7.54" height="5.04" fill="#083c73"/>
<rect x="1446.03" y="594.74" width="7.54" height="5.76" fill="#0b3c75"/>
<rect x="1453.26" y="599.06" width="7.54" height="1.44" fill="#043d72"/>
<rect x="1460.50" y="597.62" width="7.54" height="2.88" fill="#233a7e"/>
<rect x="1467.74" y="597.62" width="7.54" height="2.88" fill="#1a3a7a"/>
<rect x="1474.97" y="596.90" width="7.54" height="3.60" fill="#123b77"/>
<rect x="1482.21" y="597.62" width="7.54" height="2.88" fill="#083c73"/>
<rect x="1496.68" y="599.06" width="7.54" height="1.44" fill="#3a3787"/>
<rect x="1503.92" y="595.46" width="7.54" height="5.04" fill="#123b77"/>
<rect x="1511.15" y="599.78" width="7.54" height="0.72" fill="#074e5f"/>
<rect x="1518.39" y="599.78" width="7.54" height="0.72" fill="#013d71"/>
<rect x="1525.63" y="599.78" width="7.54" height="0.72" fill="#063c72"/>
<rect x="1532.86" y="595.46" width="7.54" height="5.04" fill="#063c73"/>
<rect x="1540.10" y="599.06" width="7.54" height="1.44" fill="#053d72"/>
<rect x="1547.33" y="599.06" width="7.54" height="1.44" fill="#203a7d"/>
<rect x="1554.57" y="599.78" width="7.54" height="0.72" fill="#0b3c74"/>
<rect x="1561.81" y="599.78" width="7.54" height="0.72" fill="#183b7a"/>
<rect x="1569.04" y="599.78" width="7.54" height="0.72" fill="#003e6f"/>
<rect x="1576.28" y="599.78" width="7.54" height="0.72" fill="#363886"/>
<rect x="1583.51" y="599.06" width="7.54" height="1.44" fill="#073c73"/>
<rect x="1590.75" y="599.78" width="7.54" height="0.72" fill="#0d3c75"/>
<rect x="1597.99" y="599.78" width="7.54" height="0.72" fill="#013f6e"/>
<rect x="1605.22" y="599.78" width="7.54" height="0.72" fill="#41378a"/>
<rect x="1612.46" y="599.78" width="7.54" height="0.72" fill="#053d72"/>
<rect x="1626.93" y="599.06" width="7.54" height="1.44" fill="#123b77"/>
<rect x="1634.17" y="599.78" width="7.54" height="0.72" fill="#053c72"/>
<rect x="1641.40" y="599.78" width="7.54" height="0.72" fill="#063c72"/>
<rect x="1648.64" y="599.78" width="7.54" height="0.72" fill="#0b3c74"/>
<rect x="1663.11" y="599.78" width="7.54" height="0.72" fill="#013f6e"/>
<rect x="1670.35" y="599.06" width="7.54" height="1.44" fill="#073c73"/>
<rect x="1677.58" y="599.78" width="7.54" height="0.72" fill="#083c73"/>
<rect x="1692.06" y="599.78" width="7.54" height="0.72" fill="#063c72"/>
<rect x="1713.77" y="599.78" width="7.54" height="0.72" fill="#0c3c75"/>
<rect x="1735.47" y="599.78" width="7.54" height="0.72" fill="#093c74"/>
<rect x="1757.18" y="599.78" width="7.54" height="0.72" fill="#123b77"/>
<rect x="1793.36" y="599.78" width="7.54" height="0.72" fill="#064b62"/>
<rect x="1920" y="720.50" width="0.85" height="7.21" fill="#1d802d"/>
<rect x="1920" y="782.70" width="0.85" height="7.21" fill="#0c3c75"/>
<rect x="1920" y="789.61" width="0.85" height="7.21" fill="#073c73"/>
<rect x="1920" y="803.43" width="0.85" height="7.21" fill="#1e822b"/>
<rect x="1920" y="810.34" width="0.85" height="7.21" fill="#17713c"/>
<rect x="1920" y="824.17" width="0.85" height="7.21" fill="#1f832a"/>
<rect x="1920" y="831.08" width="0.85" height="7.21" fill="#1c7d30"/>
<rect x="1920" y="837.99" width="1.70" height="7.21" fill="#0c3c75"/>
<rect x="1920" y="844.90" width="0.85" height="7.21" fill="#1a7835"/>
<rect x="1920" y="851.81" width="0.85" height="7.21" fill="#1f8528"/>
<rect x="1920" y="858.72" width="0.85" height="7.21" fill="#0d3c75"/>
<rect x="1920" y="865.63" width="1.70" height="7.21" fill="#1d7f2e"/>
<rect x="1920" y="872.54" width="1.70" height="7.21" fill="#1f8429"/>
<rect x="1920" y="879.45" width="2.56" height="7.21" fill="#0f3c76"/>
<rect x="1920" y="886.37" width="7.67" height="7.21" fill="#0b5756"/>
<rect x="1920" y="893.28" width="0.85" height="7.21" fill="#1e812c"/>
<rect x="1920" y="900.19" width="9.37" height="7.21" fill="#0f5f4e"/>
<rect x="1920" y="907.10" width="4.26" height="7.21" fill="#044667"/>
<rect x="1920" y="914.01" width="2.56" height="7.21" fill="#136944"/>
<rect x="1920" y="920.92" width="2.56" height="7.21" fill="#074d60"/>
<rect x="1920" y="927.83" width="5.96" height="7.21" fill="#126548"/>
<rect x="1920" y="934.74" width="5.11" height="7.21" fill="#0f604d"/>
<rect x="1920" y="941.65" width="16.19" height="7.21" fill="#0d5b52"/>
<rect x="1920" y="948.56" width="13.63" height="7.21" fill="#054865"/>
<rect x="1920" y="955.48" width="15.34" height="7.21" fill="#09515c"/>
<rect x="1920" y="962.39" width="28.12" height="7.21" fill="#03436a"/>
<rect x="1920" y="969.30" width="17.04" height="7.21" fill="#044568"/>
<rect x="1920" y="976.21" width="20.45" height="7.21" fill="#054865"/>
<rect x="1920" y="983.12" width="27.26" height="7.21" fill="#01406d"/>
<rect x="1920" y="990.03" width="28.12" height="7.21" fill="#043d71"/>
<rect x="1920" y="996.94" width="34.93" height="7.21" fill="#0d3c75"/>
<rect x="1920" y="1003.85" width="37.49" height="7.21" fill="#043d72"/>
<rect x="1920" y="1010.76" width="49.42" height="7.21" fill="#01406d"/>
<rect x="1920" y="1017.68" width="47.71" height="7.21" fill="#02416c"/>
<rect x="1920" y="1024.59" width="45.16" height="7.21" fill="#063c72"/>
<rect x="1920" y="1031.50" width="56.23" height="7.21" fill="#013f6e"/>
<rect x="1920" y="1038.41" width="67.31" height="7.21" fill="#013e6f"/>
<rect x="1920" y="1045.32" width="76.68" height="7.21" fill="#013f6e"/>
<rect x="1920" y="1052.23" width="73.27" height="7.21" fill="#023d71"/>
<rect x="1920" y="1059.14" width="98.83" height="7.21" fill="#033d71"/>
<rect x="1920" y="1066.05" width="86.90" height="7.21" fill="#003d70"/>
<rect x="1920" y="1072.96" width="102.24" height="7.21" fill="#043d72"/>
<rect x="1920" y="1079.87" width="115.87" height="7.21" fill="#013d70"/>
<rect x="1920" y="1086.79" width="103.09" height="7.21" fill="#0a3c74"/>
<rect x="1920" y="1093.70" width="106.50" height="7.21" fill="#0b3c74"/>
<rect x="1920" y="1100.61" width="128.65" height="7.21" fill="#003d70"/>
<rect x="1920" y="1107.52" width="123.54" height="7.21" fill="#013f6e"/>
<rect x="1920" y="1114.43" width="135.47" height="7.21" fill="#003e6f"/>
<rect x="1920" y="1121.34" width="149.95" height="7.21" fill="#01406d"/>
<rect x="1920" y="1128.25" width="199.37" height="7.21" fill="#013e6f"/>
<rect x="1920" y="1135.16" width="158.47" height="7.21" fill="#073c73"/>
<rect x="1920" y="1142.07" width="179.77" height="7.21" fill="#003d70"/>
<rect x="1920" y="1148.99" width="190.85" height="7.21" fill="#053d72"/>
<rect x="1920" y="1155.90" width="167.84" height="7.21" fill="#02416c"/>
<rect x="1920" y="1162.81" width="175.51" height="7.21" fill="#053d72"/>
<rect x="1920" y="1169.72" width="213.00" height="7.21" fill="#003d70"/>
<rect x="1920" y="1176.63" width="213.00" height="7.21" fill="#053d72"/>
<rect x="1920" y="1183.54" width="201.92" height="7.21" fill="#043d72"/>
<rect x="1920" y="1190.45" width="244.52" height="7.21" fill="#043d71"/>
<rect x="1920" y="1197.36" width="213.00" height="7.21" fill="#033d71"/>
<rect x="1920" y="1204.27" width="251.34" height="7.21" fill="#023d71"/>
<rect x="1920" y="1211.18" width="227.48" height="7.21" fill="#02436a"/>
<rect x="1920" y="1218.10" width="254.75" height="7.21" fill="#063c72"/>
<rect x="1920" y="1225.01" width="259.86" height="7.21" fill="#023d71"/>
<rect x="1920" y="1231.92" width="288.83" height="7.21" fill="#023d71"/>
<rect x="1920" y="1238.83" width="275.20" height="7.21" fill="#003d70"/>
<rect x="1920" y="1245.74" width="296.50" height="7.21" fill="#003d70"/>
<rect x="1920" y="1252.65" width="299.90" height="7.21" fill="#063c72"/>
<rect x="1920" y="1259.56" width="287.98" height="7.21" fill="#003d70"/>
<rect x="1920" y="1266.47" width="318.65" height="7.21" fill="#003e6f"/>
<rect x="1920" y="1273.38" width="310.13" height="7.21" fill="#02406d"/>
<rect x="1920" y="1280.30" width="330.58" height="7.21" fill="#003d70"/>
<rect x="1920" y="1287.21" width="336.54" height="7.21" fill="#003d70"/>
<rect x="1920" y="1294.12" width="367.21" height="7.21" fill="#003d70"/>
<rect x="1920" y="1301.03" width="406.40" height="7.21" fill="#003d70"/>
<rect x="1920" y="1307.94" width="386.81" height="7.21" fill="#043d72"/>
<rect x="1920" y="1314.85" width="385.96" height="7.21" fill="#01406d"/>
<rect x="1920" y="1321.76" width="435.37" height="7.21" fill="#053c72"/>
<rect x="1920" y="1328.67" width="384.25" height="7.21" fill="#033d71"/>
<rect x="1920" y="1335.58" width="422.59" height="7.21" fill="#023d71"/>
<rect x="1920" y="1342.49" width="440.48" height="7.21" fill="#003d70"/>
<rect x="1920" y="1349.41" width="443.89" height="7.21" fill="#02416c"/>
<rect x="1920" y="1356.32" width="450.71" height="7.21" fill="#003d70"/>
<rect x="1920" y="1363.23" width="450.71" height="7.21" fill="#023d71"/>
<rect x="1920" y="1370.14" width="493.31" height="7.21" fill="#003e6f"/>
<rect x="1920" y="1377.05" width="448.15" height="7.21" fill="#013f6e"/>
<rect x="1920" y="1383.96" width="508.64" height="7.21" fill="#013d70"/>
<rect x="1920" y="1390.87" width="517.16" height="7.21" fill="#073c73"/>
<rect x="1920" y="1397.78" width="512.05" height="7.21" fill="#003d70"/>
<rect x="1920" y="1404.69" width="481.38" height="7.21" fill="#003d70"/>
<rect x="1920" y="1411.61" width="487.34" height="7.21" fill="#033d71"/>
<rect x="1920" y="1418.52" width="501.83" height="7.21" fill="#003d70"/>
<rect x="1920" y="1425.43" width="478.82" height="7.21" fill="#02416c"/>
<rect x="1920" y="1432.34" width="500.12" height="7.21" fill="#003e6f"/>
<rect x="1920" y="1439.25" width="514.61" height="7.21" fill="#01406d"/>
<rect x="1920" y="1446.16" width="463.49" height="7.21" fill="#003d70"/>
<rect x="1920" y="1453.07" width="474.56" height="7.21" fill="#033d71"/>
<rect x="1920" y="1459.98" width="500.12" height="7.21" fill="#034469"/>
<rect x="1920" y="1466.89" width="475.42" height="7.21" fill="#003d70"/>
<rect x="1920" y="1473.81" width="475.42" height="7.21" fill="#01406d"/>
<rect x="1920" y="1480.72" width="440.48" height="7.21" fill="#013d70"/>
<rect x="1920" y="1487.63" width="460.08" height="7.21" fill="#023d71"/>
<rect x="1920" y="1494.54" width="436.22" height="7.21" fill="#003e6f"/>
<rect x="1920" y="1501.45" width="450.71" height="7.21" fill="#01406d"/>
<rect x="1920" y="1508.36" width="452.41" height="7.21" fill="#013f6e"/>
<rect x="1920" y="1515.27" width="440.48" height="7.21" fill="#033d71"/>
<rect x="1920" y="1522.18" width="430.26" height="7.21" fill="#003d70"/>
<rect x="1920" y="1529.09" width="440.48" height="7.21" fill="#003d70"/>
<rect x="1920" y="1536.00" width="440.48" height="7.21" fill="#01406d"/>
<rect x="1920" y="1542.92" width="431.96" height="7.21" fill="#013f6e"/>
<rect x="1920" y="1549.83" width="417.48" height="7.21" fill="#013d70"/>
<rect x="1920" y="1556.74" width="424.30" height="7.21" fill="#003d70"/>
<rect x="1920" y="1563.65" width="412.37" height="7.21" fill="#003d70"/>
<rect x="1920" y="1570.56" width="420.89" height="7.21" fill="#02426b"/>
<rect x="1920" y="1577.47" width="383.40" height="7.21" fill="#003d70"/>
<rect x="1920" y="1584.38" width="377.44" height="7.21" fill="#013d71"/>
<rect x="1920" y="1591.29" width="351.88" height="7.21" fill="#003d70"/>
<rect x="1920" y="1598.20" width="359.54" height="7.21" fill="#003e6f"/>
<rect x="1920" y="1605.12" width="337.39" height="7.21" fill="#013d70"/>
<rect x="1920" y="1612.03" width="322.06" height="7.21" fill="#003e6f"/>
<rect x="1920" y="1618.94" width="319.50" height="7.21" fill="#003d70"/>
<rect x="1920" y="1625.85" width="290.53" height="7.21" fill="#063c73"/>
<rect x="1920" y="1632.76" width="301.61" height="7.21" fill="#003e6f"/>
<rect x="1920" y="1639.67" width="277.75" height="7.21" fill="#003e6f"/>
<rect x="1920" y="1646.58" width="255.60" height="7.21" fill="#003d70"/>
<rect x="1920" y="1653.49" width="250.49" height="7.21" fill="#023d71"/>
<rect x="1920" y="1660.40" width="249.64" height="7.21" fill="#053c72"/>
<rect x="1920" y="1667.31" width="238.56" height="7.21" fill="#01406d"/>
<rect x="1920" y="1674.23" width="209.59" height="7.21" fill="#013d71"/>
<rect x="1920" y="1681.14" width="195.96" height="7.21" fill="#063c73"/>
<rect x="1920" y="1688.05" width="190.00" height="7.21" fill="#013d70"/>
<rect x="1920" y="1694.96" width="212.15" height="7.21" fill="#003d70"/>
<rect x="1920" y="1701.87" width="192.55" height="7.21" fill="#003e6f"/>
<rect x="1920" y="1708.78" width="181.48" height="7.21" fill="#003e6f"/>
<rect x="1920" y="1715.69" width="135.47" height="7.21" fill="#03436a"/>
<rect x="1920" y="1722.60" width="149.10" height="7.21" fill="#01406d"/>
<rect x="1920" y="1729.51" width="128.65" height="7.21" fill="#003d70"/>
<rect x="1920" y="1736.43" width="135.47" height="7.21" fill="#013d70"/>
<rect x="1920" y="1743.34" width="103.94" height="7.21" fill="#023d71"/>
<rect x="1920" y="1750.25" width="124.39" height="7.21" fill="#053d72"/>
<rect x="1920" y="1757.16" width="97.13" height="7.21" fill="#013e6f"/>
<rect x="1920" y="1764.07" width="94.57" height="7.21" fill="#02426b"/>
<rect x="1920" y="1770.98" width="103.94" height="7.21" fill="#003e6f"/>
<rect x="1920" y="1777.89" width="79.24" height="7.21" fill="#013d70"/>
<rect x="1920" y="1784.80" width="76.68" height="7.21" fill="#093c74"/>
<rect x="1920" y="1791.71" width="65.60" height="7.21" fill="#0a3c74"/>
<rect x="1920" y="1798.62" width="69.01" height="7.21" fill="#01406d"/>
<rect x="1920" y="1805.54" width="73.27" height="7.21" fill="#093c74"/>
<rect x="1920" y="1812.45" width="56.23" height="7.21" fill="#013d70"/>
<rect x="1920" y="1819.36" width="66.46" height="7.21" fill="#01406d"/>
<rect x="1920" y="1826.27" width="60.49" height="7.21" fill="#02416c"/>
<rect x="1920" y="1833.18" width="42.60" height="7.21" fill="#0e3c76"/>
<rect x="1920" y="1840.09" width="34.93" height="7.21" fill="#0e3c76"/>
<rect x="1920" y="1847.00" width="33.23" height="7.21" fill="#083c73"/>
<rect x="1920" y="1853.91" width="30.67" height="7.21" fill="#043d72"/>
<rect x="1920" y="1860.82" width="28.97" height="7.21" fill="#0b3c74"/>
<rect x="1920" y="1867.74" width="30.67" height="7.21" fill="#133b77"/>
<rect x="1920" y="1874.65" width="32.38" height="7.21" fill="#043d71"/>
<rect x="1920" y="1881.56" width="25.56" height="7.21" fill="#213a7d"/>
<rect x="1920" y="1888.47" width="21.30" height="7.21" fill="#143b78"/>
<rect x="1920" y="1895.38" width="21.30" height="7.21" fill="#173b79"/>
<rect x="1920" y="1902.29" width="17.89" height="7.21" fill="#043d72"/>
<rect x="1920" y="1909.20" width="14.48" height="7.21" fill="#333884"/>
<rect x="1920" y="1916.11" width="11.93" height="7.21" fill="#063c72"/>
<rect x="1920" y="1923.02" width="22.15" height="7.21" fill="#1d3a7c"/>
<rect x="1920" y="1929.93" width="12.78" height="7.21" fill="#113b77"/>
<rect x="1920" y="1936.85" width="14.48" height="7.21" fill="#303883"/>
<rect x="1920" y="1943.76" width="14.48" height="7.21" fill="#223a7e"/>
<rect x="1920" y="1950.67" width="9.37" height="7.21" fill="#3a3787"/>
<rect x="1920" y="1957.58" width="8.52" height="7.21" fill="#49368d"/>
<rect x="1920" y="1964.49" width="8.52" height="7.21" fill="#3c3788"/>
<rect x="1920" y="1971.40" width="11.08" height="7.21" fill="#353885"/>
<rect x="1920" y="1978.31" width="4.26" height="7.21" fill="#1d3a7c"/>
<rect x="1920" y="1985.22" width="9.37" height="7.21" fill="#2c3982"/>
<rect x="1920" y="1992.13" width="2.56" height="7.21" fill="#4a368e"/>
<rect x="1920" y="1999.05" width="5.11" height="7.21" fill="#45368c"/>
<rect x="1920" y="2005.96" width="7.67" height="7.21" fill="#383787"/>
<rect x="1920" y="2012.87" width="7.67" height="7.21" fill="#45368c"/>
<rect x="1920" y="2019.78" width="5.11" height="7.21" fill="#293980"/>
<rect x="1920" y="2026.69" width="1.70" height="7.21" fill="#02436a"/>
<rect x="1920" y="2033.60" width="2.56" height="7.21" fill="#43368b"/>
<rect x="1920" y="2040.51" width="1.70" height="7.21" fill="#46368c"/>
<rect x="1920" y="2047.42" width="1.70" height="7.21" fill="#513590"/>
<rect x="1920" y="2054.33" width="1.70" height="7.21" fill="#533591"/>
<rect x="1920" y="2061.24" width="2.56" height="7.21" fill="#513590"/>
<rect x="1920" y="2068.16" width="1.70" height="7.21" fill="#273980"/>
<rect x="1920" y="2075.07" width="1.70" height="7.21" fill="#1f3a7d"/>
<rect x="1920" y="2081.98" width="1.70" height="7.21" fill="#0d3c75"/>
<rect x="1920" y="2088.89" width="2.56" height="7.21" fill="#223a7e"/>
</g>
<rect x="2610" y="720" width="150" height="1440" fill="url(#cg)"/>
<path d="M359.80 600.00V566.70M359.80 120.00V153.30M797.10 600.00V566.70M797.10 120.00V153.30M1234.40 600.00V566.70M1234.40 120.00V153.30M1671.70 600.00V566.70M1671.70 120.00V153.30M447.26 600.00V583.30M447.26 120.00V136.70M534.72 600.00V583.30M534.72 120.00V136.70M622.18 600.00V583.30M622.18 120.00V136.70M709.64 600.00V583.30M709.64 120.00V136.70M884.56 600.00V583.30M884.56 120.00V136.70M972.02 600.00V583.30M972.02 120.00V136.70M1059.48 600.00V583.30M1059.48 120.00V136.70M1146.94 600.00V583.30M1146.94 120.00V136.70M1321.86 600.00V583.30M1321.86 120.00V136.70M1409.32 600.00V583.30M1409.32 120.00V136.70M1496.78 600.00V583.30M1496.78 120.00V136.70M1584.24 600.00V583.30M1584.24 120.00V136.70M1759.16 600.00V583.30M1759.16 120.00V136.70M359.80 2160.00V2126.70M359.80 720.00V753.30M797.10 2160.00V2126.70M797.10 720.00V753.30M1234.40 2160.00V2126.70M1234.40 720.00V753.30M1671.70 2160.00V2126.70M1671.70 720.00V753.30M447.26 2160.00V2143.30M447.26 720.00V736.70M534.72 2160.00V2143.30M534.72 720.00V736.70M622.18 2160.00V2143.30M622.18 720.00V736.70M709.64 2160.00V2143.30M709.64 720.00V736.70M884.56 2160.00V2143.30M884.56 720.00V736.70M972.02 2160.00V2143.30M972.02 720.00V736.70M1059.48 2160.00V2143.30M1059.48 720.00V736.70M1146.94 2160.00V2143.30M1146.94 720.00V736.70M1321.86 2160.00V2143.30M1321.86 720.00V736.70M1409.32 2160.00V2143.30M1409.32 720.00V736.70M1496.78 2160.00V2143.30M1496.78 720.00V736.70M1584.24 2160.00V2143.30M1584.24 720.00V736.70M1759.16 2160.00V2143.30M1759.16 720.00V736.70M360.00 600.50H393.30M1800.00 600.50H1766.70M360.00 240.70H393.30M1800.00 240.70H1766.70M360.00 528.54H376.70M1800.00 528.54H1783.30M360.00 456.58H376.70M1800.00 456.58H1783.30M360.00 384.62H376.70M1800.00 384.62H1783.30M360.00 312.66H376.70M1800.00 312.66H1783.30M360.00 168.74H376.70M1800.00 168.74H1783.30M360.00 2013.60H393.30M1800.00 2013.60H1766.70M360.00 1726.80H393.30M1800.00 1726.80H1766.70M360.00 1440.00H393.30M1800.00 1440.00H1766.70M360.00 1153.20H393.30M1800.00 1153.20H1766.70M360.00 866.40H393.30M1800.00 866.40H1766.70M360.00 2157.00H376.70M1800.00 2157.00H1783.30M360.00 2085.30H376.70M1800.00 2085.30H1783.30M360.00 1941.90H376.70M1800.00 1941.90H1783.30M360.00 1870.20H376.70M1800.00 1870.20H1783.30M360.00 1798.50H376.70M1800.00 1798.50H1783.30M360.00 1655.10H376.70M1800.00 1655.10H1783.30M360.00 1583.40H376.70M1800.00 1583.40H1783.30M360.00 1511.70H376.70M1800.00 1511.70H1783.30M360.00 1368.30H376.70M1800.00 1368.30H1783.30M360.00 1296.60H376.70M1800.00 1296.60H1783.30M360.00 1224.90H376.70M1800.00 1224.90H1783.30M360.00 1081.50H376.70M1800.00 1081.50H1783.30M360.00 1009.80H376.70M1800.00 1009.80H1783.30M360.00 938.10H376.70M1800.00 938.10H1783.30M360.00 794.70H376.70M1800.00 794.70H1783.30M360.00 723.00H376.70M1800.00 723.00H1783.30M1920.00 2013.60H1953.30M2490.00 2013.60H2456.70M1920.00 1726.80H1953.30M2490.00 1726.80H2456.70M1920.00 1440.00H1953.30M2490.00 1440.00H2456.70M1920.00 1153.20H1953.30M2490.00 1153.20H2456.70M1920.00 866.40H1953.30M2490.00 866.40H2456.70M1920.00 2157.00H1936.70M2490.00 2157.00H2473.30M1920.00 2085.30H1936.70M2490.00 2085.30H2473.30M1920.00 1941.90H1936.70M2490.00 1941.90H2473.30M1920.00 1870.20H1936.70M2490.00 1870.20H2473.30M1920.00 1798.50H1936.70M2490.00 1798.50H2473.30M1920.00 1655.10H1936.70M2490.00 1655.10H2473.30M1920.00 1583.40H1936.70M2490.00 1583.40H2473.30M1920.00 1511.70H1936.70M2490.00 1511.70H2473.30M1920.00 1368.30H1936.70M2490.00 1368.30H2473.30M1920.00 1296.60H1936.70M2490.00 1296.60H2473.30M1920.00 1224.90H1936.70M2490.00 1224.90H2473.30M1920.00 1081.50H1936.70M2490.00 1081.50H2473.30M1920.00 1009.80H1936.70M2490.00 1009.80H2473.30M1920.00 938.10H1936.70M2490.00 938.10H2473.30M1920.00 794.70H1936.70M2490.00 794.70H2473.30M1920.00 723.00H1936.70M2490.00 723.00H2473.30M1920.00 2160.00V2126.70M1920.00 720.00V753.30M2346.00 2160.00V2126.70M2346.00 720.00V753.30M2005.20 2160.00V2143.30M2005.20 720.00V736.70M2090.40 2160.00V2143.30M2090.40 720.00V736.70M2175.60 2160.00V2143.30M2175.60 720.00V736.70M2260.80 2160.00V2143.30M2260.80 720.00V736.70M2431.20 2160.00V2143.30M2431.20 720.00V736.70M2760.00 2160.00H2726.70M2760.00 1872.00H2726.70M2760.00 1584.00H2726.70M2760.00 1296.00H2726.70M2760.00 1008.00H2726.70M2760.00 720.00H2726.70M2760.00 2088.00H2743.30M2760.00 2016.00H2743.30M2760.00 1944.00H2743.30M2760.00 1800.00H2743.30M2760.00 1728.00H2743.30M2760.00 1656.00H2743.30M2760.00 1512.00H2743.30M2760.00 1440.00H2743.30M2760.00 1368.00H2743.30M2760.00 1224.00H2743.30M2760.00 1152.00H2743.30M2760.00 1080.00H2743.30M2760.00 936.00H2743.30M2760.00 864.00H2743.30M2760.00 792.00H2743.30" stroke="#000" stroke-width="2.1" fill="none"/>
<path d="M0.2 2367V2400M0 2399.8H33.3" stroke="#000" stroke-width="2.2" fill="none"/>
<rect x="360.4" y="120.4" width="1440" height="480" fill="none" stroke="#000" stroke-width="3.1"/>
<rect x="360.4" y="720.4" width="1440" height="1440" fill="none" stroke="#000" stroke-width="3.1"/>
<rect x="1920.4" y="720.4" width="570" height="1440" fill="none" stroke="#000" stroke-width="3.1"/>
<rect x="2610.4" y="720.4" width="150" height="1440" fill="none" stroke="#000" stroke-width="3.1"/>
<g font-family="'Liberation Sans', sans-serif" font-weight="bold" fill="#000">
<g filter="url(#fh)">
<text transform="translate(1918.10,280.80) scale(0.6025,1)" font-size="127.57">PepDF</text>
<text transform="translate(1921.40,432.50) scale(0.6455,1)" font-size="104.05">Time window: 5 ns</text>
<text transform="translate(2066.59,2345.20) scale(0.6027,1)" font-size="107.57"># Counts</text>
<text transform="translate(657.45,2345.20) scale(0.6520,1)" font-size="104.19">Lateral displacement (nm)</text>
<text transform="translate(253.77,262.90) scale(0.6188,1)" font-size="85.59">500</text>
<text transform="translate(316.05,621.80) scale(0.5427,1)" font-size="85.59">0</text>
<text transform="translate(285.50,888.25) scale(0.5919,1)" font-size="85.59">40</text>
<text transform="translate(283.87,1175.05) scale(0.6097,1)" font-size="85.59">20</text>
<text transform="translate(314.68,1461.85) scale(0.5692,1)" font-size="85.59">0</text>
<text transform="translate(283.87,1748.65) scale(0.6097,1)" font-size="85.59"><tspan font-weight="normal" x="-83.80" dy="5.38" textLength="78.64" lengthAdjust="spacingAndGlyphs">−</tspan><tspan x="0" dy="-5.38">20</tspan></text>
<text transform="translate(285.50,2035.45) scale(0.5919,1)" font-size="85.59"><tspan font-weight="normal" x="-89.07" dy="5.38" textLength="81.00" lengthAdjust="spacingAndGlyphs">−</tspan><tspan x="0" dy="-5.38">40</tspan></text>
<text transform="translate(323.23,2237.00) scale(0.6239,1)" font-size="85.59">0.0</text>
<text transform="translate(760.55,2237.00) scale(0.6166,1)" font-size="85.59">0.5</text>
<text transform="translate(1196.08,2237.00) scale(0.6390,1)" font-size="85.59">1.0</text>
<text transform="translate(1633.42,2237.00) scale(0.6314,1)" font-size="85.59">1.5</text>
<text transform="translate(1907.21,2237.00) scale(0.5958,1)" font-size="85.59">0</text>
<text transform="translate(2303.16,2237.00) scale(0.6254,1)" font-size="85.59">500</text>
<text transform="translate(2778.91,2181.85) scale(0.6327,1)" font-size="85.59">0.0</text>
<text transform="translate(2778.93,1893.85) scale(0.6253,1)" font-size="85.59">0.2</text>
<text transform="translate(2778.97,1605.85) scale(0.6110,1)" font-size="85.59">0.4</text>
<text transform="translate(2778.93,1317.85) scale(0.6253,1)" font-size="85.59">0.6</text>
<text transform="translate(2778.93,1029.85) scale(0.6253,1)" font-size="85.59">0.8</text>
<text transform="translate(2777.13,741.85) scale(0.6481,1)" font-size="85.59">1.0</text>
</g>
<g filter="url(#fv)">
<text transform="translate(209.80,500.01) rotate(-90) scale(0.5913,1)" font-size="109.57"># Counts</text>
<text transform="translate(193.00,1782.86) rotate(-90) scale(0.6501,1)" font-size="104.75">Precession (degrees)</text>
<text transform="translate(2931.20,1733.07) rotate(-90) scale(0.6304,1)" font-size="85.47">Normalized Mean Time</text>
</g>
</g>
</svg>
</body></html>
